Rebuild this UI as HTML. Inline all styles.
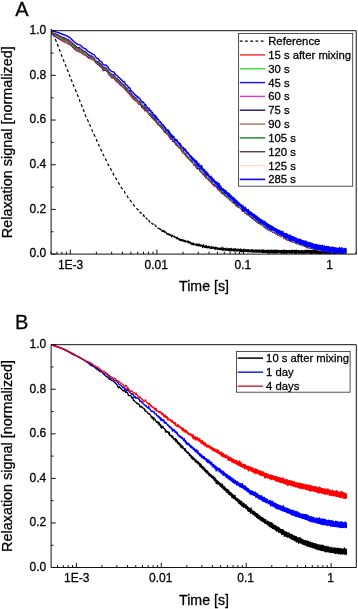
<!DOCTYPE html>
<html><head><meta charset="utf-8"><title>Relaxation signal</title>
<style>
html,body{margin:0;padding:0;background:#fff;}
body{width:358px;height:609px;overflow:hidden;}
svg{display:block;font-family:"Liberation Sans", sans-serif;fill:#000;will-change:transform;}
text{stroke:#000;stroke-width:0.28px;stroke-linejoin:round;}
</style></head>
<body>
<svg width="358" height="609" viewBox="0 0 358 609">
<rect width="358" height="609" fill="#fff"/>
<text x="15.3" y="16" font-size="20">A</text>
<text x="14.9" y="329.3" font-size="20">B</text>
<!-- panel A -->
<path d="M51.1,254.10 h4.6 M51.1,231.76 h2.4 M51.1,209.42 h4.6 M51.1,187.08 h2.4 M51.1,164.74 h4.6 M51.1,142.40 h2.4 M51.1,120.06 h4.6 M51.1,97.72 h2.4 M51.1,75.38 h4.6 M51.1,53.04 h2.4 M51.1,30.70 h4.6 M51.10,254.1 v-2.4 M56.90,254.1 v-2.4 M61.92,254.1 v-2.4 M66.35,254.1 v-2.4 M70.31,254.1 v-4.6 M96.38,254.1 v-2.4 M111.63,254.1 v-2.4 M122.45,254.1 v-2.4 M130.85,254.1 v-2.4 M137.71,254.1 v-2.4 M143.50,254.1 v-2.4 M148.53,254.1 v-2.4 M152.96,254.1 v-2.4 M156.92,254.1 v-4.6 M182.99,254.1 v-2.4 M198.24,254.1 v-2.4 M209.06,254.1 v-2.4 M217.45,254.1 v-2.4 M224.31,254.1 v-2.4 M230.11,254.1 v-2.4 M235.13,254.1 v-2.4 M239.56,254.1 v-2.4 M243.52,254.1 v-4.6 M269.59,254.1 v-2.4 M284.85,254.1 v-2.4 M295.67,254.1 v-2.4 M304.06,254.1 v-2.4 M310.92,254.1 v-2.4 M316.71,254.1 v-2.4 M321.74,254.1 v-2.4 M326.17,254.1 v-2.4 M330.13,254.1 v-4.6 M356.20,254.1 v-2.4" fill="none" stroke="#111" stroke-width="1"/>
<g>
<path d="M51.1,29.1 56.9,42.9 61.9,56.3 66.4,67.3 70.3,77.3 73.9,86.4 77.2,94.1 80.2,102.0 83.0,108.6 85.6,115.9 88.0,120.8 90.3,126.0 92.4,130.9 94.5,135.4 96.4,139.6 98.2,143.7 100.0,147.7 101.6,151.0 103.2,154.6 104.8,157.4 106.3,160.4 107.7,163.6 109.0,166.0 110.4,168.2 111.6,170.7 112.9,173.1 114.1,175.6 115.2,177.1 116.3,179.0 117.4,181.2 118.5,182.5 119.5,184.4 120.5,186.3 121.5,187.8 122.5,189.1 123.4,190.7 124.3,191.2 125.2,193.5 126.0,194.2 126.9,195.3 127.7,197.0 128.5,198.2 129.3,199.0 130.1,199.8 130.8,201.2 131.6,202.1 132.3,203.5 133.0,204.2 133.7,204.9 134.4,206.1 135.1,206.5 135.8,207.0 136.4,208.3 137.1,209.1 137.7,209.5 138.3,210.0 138.9,211.0 139.5,210.8 140.1,212.5 140.7,213.1 141.3,212.9 141.9,214.1 142.4,214.3 143.0,215.5 143.5,215.0 144.0,215.9 144.6,217.0 145.1,217.7 145.6,216.9 146.1,218.0 146.6,218.8 147.1,218.9 147.6,220.2 148.1,219.5 148.5,220.5 149.0,220.4 149.5,221.8 149.9,221.6 150.4,221.8 150.8,221.6 151.2,223.4 151.7,223.3 152.1,223.7 152.5,224.2 153.0,224.2 153.4,224.1 153.8,224.4 154.2,224.7 154.6,225.9 155.0,225.0 155.4,225.6 155.8,226.0 156.2,226.5 156.5,227.0 156.9,226.4 157.3,226.5 157.7,227.5 158.0,228.3 158.4,228.3 158.8,228.3 159.1,228.3 159.5,228.8 159.8,228.8" fill="none" stroke="#000" stroke-width="1.25" stroke-dasharray="2.9 2.5"/>
<path d="M159.8,228.8 160.2,229.5 160.5,229.0 160.8,229.7 161.2,229.8 161.5,230.3 161.8,230.3 162.2,231.6 162.5,231.3 162.8,231.5 163.1,230.1 163.5,231.1 163.8,231.1 164.1,231.8 164.4,230.7 164.7,232.5 165.0,232.6 165.3,231.7 165.6,232.0 165.9,232.3 166.2,232.8 166.5,233.3 166.8,234.1 167.1,233.2 167.4,233.8 167.6,233.7 167.9,234.6 168.2,234.3 168.5,234.7 168.8,233.6 169.0,234.2 169.4,234.1 169.4,235.3 169.8,235.1 170.1,234.7 170.4,234.8 170.6,235.4 170.9,234.9 171.2,234.9 171.5,236.9 171.5,235.8 171.9,235.6 172.2,235.6 172.4,235.4 172.7,235.4 173.0,236.5 173.0,236.8 173.4,236.5 173.6,236.8 173.9,236.8 174.2,236.9 174.2,236.1 174.6,236.8 174.8,237.2 175.2,236.8 175.2,237.1 175.5,237.0 175.8,237.4 176.0,238.1 176.3,237.7 176.3,237.5 176.7,238.4 177.0,238.4 177.0,239.0 177.3,237.1 177.5,238.8 177.9,238.5 177.9,238.1 178.2,239.0 178.4,239.2 178.7,238.9 178.7,239.3 179.0,239.8 179.3,239.0 179.3,238.8 179.6,239.6 180.0,238.9 180.0,240.5 180.3,240.0 180.6,240.7 180.6,239.5 180.9,239.4 181.2,239.8 181.2,240.2 181.5,239.5 181.7,240.1 181.7,240.0 182.0,241.0 182.3,239.8 182.3,240.8 182.6,239.9 182.9,240.1 182.9,239.8 183.3,239.9 183.3,240.7 183.5,241.2 183.8,241.1 183.8,240.8 184.2,241.1 184.2,241.7 184.5,241.1 184.7,240.9 184.7,240.2 185.1,240.3 185.1,241.6 185.4,241.6 185.6,242.0 185.6,241.3 186.0,241.1 186.0,241.4 186.2,241.8 186.5,241.6 186.5,241.3 186.8,241.7 186.8,241.8 187.2,241.8 187.2,241.5 187.5,240.9 187.5,241.9 187.8,242.0 188.0,242.8 188.0,241.5 188.3,241.2 188.3,242.9 188.7,242.4 188.7,242.3 189.0,241.9 189.0,242.8 189.3,242.3 189.3,241.6 189.6,242.5 189.6,242.6 189.8,242.8 190.1,243.2 190.1,242.1 190.4,242.3 190.4,243.3 190.7,243.0 190.7,242.6 191.0,242.8 191.0,244.1 191.3,243.3 191.3,242.7 191.6,242.8 191.6,243.3 191.9,244.6 191.9,243.3 192.2,243.5 192.2,243.7 192.5,244.8 192.5,243.5 192.8,243.3 192.8,244.0 193.1,244.1 193.1,243.1 193.5,243.8 193.5,244.8 193.8,243.9 193.8,243.4 194.1,243.5 194.1,244.3 194.3,244.6 194.3,244.5 194.6,244.5 194.6,244.8 194.9,244.7 194.9,244.2 195.2,244.2 195.2,244.7 195.6,245.1 195.6,244.5 195.8,244.2 195.8,244.8 196.1,245.5 196.1,244.4 196.4,244.5 196.4,245.3 196.8,244.9 196.8,243.6 197.0,244.3 197.0,245.4 197.4,245.6 197.4,244.5 197.7,244.1 197.7,245.0 197.9,246.0 197.9,244.6 198.2,244.5 198.2,246.0 198.6,245.6 198.6,245.1 198.9,243.9 198.9,245.3 199.2,244.6 199.2,244.5 199.5,244.4 199.5,245.5 199.8,245.9 199.8,245.0 200.1,245.2 200.1,246.3 200.4,245.5 200.4,244.9 200.7,244.9 200.7,246.1 201.0,246.0 201.0,245.8 201.3,245.5 201.3,245.9 201.5,245.6 201.5,245.1 201.8,245.0 201.8,245.6 202.2,246.3 202.2,245.4 202.4,246.5 202.4,247.6 202.7,246.5 202.7,245.7 203.1,245.7 203.1,246.7 203.4,246.6 203.4,244.5 203.7,245.9 203.7,247.0 203.9,247.1 203.9,245.6 204.3,246.4 204.3,247.1 204.6,246.9 204.6,246.3 204.9,246.0 204.9,246.8 205.1,247.8 205.1,246.3 205.4,246.0 205.4,247.0 205.7,247.3 205.7,246.7 206.0,245.3 206.0,246.6 206.3,247.6 206.3,246.2 206.6,246.1 206.6,247.1 206.9,247.2 206.9,246.2 207.2,246.6 207.2,247.3 207.5,247.9 207.5,246.9 207.8,246.7 207.8,247.5 208.1,247.7 208.1,246.9 208.4,246.1 208.4,247.8 208.8,247.6 208.8,247.3 209.1,247.0 209.1,247.5 209.3,248.0 209.3,246.7 209.6,246.6 209.6,247.2 209.9,248.2 209.9,247.0 210.3,247.9 210.3,248.2 210.5,248.1 210.5,247.8 210.9,247.1 210.9,248.6 211.2,248.1 211.2,246.4 211.4,247.4 211.4,248.0 211.7,248.2 211.7,247.3 212.0,247.8 212.0,248.4 212.3,248.3 212.3,247.0 212.6,247.2 212.6,247.8 212.9,248.3 212.9,247.2 213.2,246.9 213.2,248.2 213.5,248.3 213.5,247.2 213.9,247.7 213.9,248.2 214.2,248.6 214.2,247.6 214.4,247.7 214.4,248.8 214.8,248.6 214.8,247.9 215.0,247.8 215.0,248.6 215.3,249.6 215.3,248.1 215.6,247.0 215.6,248.3 216.0,248.7 216.0,247.4 216.3,247.6 216.3,248.8 216.6,248.9 216.6,247.6 216.9,247.7 216.9,248.3 217.2,248.9 217.2,248.3 217.4,248.8 217.4,249.4 217.7,249.2 217.7,247.8 218.0,248.5 218.0,249.4 218.4,249.5 218.4,248.4 218.7,248.3 218.7,248.7 219.0,249.7 219.0,248.4 219.3,248.0 219.3,249.0 219.5,249.0 219.5,248.2 219.9,248.8 219.9,249.5 220.2,248.9 220.2,248.2 220.5,248.1 220.5,249.7 220.7,249.3 220.7,248.7 221.0,248.0 221.0,249.7 221.3,249.4 221.3,248.4 221.6,248.0 221.6,249.6 221.9,249.6 221.9,248.4 222.2,247.1 222.2,249.9 222.5,249.6 222.5,248.7 222.8,248.5 222.8,249.5 223.2,250.5 223.2,248.7 223.5,247.9 223.5,249.3 223.7,249.8 223.7,248.7 224.1,248.5 224.1,249.7 224.4,249.6 224.4,248.6 224.7,248.8 224.7,249.9 224.9,249.9 224.9,248.8 225.2,248.5 225.2,249.7 225.5,250.2 225.5,248.3 225.8,248.8 225.8,250.6 226.1,249.8 226.1,248.0 226.4,248.9 226.4,249.8 226.7,250.2 226.7,249.1 227.0,249.0 227.0,250.3 227.3,250.0 227.3,248.8 227.7,248.7 227.7,249.7 228.0,250.4 228.0,249.1 228.2,248.7 228.2,250.2 228.5,250.4 228.5,248.4 228.9,249.1 228.9,250.0 229.2,251.0 229.2,249.4 229.5,248.8 229.5,250.6 229.8,250.1 229.8,248.9 230.1,249.0 230.1,250.6 230.3,250.1 230.3,248.5 230.6,248.7 230.6,250.5 230.9,250.0 230.9,248.8 231.2,248.2 231.2,250.9 231.6,250.5 231.6,249.1 231.9,249.0 231.9,250.3 232.1,250.3 232.1,249.5 232.4,249.6 232.4,250.3 232.7,250.7 232.7,249.3 233.0,249.0 233.0,249.8 233.3,250.8 233.3,249.5 233.7,248.9 233.7,250.8 234.0,251.1 234.0,249.3 234.3,249.0 234.3,250.1 234.5,250.7 234.5,249.1 234.8,249.2 234.8,250.6 235.2,250.1 235.2,248.4 235.5,249.1 235.5,250.7 235.8,250.9 235.8,249.7 236.1,249.5 236.1,250.6 236.4,251.1 236.4,249.5 236.7,249.3 236.7,251.3 236.9,251.0 236.9,249.2 237.2,249.1 237.2,250.1 237.5,251.0 237.5,249.8 237.9,249.4 237.9,250.6 238.2,251.0 238.2,249.8 238.5,249.0 238.5,250.9 238.8,250.7 238.8,249.5 239.1,249.9 239.1,251.0 239.4,251.1 239.4,249.3 239.6,250.2 239.6,251.2 239.9,251.2 239.9,249.5 240.2,249.7 240.2,251.2 240.6,251.5 240.6,250.0 240.9,248.7 240.9,251.4 241.2,250.7 241.2,250.0 241.5,249.5 241.5,251.9 241.8,250.9 241.8,249.9 242.0,249.8 242.0,251.3 242.4,251.5 242.4,250.1 242.6,250.0 242.6,251.2 242.9,251.6 242.9,250.0 243.2,249.7 243.2,251.1 243.5,252.3 243.5,249.4 243.8,249.0 243.8,251.2 244.1,251.3 244.1,250.0 244.5,249.9 244.5,251.2 244.8,250.9 244.8,249.4 245.1,250.1 245.1,251.4 245.3,250.9 245.3,249.7 245.6,249.7 245.6,251.4 245.9,251.4 245.9,250.1 246.2,249.8 246.2,251.5 246.6,251.3 246.6,249.5 246.9,250.4 246.9,251.4 247.1,251.3 247.1,250.3 247.4,249.6 247.4,251.4 247.8,251.8 247.8,250.1 248.1,250.1 248.1,251.4 248.4,251.0 248.4,249.9 248.6,249.6 248.6,251.6 248.9,251.8 248.9,250.0 249.3,250.1 249.3,251.6 249.6,251.9 249.6,250.3 249.8,250.1 249.8,251.4 250.1,251.3 250.1,250.2 250.4,250.0 250.4,251.8 250.7,251.8 250.7,250.6 251.0,250.0 251.0,251.6 251.4,251.5 251.4,250.0 251.7,249.7 251.7,251.5 252.0,252.2 252.0,250.1 252.3,249.9 252.3,251.8 252.6,251.7 252.6,249.9 252.9,250.4 252.9,251.7 253.1,252.0 253.1,250.0 253.4,250.1 253.4,252.1 253.8,251.7 253.8,250.4 254.1,250.6 254.1,251.8 254.3,252.4 254.3,250.4 254.6,250.6 254.6,251.4 255.0,251.6 255.0,250.3 255.3,249.9 255.3,251.6 255.6,251.5 255.6,250.5 255.9,250.4 255.9,251.8 256.2,252.4 256.2,249.7 256.4,250.2 256.4,251.4 256.8,252.0 256.8,250.7 257.1,250.6 257.1,251.6 257.4,252.0 257.4,250.1 257.7,250.3 257.7,251.9 258.0,251.8 258.0,250.5 258.3,250.1 258.3,252.1 258.6,252.0 258.6,250.6 258.9,250.7 258.9,252.2 259.2,252.0 259.2,249.7 259.5,250.8 259.5,252.1 259.8,252.1 259.8,250.4 260.0,250.4 260.0,252.3 260.3,252.1 260.3,250.5 260.6,250.7 260.6,252.1 260.9,252.0 260.9,250.4 261.2,250.2 261.2,252.0 261.6,252.2 261.6,249.9 261.9,250.4 261.9,252.5 262.2,252.6 262.2,250.7 262.5,250.3 262.5,252.1 262.7,252.4 262.7,250.0 263.0,250.0 263.0,252.6 263.3,252.6 263.3,249.8 263.6,250.6 263.6,252.2 264.0,252.2 264.0,250.0 264.3,250.7 264.3,252.0 264.6,252.6 264.6,250.5 264.9,250.6 264.9,252.0 265.2,252.4 265.2,250.9 265.5,250.5 265.5,252.3 265.7,252.6 265.7,250.4 266.0,250.3 266.0,252.5 266.4,252.0 266.4,250.3 266.7,250.6 266.7,252.5 266.9,252.3 266.9,250.4 267.2,250.3 267.2,252.4 267.5,252.9 267.5,250.3 267.8,251.0 267.8,252.1 268.1,252.5 268.1,250.5 268.4,250.2 268.4,251.9 268.7,252.3 268.7,250.5 269.1,250.0 269.1,253.4 269.3,252.2 269.3,250.7 269.6,250.7 269.6,252.5 270.0,252.5 270.0,250.3 270.3,251.1 270.3,252.2 270.6,252.7 270.6,251.4 270.9,250.8 270.9,252.6 271.2,252.2 271.2,250.1 271.4,250.2 271.4,252.3 271.8,252.2 271.8,250.3 272.1,251.0 272.1,253.1 272.3,252.7 272.3,250.2 272.6,251.2 272.6,252.7 272.9,252.3 272.9,250.9 273.2,250.6 273.2,252.2 273.5,252.6 273.5,250.1 273.8,250.6 273.8,253.3 274.1,252.4 274.1,251.0 274.4,250.3 274.4,252.3 274.7,252.7 274.7,250.5 275.0,250.2 275.0,252.9 275.4,252.3 275.4,250.8 275.7,250.3 275.7,253.0 275.9,252.8 275.9,250.8 276.2,250.4 276.2,252.9 276.5,252.3 276.5,250.8 276.8,250.1 276.8,252.9 277.2,253.1 277.2,250.5 277.4,250.5 277.4,252.7 277.8,252.2 277.8,250.7 278.1,250.8 278.1,252.8 278.4,252.2 278.4,250.1 278.7,250.9 278.7,252.6 279.0,252.7 279.0,250.5 279.3,250.5 279.3,252.7 279.5,252.5 279.5,250.5 279.9,250.6 279.9,252.5 280.2,252.9 280.2,250.6 280.4,251.0 280.4,252.8 280.7,252.7 280.7,250.6 281.0,250.6 281.0,252.5 281.3,252.7 281.3,250.4 281.6,250.6 281.6,253.4 281.9,252.8 281.9,250.5 282.3,250.7 282.3,252.9 282.6,252.9 282.6,250.5 282.8,250.8 282.8,252.3 283.2,253.2 283.2,250.1 283.5,250.6 283.5,252.9 283.8,252.8 283.8,250.7 284.0,250.8 284.0,252.5 284.3,253.0 284.3,250.2 284.7,250.4 284.7,252.9 285.0,253.0 285.0,250.1 285.3,250.3 285.3,252.8 285.5,252.7 285.5,250.7 285.8,250.7 285.8,253.0 286.2,253.4 286.2,250.8 286.5,250.4 286.5,252.9 286.8,252.5 286.8,250.8 287.0,250.8 287.0,252.8 287.3,253.1 287.3,250.8 287.7,250.5 287.7,252.7 288.0,252.7 288.0,250.6 288.3,250.9 288.3,252.8 288.5,252.7 288.5,250.7 288.8,250.9 288.8,252.7 289.2,252.9 289.2,250.8 289.5,250.5 289.5,253.1 289.8,253.0 289.8,250.2 290.1,251.1 290.1,252.6 290.4,253.0 290.4,250.5 290.6,251.0 290.6,252.7 290.9,252.7 290.9,250.9 291.3,250.2 291.3,252.9 291.6,253.3 291.6,250.7 291.8,251.0 291.8,252.8 292.1,252.7 292.1,250.8 292.4,250.3 292.4,253.3 292.7,252.8 292.7,251.0 293.1,250.8 293.1,252.6 293.4,252.5 293.4,250.3 293.7,250.9 293.7,252.5 293.9,252.8 293.9,251.2 294.2,250.2 294.2,253.2 294.5,253.0 294.5,250.9 294.8,250.6 294.8,253.2 295.1,253.1 295.1,250.5 295.5,251.2 295.5,253.2 295.8,252.7 295.8,250.6 296.1,250.2 296.1,253.1 296.4,252.8 296.4,250.0 296.6,250.6 296.6,253.3 297.0,253.0 297.0,250.9 297.2,250.9 297.2,253.0 297.5,252.9 297.5,250.8 297.9,250.7 297.9,252.9 298.2,252.8 298.2,250.6 298.5,250.8 298.5,252.6 298.8,252.8 298.8,250.4 299.1,250.6 299.1,253.0 299.4,253.4 299.4,250.5 299.6,251.0 299.6,253.1 299.9,253.0 299.9,250.8 300.2,251.1 300.2,252.9 300.5,252.8 300.5,250.9 300.8,250.6 300.8,253.2 301.2,253.4 301.2,251.1 301.4,250.9 301.4,253.2 301.8,253.2 301.8,250.4 302.0,250.3 302.0,253.1 302.4,253.0 302.4,250.8 302.7,250.8 302.7,253.0 303.0,253.2 303.0,250.8 303.3,251.1 303.3,253.1 303.6,252.9 303.6,250.7 303.9,250.9 303.9,253.3 304.2,252.9 304.2,250.9 304.5,251.0 304.5,252.8 304.8,252.9 304.8,250.3 305.1,250.7 305.1,253.0 305.4,253.4 305.4,250.7 305.6,250.4 305.6,252.7 305.9,252.8 305.9,250.5 306.2,250.3 306.2,253.0 306.6,252.8 306.6,250.3 306.8,250.7 306.8,252.7 307.2,253.0 307.2,250.3 307.5,250.9 307.5,252.8 307.7,253.0 307.7,250.6 308.1,250.1 308.1,253.2 308.4,253.1 308.4,250.7 308.6,250.7 308.6,253.0 309.0,253.0 309.0,250.5 309.2,250.3 309.2,253.3 309.5,253.1 309.5,250.3 309.9,250.9 309.9,253.0 310.1,253.2 310.1,250.6 310.4,250.5 310.4,253.0 310.7,253.4 310.7,250.6 311.1,250.6 311.1,253.1 311.3,252.8 311.3,250.5 311.6,250.9 311.6,253.4 311.9,253.4 311.9,251.0 312.2,250.5 312.2,252.9 312.6,253.1 312.6,251.0 312.8,250.8 312.8,253.3 313.1,252.9 313.1,250.8 313.4,250.8 313.4,253.2 313.7,253.0 313.7,250.6 314.1,250.3 314.1,253.0 314.3,253.1 314.3,250.8 314.6,250.5 314.6,252.9 314.9,253.1 314.9,250.8 315.2,250.5 315.2,252.8 315.5,253.2 315.5,250.6 315.8,251.1 315.8,253.4 316.2,253.4 316.2,250.4 316.4,250.9 316.4,252.8 316.7,252.8 316.7,250.2 317.1,250.7 317.1,253.1 317.4,252.7 317.4,250.7 317.7,250.9 317.7,253.0 318.0,253.4 318.0,250.6 318.2,250.8 318.2,253.4 318.5,253.2 318.5,250.2 318.8,250.9 318.8,253.0 319.2,253.4 319.2,250.3 319.5,250.8 319.5,253.4 319.7,253.1 319.7,250.9 320.0,250.7 320.0,253.1 320.3,253.4 320.3,250.5 320.7,250.9 320.7,252.9 320.9,253.2 320.9,250.6 321.2,250.3 321.2,252.7 321.6,252.9 321.6,250.9 321.9,250.8 321.9,253.4 322.1,252.9 322.1,250.1 322.4,250.7 322.4,253.3 322.7,253.3 322.7,251.0 323.1,250.7 323.1,253.0 323.4,253.0 323.4,250.7 323.7,250.5 323.7,253.2 323.9,253.3 323.9,250.4 324.3,250.4 324.3,253.4 324.6,253.4 324.6,250.6 324.9,250.9 324.9,253.4 325.2,253.0 325.2,250.7 325.5,250.6 325.5,252.9 325.8,253.3 325.8,250.3 326.1,250.6 326.1,253.1 326.4,253.3 326.4,250.5 326.7,250.8 326.7,253.2 326.9,253.1 326.9,250.5 327.3,250.6 327.3,253.2 327.6,252.9 327.6,250.2 327.8,250.6 327.8,253.3 328.2,253.4 328.2,250.9 328.5,250.7 328.5,253.3 328.8,253.0 328.8,250.6 329.0,250.6 329.0,253.4 329.4,253.4 329.4,250.9 329.7,250.8 329.7,252.9 330.0,253.4 330.0,249.9 330.3,250.6 330.3,253.1 330.5,253.3 330.5,250.8 330.8,250.5 330.8,252.9 331.2,253.3 331.2,250.0 331.5,250.3 331.5,253.4 331.8,253.3 331.8,250.6 332.1,250.6 332.1,252.9 332.4,253.0 332.4,251.0 332.6,250.9 332.6,253.0 332.9,253.4 332.9,250.8 333.2,250.7 333.2,253.4 333.5,253.3 333.5,250.4 333.8,250.6 333.8,253.4 334.1,253.4 334.1,251.0 334.5,250.8 334.5,253.4 334.8,253.4 334.8,250.5 335.1,250.8 335.1,253.4 335.3,253.4 335.3,250.8 335.6,250.4 335.6,253.0 336.0,253.4 336.0,250.8 336.3,250.6 336.3,253.3 336.5,253.3 336.5,250.9 336.9,250.6 336.9,253.3 337.2,253.0 337.2,250.2 337.5,250.9 337.5,252.9 337.7,253.3 337.7,250.7 338.0,250.7 338.0,253.4 338.4,253.0 338.4,250.6 338.6,250.8 338.6,253.1 338.9,253.0 338.9,250.6 339.3,250.4 339.3,253.3 339.6,253.3 339.6,250.5 339.8,250.5 339.8,253.1 340.2,253.3 340.2,250.6 340.5,250.6 340.5,253.4 340.7,253.4 340.7,250.9 341.0,250.7 341.0,253.3 341.3,253.4 341.3,250.7 341.7,250.6 341.7,253.3 342.0,253.4 342.0,250.8 342.3,250.9 342.3,253.3 342.6,253.3 342.6,250.7 342.9,250.6 342.9,253.2 343.2,252.9 343.2,250.8 343.5,250.0 343.5,253.4 343.7,253.0 343.7,250.7 344.0,250.7 344.0,253.3 344.4,253.4 344.4,250.4 344.7,250.3 344.7,253.4 344.9,253.2 344.9,250.4 345.3,250.0 345.3,253.2 345.6,253.4 345.6,250.7 345.8,250.5 345.8,253.2" fill="none" stroke="#000" stroke-width="1.1" stroke-linejoin="round"/>
<path d="M51.1,34.2 56.9,37.8 61.9,41.0 66.4,43.3 70.3,45.0 73.9,49.0 77.2,51.5 80.2,52.2 83.0,54.7 85.6,55.4 88.0,58.1 90.3,58.8 92.4,59.7 94.5,61.5 96.4,63.9 98.2,64.8 100.0,66.9 101.6,67.7 103.2,71.0 104.8,70.4 106.3,71.1 107.7,72.7 109.0,75.5 110.4,76.1 111.6,78.2 112.9,78.0 114.1,78.8 115.2,80.5 116.3,82.1 117.4,82.1 118.5,83.7 119.5,84.0 120.5,85.7 121.5,86.4 122.5,87.1 123.4,88.3 124.3,87.9 125.2,89.7 126.0,91.1 126.9,91.8 127.7,92.6 128.5,93.8 129.3,93.6 130.1,95.9 130.8,96.1 131.6,96.9 132.3,98.6 133.0,99.0 133.7,100.0 134.4,99.9 135.1,101.2 135.8,101.0 136.4,101.3 137.1,102.0 137.7,103.5 138.3,103.4 138.9,105.0 139.5,104.3 140.1,104.6 140.7,105.7 141.3,105.9 141.9,107.9 142.4,108.0 143.0,108.9 143.5,108.1 144.0,110.1 144.6,109.4 145.1,111.4 145.6,110.8 146.1,111.2 146.6,111.6 147.1,112.6 147.6,112.5 148.1,113.1 148.5,114.4 149.0,113.9 149.5,115.8 149.9,115.3 150.4,116.4 150.8,115.7 151.2,116.8 151.7,117.1 152.1,118.5 152.5,118.2 153.0,119.1 153.4,119.7 153.8,120.2 154.2,120.4 154.6,121.1 155.0,120.3 155.4,121.4 155.8,122.5 156.2,121.5 156.5,122.6 156.9,122.8 157.3,124.1 157.7,124.2 158.0,125.4 158.4,124.7 158.8,125.2 159.1,125.9 159.5,126.4 159.8,126.6 160.2,126.5 160.5,127.6 160.8,127.3 161.2,127.9 161.5,128.5 161.8,128.2 162.2,128.6 162.5,129.5 162.8,129.5 163.1,129.2 163.5,130.0 163.8,130.4 164.1,131.3 164.4,132.7 164.7,131.2 165.0,133.0 165.3,132.5 165.6,133.4 165.9,133.2 166.2,132.7 166.5,133.4 166.8,133.4 167.1,133.2 167.4,134.3 167.6,134.9 167.9,135.0 168.2,135.6 168.5,134.9 168.8,136.9 169.0,135.7 169.4,136.2 169.4,137.2 169.8,136.8 170.1,139.2 170.4,138.4 170.6,139.4 170.9,138.2 171.2,137.9 171.5,139.9 171.5,138.8 171.9,139.3 172.2,139.7 172.4,141.0 172.7,141.2 173.0,140.5 173.0,141.6 173.4,141.4 173.6,141.0 173.9,141.2 174.2,143.0 174.2,142.2 174.6,142.2 174.8,141.4 175.2,142.2 175.2,143.7 175.5,144.3 175.8,144.3 176.0,143.6 176.3,145.8 176.3,144.8 176.7,143.1 177.0,144.8 177.0,146.2 177.3,144.5 177.5,146.3 177.9,147.0 177.9,146.5 178.2,146.9 178.4,146.8 178.7,146.6 178.7,147.3 179.0,147.9 179.3,148.0 179.3,147.0 179.6,148.4 180.0,147.6 180.0,148.9 180.3,149.3 180.6,149.3 180.6,149.2 180.9,149.6 181.2,149.6 181.2,150.3 181.5,151.5 181.7,151.6 181.7,151.4 182.0,151.6 182.3,150.7 182.3,152.2 182.6,153.7 182.9,152.3 182.9,150.5 183.3,151.6 183.3,152.5 183.5,153.1 183.8,153.0 183.8,151.3 184.2,153.7 184.2,153.8 184.5,151.8 184.7,154.8 184.7,154.2 185.1,153.8 185.1,154.7 185.4,154.3 185.6,155.3 185.6,154.8 186.0,154.7 186.0,154.9 186.2,156.2 186.5,156.1 186.5,155.7 186.8,155.7 186.8,156.0 187.2,158.3 187.2,157.1 187.5,157.2 187.5,158.3 187.8,157.0 188.0,157.4 188.0,156.5 188.3,157.5 188.3,157.9 188.7,158.6 188.7,158.2 189.0,158.4 189.0,158.7 189.3,159.4 189.3,159.0 189.6,159.2 189.6,160.1 189.8,160.0 190.1,159.8 190.1,159.2 190.4,159.5 190.4,159.6 190.7,160.5 190.7,160.5 191.0,160.0 191.0,160.2 191.3,162.0 191.3,160.9 191.6,161.7 191.6,161.8 191.9,162.4 191.9,161.2 192.2,162.4 192.2,163.1 192.5,162.7 192.5,161.9 192.8,162.8 192.8,162.9 193.1,162.8 193.1,162.3 193.5,163.5 193.5,163.8 193.8,165.7 193.8,163.0 194.1,164.1 194.1,164.6 194.3,165.9 194.3,164.1 194.6,164.0 194.6,164.3 194.9,166.1 194.9,164.4 195.2,165.1 195.2,166.2 195.6,166.0 195.6,165.4 195.8,165.6 195.8,166.9 196.1,167.1 196.1,165.8 196.4,166.5 196.4,168.3 196.8,167.4 196.8,165.5 197.0,166.9 197.0,169.1 197.4,167.5 197.4,166.7 197.7,167.5 197.7,168.1 197.9,168.4 197.9,168.0 198.2,167.9 198.2,170.0 198.6,168.1 198.6,167.9 198.9,168.6 198.9,168.8 199.2,170.1 199.2,169.5 199.5,169.3 199.5,170.2 199.8,171.6 199.8,170.5 200.1,169.9 200.1,170.4 200.4,171.5 200.4,170.8 200.7,170.4 200.7,171.5 201.0,172.0 201.0,171.4 201.3,171.9 201.3,173.0 201.5,172.2 201.5,170.6 201.8,171.1 201.8,172.9 202.2,173.3 202.2,171.6 202.4,173.1 202.4,173.4 202.7,173.7 202.7,172.6 203.1,174.5 203.1,175.3 203.4,174.6 203.4,174.3 203.7,173.0 203.7,174.0 203.9,175.4 203.9,174.1 204.3,174.5 204.3,175.1 204.6,175.7 204.6,174.0 204.9,175.5 204.9,176.5 205.1,177.2 205.1,175.4 205.4,175.5 205.4,177.0 205.7,176.7 205.7,175.0 206.0,176.5 206.0,177.8 206.3,178.1 206.3,176.2 206.6,176.2 206.6,176.6 206.9,178.9 206.9,177.5 207.2,177.8 207.2,178.4 207.5,178.9 207.5,176.2 207.8,178.3 207.8,178.8 208.1,179.9 208.1,177.4 208.4,177.3 208.4,179.4 208.8,180.6 208.8,177.8 209.1,178.8 209.1,181.0 209.3,180.9 209.3,179.6 209.6,180.5 209.6,181.1 209.9,182.1 209.9,178.7 210.3,180.4 210.3,181.8 210.5,182.6 210.5,181.2 210.9,180.0 210.9,181.8 211.2,182.5 211.2,181.7 211.4,181.3 211.4,182.2 211.7,183.8 211.7,181.3 212.0,181.8 212.0,182.1 212.3,183.5 212.3,181.8 212.6,182.6 212.6,183.8 212.9,185.1 212.9,181.9 213.2,182.8 213.2,183.3 213.5,185.6 213.5,182.9 213.9,184.3 213.9,185.1 214.2,186.7 214.2,184.5 214.4,183.7 214.4,185.9 214.8,185.2 214.8,184.1 215.0,184.3 215.0,186.2 215.3,186.0 215.3,183.9 215.6,185.7 215.6,186.6 216.0,186.8 216.0,185.2 216.3,184.7 216.3,187.4 216.6,187.6 216.6,185.8 216.9,186.7 216.9,187.2 217.2,188.1 217.2,187.3 217.4,186.6 217.4,188.3 217.7,188.6 217.7,187.0 218.0,187.5 218.0,189.4 218.4,190.3 218.4,188.1 218.7,187.5 218.7,189.3 219.0,190.6 219.0,188.3 219.3,189.3 219.3,191.1 219.5,190.9 219.5,188.8 219.9,189.6 219.9,190.6 220.2,192.1 220.2,189.3 220.5,189.6 220.5,191.4 220.7,192.0 220.7,189.0 221.0,190.0 221.0,191.3 221.3,193.8 221.3,191.0 221.6,190.9 221.6,192.6 221.9,193.2 221.9,190.8 222.2,191.4 222.2,193.2 222.5,193.3 222.5,191.7 222.8,191.1 222.8,193.7 223.2,194.0 223.2,191.7 223.5,192.2 223.5,194.0 223.7,194.2 223.7,192.5 224.1,193.5 224.1,195.0 224.4,195.9 224.4,192.5 224.7,193.0 224.7,196.1 224.9,195.1 224.9,194.0 225.2,194.0 225.2,195.7 225.5,195.9 225.5,194.2 225.8,193.8 225.8,196.2 226.1,196.4 226.1,194.8 226.4,193.7 226.4,196.5 226.7,197.9 226.7,195.5 227.0,195.8 227.0,196.7 227.3,197.4 227.3,195.0 227.7,195.7 227.7,197.3 228.0,198.0 228.0,195.9 228.2,196.4 228.2,198.5 228.5,198.7 228.5,197.0 228.9,197.2 228.9,198.2 229.2,199.6 229.2,197.1 229.5,198.3 229.5,200.2 229.8,199.8 229.8,197.7 230.1,198.0 230.1,199.2 230.3,200.4 230.3,197.4 230.6,199.1 230.6,201.2 230.9,200.0 230.9,198.3 231.2,199.4 231.2,200.6 231.6,201.6 231.6,197.9 231.9,198.8 231.9,201.7 232.1,201.7 232.1,199.7 232.4,199.5 232.4,201.2 232.7,201.9 232.7,199.9 233.0,200.7 233.0,202.6 233.3,203.7 233.3,201.7 233.7,200.8 233.7,202.9 234.0,203.5 234.0,201.5 234.3,201.6 234.3,203.8 234.5,203.9 234.5,201.3 234.8,202.4 234.8,203.9 235.2,204.4 235.2,201.6 235.5,202.7 235.5,205.0 235.8,205.5 235.8,202.9 236.1,203.3 236.1,205.2 236.4,206.9 236.4,203.6 236.7,203.5 236.7,205.1 236.9,205.4 236.9,204.3 237.2,204.6 237.2,206.7 237.5,206.4 237.5,204.5 237.9,204.6 237.9,207.4 238.2,207.2 238.2,204.2 238.5,205.0 238.5,207.5 238.8,207.0 238.8,204.5 239.1,206.1 239.1,207.7 239.4,206.9 239.4,204.9 239.6,205.8 239.6,207.9 239.9,208.1 239.9,206.3 240.2,206.2 240.2,208.6 240.6,209.1 240.6,207.3 240.9,206.7 240.9,209.0 241.2,209.4 241.2,207.3 241.5,207.5 241.5,211.0 241.8,210.0 241.8,207.8 242.0,208.6 242.0,210.4 242.4,210.5 242.4,208.6 242.6,208.9 242.6,210.8 242.9,212.0 242.9,209.5 243.2,209.5 243.2,211.7 243.5,211.7 243.5,209.0 243.8,210.0 243.8,211.7 244.1,211.9 244.1,208.8 244.5,209.8 244.5,212.2 244.8,212.4 244.8,210.0 245.1,210.5 245.1,212.4 245.3,212.3 245.3,210.6 245.6,210.9 245.6,213.6 245.9,213.5 245.9,210.9 246.2,210.9 246.2,213.7 246.6,213.4 246.6,212.4 246.9,212.8 246.9,215.2 247.1,213.8 247.1,212.2 247.4,212.4 247.4,213.6 247.8,215.0 247.8,213.0 248.1,212.2 248.1,214.8 248.4,215.5 248.4,212.9 248.6,213.8 248.6,214.9 248.9,215.5 248.9,212.9 249.3,213.8 249.3,216.0 249.6,216.7 249.6,213.9 249.8,213.9 249.8,216.2 250.1,216.9 250.1,214.1 250.4,213.4 250.4,216.4 250.7,217.4 250.7,214.5 251.0,214.3 251.0,217.1 251.4,217.7 251.4,215.4 251.7,215.2 251.7,218.1 252.0,217.9 252.0,216.6 252.3,216.6 252.3,217.9 252.6,218.6 252.6,216.3 252.9,216.6 252.9,218.7 253.1,218.5 253.1,216.5 253.4,217.1 253.4,218.7 253.8,219.8 253.8,217.6 254.1,217.4 254.1,219.3 254.3,219.8 254.3,218.2 254.6,217.9 254.6,220.8 255.0,220.1 255.0,218.3 255.3,218.8 255.3,221.0 255.6,220.8 255.6,218.3 255.9,217.9 255.9,220.8 256.2,221.2 256.2,218.6 256.4,219.0 256.4,222.1 256.8,222.5 256.8,218.5 257.1,219.5 257.1,222.0 257.4,222.8 257.4,219.9 257.7,219.6 257.7,222.8 258.0,222.4 258.0,219.5 258.3,220.3 258.3,223.0 258.6,222.9 258.6,220.4 258.9,220.4 258.9,223.0 259.2,223.0 259.2,221.4 259.5,221.3 259.5,224.3 259.8,223.5 259.8,221.1 260.0,221.1 260.0,223.8 260.3,224.1 260.3,221.8 260.6,221.7 260.6,224.4 260.9,224.5 260.9,222.0 261.2,222.6 261.2,225.2 261.6,225.1 261.6,222.7 261.9,222.4 261.9,224.6 262.2,225.3 262.2,222.0 262.5,222.1 262.5,225.5 262.7,225.6 262.7,222.9 263.0,223.1 263.0,225.9 263.3,225.6 263.3,223.6 263.6,223.2 263.6,226.3 264.0,226.7 264.0,224.0 264.3,224.4 264.3,227.2 264.6,226.6 264.6,224.4 264.9,224.8 264.9,227.2 265.2,227.6 265.2,224.4 265.5,225.4 265.5,228.7 265.7,228.0 265.7,226.1 266.0,226.0 266.0,228.5 266.4,228.5 266.4,225.4 266.7,225.8 266.7,227.9 266.9,228.3 266.9,225.7 267.2,225.2 267.2,228.4 267.5,228.7 267.5,226.4 267.8,226.6 267.8,228.6 268.1,229.1 268.1,227.7 268.4,227.0 268.4,230.4 268.7,229.7 268.7,226.9 269.1,226.6 269.1,230.5 269.3,230.7 269.3,227.4 269.6,227.3 269.6,230.2 270.0,230.3 270.0,228.0 270.3,227.4 270.3,230.7 270.6,230.7 270.6,227.6 270.9,228.7 270.9,231.7 271.2,231.2 271.2,228.7 271.4,228.6 271.4,231.2 271.8,231.2 271.8,229.1 272.1,229.0 272.1,231.4 272.3,231.8 272.3,228.6 272.6,229.5 272.6,231.9 272.9,233.0 272.9,229.9 273.2,229.3 273.2,232.4 273.5,232.5 273.5,229.8 273.8,229.5 273.8,232.6 274.1,232.3 274.1,229.8 274.4,230.1 274.4,232.9 274.7,233.0 274.7,230.3 275.0,230.2 275.0,233.8 275.4,233.9 275.4,230.4 275.7,230.7 275.7,233.4 275.9,233.8 275.9,231.3 276.2,231.0 276.2,233.5 276.5,233.9 276.5,231.9 276.8,231.5 276.8,234.0 277.2,234.5 277.2,232.0 277.4,231.1 277.4,235.7 277.8,235.0 277.8,232.6 278.1,231.8 278.1,234.6 278.4,235.5 278.4,232.2 278.7,232.5 278.7,235.4 279.0,235.0 279.0,232.1 279.3,233.0 279.3,235.6 279.5,236.2 279.5,232.4 279.9,233.0 279.9,236.1 280.2,235.9 280.2,232.5 280.4,233.5 280.4,236.3 280.7,236.5 280.7,233.3 281.0,233.8 281.0,236.5 281.3,236.9 281.3,233.1 281.6,234.0 281.6,236.3 281.9,237.4 281.9,233.9 282.3,234.4 282.3,237.5 282.6,237.0 282.6,234.1 282.8,234.5 282.8,237.2 283.2,237.1 283.2,235.1 283.5,234.8 283.5,239.1 283.8,237.7 283.8,235.3 284.0,234.3 284.0,237.5 284.3,237.6 284.3,234.9 284.7,234.9 284.7,238.6 285.0,238.3 285.0,235.2 285.3,235.5 285.3,238.8 285.5,238.4 285.5,236.0 285.8,235.9 285.8,239.0 286.2,238.8 286.2,235.8 286.5,235.7 286.5,239.1 286.8,239.5 286.8,236.3 287.0,235.8 287.0,240.6 287.3,239.5 287.3,236.8 287.7,236.7 287.7,239.1 288.0,240.5 288.0,237.3 288.3,236.5 288.3,240.7 288.5,239.4 288.5,237.0 288.8,237.0 288.8,240.4 289.2,240.6 289.2,237.1 289.5,237.2 289.5,241.2 289.8,240.4 289.8,236.9 290.1,237.3 290.1,241.4 290.4,241.1 290.4,237.2 290.6,238.4 290.6,240.9 290.9,242.2 290.9,237.8 291.3,238.2 291.3,241.8 291.6,241.7 291.6,237.8 291.8,238.2 291.8,242.3 292.1,241.7 292.1,239.2 292.4,238.5 292.4,241.3 292.7,241.8 292.7,239.2 293.1,238.8 293.1,242.3 293.4,242.8 293.4,239.1 293.7,239.1 293.7,242.0 293.9,242.2 293.9,238.7 294.2,239.3 294.2,242.4 294.5,243.0 294.5,239.5 294.8,239.9 294.8,242.4 295.1,242.7 295.1,239.3 295.5,240.1 295.5,243.1 295.8,243.6 295.8,240.3 296.1,239.7 296.1,243.1 296.4,244.0 296.4,240.5 296.6,240.7 296.6,244.2 297.0,243.5 297.0,240.5 297.2,240.3 297.2,243.1 297.5,243.9 297.5,240.3 297.9,241.2 297.9,244.4 298.2,243.7 298.2,240.5 298.5,241.5 298.5,244.2 298.8,243.9 298.8,240.6 299.1,241.1 299.1,243.8 299.4,244.2 299.4,241.4 299.6,241.2 299.6,245.1 299.9,244.6 299.9,240.2 300.2,241.9 300.2,244.9 300.5,244.8 300.5,241.4 300.8,241.4 300.8,246.0 301.2,245.7 301.2,240.8 301.4,242.0 301.4,244.9 301.8,244.9 301.8,241.9 302.0,242.2 302.0,245.4 302.4,245.4 302.4,241.5 302.7,241.5 302.7,245.8 303.0,245.4 303.0,242.5 303.3,242.5 303.3,245.7 303.6,245.7 303.6,241.9 303.9,242.7 303.9,245.9 304.2,246.4 304.2,242.4 304.5,243.0 304.5,246.4 304.8,246.8 304.8,242.3 305.1,242.7 305.1,245.9 305.4,246.2 305.4,242.9 305.6,243.2 305.6,247.4 305.9,247.0 305.9,243.6 306.2,243.4 306.2,246.5 306.6,246.3 306.6,242.8 306.8,243.7 306.8,247.2 307.2,248.4 307.2,243.4 307.5,243.8 307.5,247.2 307.7,246.2 307.7,243.8 308.1,244.0 308.1,247.3 308.4,247.3 308.4,243.5 308.6,244.2 308.6,247.4 309.0,247.5 309.0,243.9 309.2,244.0 309.2,247.5 309.5,247.7 309.5,244.1 309.9,243.9 309.9,247.9 310.1,248.0 310.1,244.7 310.4,244.1 310.4,248.3 310.7,247.9 310.7,244.6 311.1,243.7 311.1,248.8 311.3,248.3 311.3,244.6 311.6,245.2 311.6,247.9 311.9,248.0 311.9,244.8 312.2,244.6 312.2,249.6 312.6,248.2 312.6,244.9 312.8,244.6 312.8,248.8 313.1,249.4 313.1,244.6 313.4,245.5 313.4,248.1 313.7,248.8 313.7,245.3 314.1,245.8 314.1,248.7 314.3,249.7 314.3,245.3 314.6,244.6 314.6,248.5 314.9,249.1 314.9,245.9 315.2,245.5 315.2,248.8 315.5,249.0 315.5,245.0 315.8,245.2 315.8,248.9 316.2,249.1 316.2,244.8 316.4,245.5 316.4,249.8 316.7,249.3 316.7,246.1 317.1,245.8 317.1,249.0 317.4,249.7 317.4,246.0 317.7,245.6 317.7,249.7 318.0,249.7 318.0,246.3 318.2,245.8 318.2,249.5 318.5,249.1 318.5,246.0 318.8,246.3 318.8,250.4 319.2,250.1 319.2,246.5 319.5,245.2 319.5,249.3 319.7,249.9 319.7,246.1 320.0,246.2 320.0,250.2 320.3,250.0 320.3,245.8 320.7,246.2 320.7,250.2 320.9,250.0 320.9,246.5 321.2,247.0 321.2,250.2 321.6,249.7 321.6,246.9 321.9,246.3 321.9,250.6 322.1,250.3 322.1,245.6 322.4,246.6 322.4,250.2 322.7,250.6 322.7,246.4 323.1,246.6 323.1,251.4 323.4,250.6 323.4,247.2 323.7,246.4 323.7,250.6 323.9,250.9 323.9,246.7 324.3,247.2 324.3,250.2 324.6,251.7 324.6,247.0 324.9,247.3 324.9,251.2 325.2,250.9 325.2,246.9 325.5,246.2 325.5,250.8 325.8,251.2 325.8,247.0 326.1,247.0 326.1,250.9 326.4,250.9 326.4,247.0 326.7,247.3 326.7,251.1 326.9,251.0 326.9,247.4 327.3,247.6 327.3,250.8 327.6,251.2 327.6,247.4 327.8,247.9 327.8,251.3 328.2,251.2 328.2,248.1 328.5,248.1 328.5,251.9 328.8,251.1 328.8,247.4 329.0,247.9 329.0,251.9 329.4,251.6 329.4,248.1 329.7,247.8 329.7,252.2 330.0,251.5 330.0,248.0 330.3,248.1 330.3,252.2 330.5,252.1 330.5,248.0 330.8,248.3 330.8,251.8 331.2,252.0 331.2,247.6 331.5,247.3 331.5,251.7 331.8,251.9 331.8,248.4 332.1,248.0 332.1,251.8 332.4,252.1 332.4,248.6 332.6,248.2 332.6,251.6 332.9,252.4 332.9,248.7 333.2,248.1 333.2,252.0 333.5,251.9 333.5,248.4 333.8,248.3 333.8,251.8 334.1,252.4 334.1,247.9 334.5,248.4 334.5,252.3 334.8,252.6 334.8,248.1 335.1,248.5 335.1,252.7 335.3,252.0 335.3,248.6 335.6,248.8 335.6,253.1 336.0,252.1 336.0,248.6 336.3,248.9 336.3,253.2 336.5,252.8 336.5,248.9 336.9,248.6 336.9,253.5 337.2,252.7 337.2,249.0 337.5,248.9 337.5,252.5 337.7,252.5 337.7,249.2 338.0,248.9 338.0,252.6 338.4,252.6 338.4,248.6 338.6,248.4 338.6,253.3 338.9,252.3 338.9,249.1 339.3,249.5 339.3,253.2 339.6,253.2 339.6,249.4 339.8,248.7 339.8,253.1 340.2,253.4 340.2,248.8 340.5,249.2 340.5,252.7 340.7,253.2 340.7,249.0 341.0,248.9 341.0,253.1 341.3,252.4 341.3,249.3 341.7,249.2 341.7,252.8 342.0,253.2 342.0,249.2 342.3,249.2 342.3,253.0 342.6,253.2 342.6,247.9 342.9,249.5 342.9,253.3 343.2,252.8 343.2,248.9 343.5,249.1 343.5,253.6 343.7,253.1 343.7,248.8 344.0,249.4 344.0,252.7 344.4,253.2 344.4,248.9 344.7,249.1 344.7,253.1 344.9,253.5 344.9,249.6 345.3,249.1 345.3,253.4 345.6,253.0 345.6,249.2 345.8,249.2 345.8,253.3" fill="none" stroke="#ff0000" stroke-width="1.0" stroke-linejoin="round"/>
<path d="M51.1,33.2 56.9,35.7 61.9,39.2 66.4,41.4 70.3,43.2 73.9,46.9 77.2,49.9 80.2,50.5 83.0,52.9 85.6,53.6 88.0,55.8 90.3,57.6 92.4,57.8 94.5,59.5 96.4,62.5 98.2,62.8 100.0,65.4 101.6,66.5 103.2,69.2 104.8,69.0 106.3,69.7 107.7,71.6 109.0,73.9 110.4,74.6 111.6,75.9 112.9,76.6 114.1,76.8 115.2,79.2 116.3,80.7 117.4,80.6 118.5,81.6 119.5,82.3 120.5,83.6 121.5,84.7 122.5,85.2 123.4,86.8 124.3,86.5 125.2,88.2 126.0,89.9 126.9,90.8 127.7,90.4 128.5,93.1 129.3,92.5 130.1,94.0 130.8,94.1 131.6,94.6 132.3,96.0 133.0,96.5 133.7,98.0 134.4,98.8 135.1,99.5 135.8,100.2 136.4,100.4 137.1,101.0 137.7,101.4 138.3,101.4 138.9,102.4 139.5,103.4 140.1,103.3 140.7,104.5 141.3,104.9 141.9,106.6 142.4,106.4 143.0,107.0 143.5,107.0 144.0,107.9 144.6,108.1 145.1,109.6 145.6,108.9 146.1,109.7 146.6,110.7 147.1,111.5 147.6,110.8 148.1,112.6 148.5,112.6 149.0,112.5 149.5,113.2 149.9,113.2 150.4,115.0 150.8,114.3 151.2,116.0 151.7,116.6 152.1,116.7 152.5,117.4 153.0,117.6 153.4,117.6 153.8,118.0 154.2,119.8 154.6,120.2 155.0,119.8 155.4,119.6 155.8,120.1 156.2,121.1 156.5,120.4 156.9,121.5 157.3,122.9 157.7,122.8 158.0,123.3 158.4,123.9 158.8,123.7 159.1,123.8 159.5,125.0 159.8,124.9 160.2,125.5 160.5,126.8 160.8,125.7 161.2,126.9 161.5,126.5 161.8,127.6 162.2,127.5 162.5,127.9 162.8,129.3 163.1,127.9 163.5,130.0 163.8,129.1 164.1,129.5 164.4,131.1 164.7,129.5 165.0,130.1 165.3,131.0 165.6,131.9 165.9,132.3 166.2,131.9 166.5,131.7 166.8,133.3 167.1,133.4 167.4,132.6 167.6,133.7 167.9,135.1 168.2,134.5 168.5,134.1 168.8,135.0 169.0,134.5 169.4,135.3 169.4,136.3 169.8,135.5 170.1,136.3 170.4,137.2 170.6,138.1 170.9,137.9 171.2,136.4 171.5,138.8 171.5,137.9 171.9,137.5 172.2,138.8 172.4,139.2 172.7,139.5 173.0,139.8 173.0,140.3 173.4,140.1 173.6,140.2 173.9,140.6 174.2,140.7 174.2,140.1 174.6,140.8 174.8,140.3 175.2,142.4 175.2,143.4 175.5,143.7 175.8,141.1 176.0,143.3 176.3,143.9 176.3,143.7 176.7,144.1 177.0,143.1 177.0,143.8 177.3,143.7 177.5,144.2 177.9,145.8 177.9,144.6 178.2,144.8 178.4,145.3 178.7,146.0 178.7,147.5 179.0,145.9 179.3,148.3 179.3,147.5 179.6,146.1 180.0,146.8 180.0,147.1 180.3,146.7 180.6,149.0 180.6,147.9 180.9,148.9 181.2,148.8 181.2,149.1 181.5,149.7 181.7,150.4 181.7,149.3 182.0,148.8 182.3,149.8 182.3,151.4 182.6,149.5 182.9,150.8 182.9,150.7 183.3,150.5 183.3,150.9 183.5,152.6 183.8,152.7 183.8,150.8 184.2,152.2 184.2,152.5 184.5,152.1 184.7,153.2 184.7,152.8 185.1,152.2 185.1,153.5 185.4,153.0 185.6,154.0 185.6,153.7 186.0,154.8 186.0,155.9 186.2,154.9 186.5,155.7 186.5,155.0 186.8,154.1 186.8,155.5 187.2,155.3 187.2,154.9 187.5,156.5 187.5,157.0 187.8,156.6 188.0,157.2 188.0,155.5 188.3,156.0 188.3,156.8 188.7,156.5 188.7,156.5 189.0,157.0 189.0,158.1 189.3,158.4 189.3,157.3 189.6,157.5 189.6,159.1 189.8,158.2 190.1,160.0 190.1,159.9 190.4,159.3 190.4,159.5 190.7,160.2 190.7,159.4 191.0,159.5 191.0,161.0 191.3,159.7 191.3,158.8 191.6,160.7 191.6,160.8 191.9,161.5 191.9,161.5 192.2,161.3 192.2,161.4 192.5,161.3 192.5,161.3 192.8,161.0 192.8,161.4 193.1,162.2 193.1,160.5 193.5,161.9 193.5,162.5 193.8,163.3 193.8,162.3 194.1,162.9 194.1,164.4 194.3,164.1 194.3,163.1 194.6,162.7 194.6,163.8 194.9,165.0 194.9,163.5 195.2,164.2 195.2,165.4 195.6,165.1 195.6,164.8 195.8,164.0 195.8,165.1 196.1,166.2 196.1,165.4 196.4,165.3 196.4,165.8 196.8,166.4 196.8,164.1 197.0,167.2 197.0,167.6 197.4,166.6 197.4,165.9 197.7,167.1 197.7,167.5 197.9,167.8 197.9,166.7 198.2,167.5 198.2,168.3 198.6,168.4 198.6,167.5 198.9,168.6 198.9,169.0 199.2,170.1 199.2,167.3 199.5,167.2 199.5,169.1 199.8,169.6 199.8,168.0 200.1,169.5 200.1,170.7 200.4,169.7 200.4,169.2 200.7,169.7 200.7,172.1 201.0,171.5 201.0,169.6 201.3,170.3 201.3,171.8 201.5,170.6 201.5,169.9 201.8,170.9 201.8,172.3 202.2,172.4 202.2,170.7 202.4,171.9 202.4,173.2 202.7,173.0 202.7,171.9 203.1,172.3 203.1,174.4 203.4,173.7 203.4,173.0 203.7,172.4 203.7,173.4 203.9,175.1 203.9,172.4 204.3,173.0 204.3,174.0 204.6,175.3 204.6,172.9 204.9,174.1 204.9,175.7 205.1,175.3 205.1,174.3 205.4,174.4 205.4,175.2 205.7,176.8 205.7,174.2 206.0,175.7 206.0,176.8 206.3,176.6 206.3,175.7 206.6,175.8 206.6,177.1 206.9,177.7 206.9,176.8 207.2,174.7 207.2,177.6 207.5,177.3 207.5,176.6 207.8,177.0 207.8,178.1 208.1,178.5 208.1,176.5 208.4,178.4 208.4,179.2 208.8,180.0 208.8,178.3 209.1,178.4 209.1,179.3 209.3,179.7 209.3,178.7 209.6,178.1 209.6,180.1 209.9,180.2 209.9,178.7 210.3,178.5 210.3,180.7 210.5,180.0 210.5,179.4 210.9,180.3 210.9,181.9 211.2,181.5 211.2,179.5 211.4,180.5 211.4,181.7 211.7,181.9 211.7,180.2 212.0,180.2 212.0,182.3 212.3,182.6 212.3,180.2 212.6,181.4 212.6,181.7 212.9,183.2 212.9,182.8 213.2,181.6 213.2,183.5 213.5,184.7 213.5,182.3 213.9,182.8 213.9,184.5 214.2,184.8 214.2,183.4 214.4,183.0 214.4,184.3 214.8,185.0 214.8,182.4 215.0,185.0 215.0,185.6 215.3,185.7 215.3,184.0 215.6,183.9 215.6,185.3 216.0,186.9 216.0,183.8 216.3,185.3 216.3,187.6 216.6,187.0 216.6,185.1 216.9,184.9 216.9,187.6 217.2,186.9 217.2,186.6 217.4,186.0 217.4,187.4 217.7,187.8 217.7,186.3 218.0,186.3 218.0,188.4 218.4,188.2 218.4,186.8 218.7,187.5 218.7,188.2 219.0,189.1 219.0,187.4 219.3,187.2 219.3,188.8 219.5,189.4 219.5,187.1 219.9,187.5 219.9,190.2 220.2,190.1 220.2,188.3 220.5,189.9 220.5,190.5 220.7,190.4 220.7,189.1 221.0,189.3 221.0,191.0 221.3,191.8 221.3,189.4 221.6,189.4 221.6,190.9 221.9,191.8 221.9,189.7 222.2,189.6 222.2,192.1 222.5,191.8 222.5,190.6 222.8,192.0 222.8,192.6 223.2,193.2 223.2,191.5 223.5,191.1 223.5,193.1 223.7,193.1 223.7,191.6 224.1,191.3 224.1,193.3 224.4,194.7 224.4,193.7 224.7,192.9 224.7,193.9 224.9,195.7 224.9,193.4 225.2,193.1 225.2,194.4 225.5,194.9 225.5,193.9 225.8,193.3 225.8,195.1 226.1,195.2 226.1,193.6 226.4,193.9 226.4,195.0 226.7,196.5 226.7,193.8 227.0,195.7 227.0,197.2 227.3,196.7 227.3,193.7 227.7,195.5 227.7,197.3 228.0,198.4 228.0,195.4 228.2,194.5 228.2,197.2 228.5,198.2 228.5,196.0 228.9,196.4 228.9,198.9 229.2,198.7 229.2,196.0 229.5,197.2 229.5,199.6 229.8,199.2 229.8,196.6 230.1,197.6 230.1,199.3 230.3,199.5 230.3,198.0 230.6,197.3 230.6,199.7 230.9,200.1 230.9,198.0 231.2,198.6 231.2,200.1 231.6,200.3 231.6,198.3 231.9,198.2 231.9,201.4 232.1,200.1 232.1,198.9 232.4,199.2 232.4,201.2 232.7,201.7 232.7,199.2 233.0,200.0 233.0,201.3 233.3,203.1 233.3,198.8 233.7,199.8 233.7,201.9 234.0,202.8 234.0,200.5 234.3,201.2 234.3,202.8 234.5,203.4 234.5,200.9 234.8,200.5 234.8,203.7 235.2,203.7 235.2,201.9 235.5,202.0 235.5,203.2 235.8,204.2 235.8,202.2 236.1,201.2 236.1,204.4 236.4,206.1 236.4,202.8 236.7,202.9 236.7,204.4 236.9,206.6 236.9,203.7 237.2,203.3 237.2,205.4 237.5,205.5 237.5,203.4 237.9,203.2 237.9,205.5 238.2,206.3 238.2,203.4 238.5,204.0 238.5,206.9 238.8,206.5 238.8,205.2 239.1,205.6 239.1,207.6 239.4,207.4 239.4,205.2 239.6,205.6 239.6,207.2 239.9,207.6 239.9,206.2 240.2,205.6 240.2,208.6 240.6,208.0 240.6,206.7 240.9,205.8 240.9,208.1 241.2,208.9 241.2,207.3 241.5,206.8 241.5,209.1 241.8,209.1 241.8,206.9 242.0,207.2 242.0,209.0 242.4,209.9 242.4,207.2 242.6,208.1 242.6,210.6 242.9,211.6 242.9,208.2 243.2,207.5 243.2,210.6 243.5,209.9 243.5,208.4 243.8,209.5 243.8,210.7 244.1,211.3 244.1,209.1 244.5,209.0 244.5,211.6 244.8,211.1 244.8,209.8 245.1,209.7 245.1,211.2 245.3,211.8 245.3,210.0 245.6,210.1 245.6,212.8 245.9,213.1 245.9,210.3 246.2,210.4 246.2,212.9 246.6,213.1 246.6,210.7 246.9,211.0 246.9,213.6 247.1,213.0 247.1,211.1 247.4,211.9 247.4,213.7 247.8,214.1 247.8,212.1 248.1,212.2 248.1,214.5 248.4,214.7 248.4,212.4 248.6,212.3 248.6,214.7 248.9,215.2 248.9,212.1 249.3,212.7 249.3,215.2 249.6,215.8 249.6,212.7 249.8,213.1 249.8,216.1 250.1,216.6 250.1,213.9 250.4,213.6 250.4,216.5 250.7,216.4 250.7,213.3 251.0,214.6 251.0,215.9 251.4,217.0 251.4,213.4 251.7,215.8 251.7,217.2 252.0,217.5 252.0,214.3 252.3,215.1 252.3,217.7 252.6,218.3 252.6,215.3 252.9,215.6 252.9,218.0 253.1,217.8 253.1,215.8 253.4,215.1 253.4,218.3 253.8,218.6 253.8,216.4 254.1,217.2 254.1,218.9 254.3,219.1 254.3,217.1 254.6,216.6 254.6,219.3 255.0,219.9 255.0,217.5 255.3,217.3 255.3,220.0 255.6,220.8 255.6,217.3 255.9,217.8 255.9,220.1 256.2,220.5 256.2,218.1 256.4,217.4 256.4,221.6 256.8,221.0 256.8,218.0 257.1,218.1 257.1,221.5 257.4,221.7 257.4,219.9 257.7,219.6 257.7,222.1 258.0,221.9 258.0,219.2 258.3,219.5 258.3,222.3 258.6,223.0 258.6,218.9 258.9,219.8 258.9,223.2 259.2,223.2 259.2,219.6 259.5,220.3 259.5,223.0 259.8,223.5 259.8,221.2 260.0,220.9 260.0,222.5 260.3,223.2 260.3,221.3 260.6,220.7 260.6,224.3 260.9,224.5 260.9,221.0 261.2,221.8 261.2,223.9 261.6,224.4 261.6,222.2 261.9,222.0 261.9,224.1 262.2,224.8 262.2,222.4 262.5,221.9 262.5,224.5 262.7,225.3 262.7,223.0 263.0,222.4 263.0,225.1 263.3,225.9 263.3,222.2 263.6,223.3 263.6,225.2 264.0,225.8 264.0,223.0 264.3,223.7 264.3,225.9 264.6,225.9 264.6,222.6 264.9,223.5 264.9,226.3 265.2,227.2 265.2,223.6 265.5,223.8 265.5,227.0 265.7,227.1 265.7,224.8 266.0,224.9 266.0,227.8 266.4,227.7 266.4,224.5 266.7,225.0 266.7,228.0 266.9,228.4 266.9,225.0 267.2,225.6 267.2,228.2 267.5,228.1 267.5,225.5 267.8,226.3 267.8,228.1 268.1,228.6 268.1,226.2 268.4,226.1 268.4,229.2 268.7,228.8 268.7,226.8 269.1,227.2 269.1,229.5 269.3,229.2 269.3,226.9 269.6,226.7 269.6,229.8 270.0,230.2 270.0,226.4 270.3,227.4 270.3,229.9 270.6,229.8 270.6,227.8 270.9,227.1 270.9,230.3 271.2,230.7 271.2,226.9 271.4,227.7 271.4,230.4 271.8,231.0 271.8,228.5 272.1,228.1 272.1,231.3 272.3,231.2 272.3,228.6 272.6,229.1 272.6,231.8 272.9,231.5 272.9,229.0 273.2,229.5 273.2,231.4 273.5,231.9 273.5,229.5 273.8,229.0 273.8,231.7 274.1,231.7 274.1,229.6 274.4,229.6 274.4,232.5 274.7,232.6 274.7,229.8 275.0,229.8 275.0,233.1 275.4,234.0 275.4,230.7 275.7,229.9 275.7,233.1 275.9,233.3 275.9,230.9 276.2,230.9 276.2,233.6 276.5,234.0 276.5,230.5 276.8,231.2 276.8,233.9 277.2,234.4 277.2,230.3 277.4,231.4 277.4,234.2 277.8,234.3 277.8,232.1 278.1,231.3 278.1,234.0 278.4,235.2 278.4,232.6 278.7,231.9 278.7,234.7 279.0,234.8 279.0,231.6 279.3,231.7 279.3,234.5 279.5,235.2 279.5,233.0 279.9,233.2 279.9,235.7 280.2,235.6 280.2,232.4 280.4,232.2 280.4,235.7 280.7,235.9 280.7,232.5 281.0,232.6 281.0,236.2 281.3,235.7 281.3,233.1 281.6,232.8 281.6,236.6 281.9,236.8 281.9,234.3 282.3,233.7 282.3,236.3 282.6,237.3 282.6,233.5 282.8,233.7 282.8,236.6 283.2,236.9 283.2,233.8 283.5,235.0 283.5,237.6 283.8,237.6 283.8,234.4 284.0,235.0 284.0,237.7 284.3,237.7 284.3,234.8 284.7,235.3 284.7,237.4 285.0,238.1 285.0,235.4 285.3,235.3 285.3,238.2 285.5,238.2 285.5,235.2 285.8,236.2 285.8,238.2 286.2,239.3 286.2,234.7 286.5,235.8 286.5,239.1 286.8,239.2 286.8,235.7 287.0,235.7 287.0,239.4 287.3,239.3 287.3,236.2 287.7,236.0 287.7,239.4 288.0,239.6 288.0,236.9 288.3,236.3 288.3,239.6 288.5,239.5 288.5,236.6 288.8,237.2 288.8,240.2 289.2,240.7 289.2,235.8 289.5,236.8 289.5,240.8 289.8,240.2 289.8,236.8 290.1,236.7 290.1,240.9 290.4,241.0 290.4,236.5 290.6,237.6 290.6,239.9 290.9,240.8 290.9,237.4 291.3,237.7 291.3,240.5 291.6,240.8 291.6,237.4 291.8,238.3 291.8,241.8 292.1,240.9 292.1,238.2 292.4,238.2 292.4,241.1 292.7,241.4 292.7,238.3 293.1,238.9 293.1,241.7 293.4,241.8 293.4,238.7 293.7,238.6 293.7,241.3 293.9,241.7 293.9,239.4 294.2,239.2 294.2,242.4 294.5,242.3 294.5,238.3 294.8,239.1 294.8,242.4 295.1,243.2 295.1,239.9 295.5,239.3 295.5,242.2 295.8,242.6 295.8,239.8 296.1,239.9 296.1,243.1 296.4,243.5 296.4,239.9 296.6,240.2 296.6,243.4 297.0,243.0 297.0,239.8 297.2,240.2 297.2,243.4 297.5,243.3 297.5,240.2 297.9,240.3 297.9,244.2 298.2,243.3 298.2,240.1 298.5,240.5 298.5,243.5 298.8,243.8 298.8,240.6 299.1,240.5 299.1,243.9 299.4,244.1 299.4,240.9 299.6,241.3 299.6,244.3 299.9,244.2 299.9,240.6 300.2,241.2 300.2,244.3 300.5,244.2 300.5,240.8 300.8,240.8 300.8,244.7 301.2,245.2 301.2,241.7 301.4,241.8 301.4,244.5 301.8,244.7 301.8,241.0 302.0,241.4 302.0,245.9 302.4,244.8 302.4,241.9 302.7,242.2 302.7,245.1 303.0,245.1 303.0,241.6 303.3,241.9 303.3,245.6 303.6,245.5 303.6,240.8 303.9,242.3 303.9,245.6 304.2,245.6 304.2,241.7 304.5,242.0 304.5,246.1 304.8,246.2 304.8,242.7 305.1,241.8 305.1,245.6 305.4,247.0 305.4,241.3 305.6,242.9 305.6,245.8 305.9,247.3 305.9,243.4 306.2,242.2 306.2,246.4 306.6,246.5 306.6,242.8 306.8,242.4 306.8,246.0 307.2,246.3 307.2,243.4 307.5,243.4 307.5,247.2 307.7,247.1 307.7,243.9 308.1,243.6 308.1,246.8 308.4,247.1 308.4,243.8 308.6,243.6 308.6,246.9 309.0,247.2 309.0,243.8 309.2,243.9 309.2,247.2 309.5,247.1 309.5,243.7 309.9,243.9 309.9,248.0 310.1,247.5 310.1,244.4 310.4,244.0 310.4,247.7 310.7,248.3 310.7,243.9 311.1,244.6 311.1,248.5 311.3,247.5 311.3,244.4 311.6,244.8 311.6,248.2 311.9,247.9 311.9,244.4 312.2,245.0 312.2,248.7 312.6,248.3 312.6,244.1 312.8,244.6 312.8,248.2 313.1,247.8 313.1,244.1 313.4,245.2 313.4,248.4 313.7,248.4 313.7,244.7 314.1,244.8 314.1,249.1 314.3,248.5 314.3,244.4 314.6,244.6 314.6,248.2 314.9,248.9 314.9,245.5 315.2,245.6 315.2,249.1 315.5,248.7 315.5,244.0 315.8,245.3 315.8,248.5 316.2,249.6 316.2,245.0 316.4,245.5 316.4,248.8 316.7,249.0 316.7,245.8 317.1,245.8 317.1,249.1 317.4,249.6 317.4,245.8 317.7,245.1 317.7,249.3 318.0,249.6 318.0,246.3 318.2,246.5 318.2,249.9 318.5,249.5 318.5,246.1 318.8,245.9 318.8,249.6 319.2,249.7 319.2,245.5 319.5,245.1 319.5,249.6 319.7,249.6 319.7,246.4 320.0,246.2 320.0,249.6 320.3,250.3 320.3,246.3 320.7,246.3 320.7,250.4 320.9,250.4 320.9,247.0 321.2,246.3 321.2,250.4 321.6,250.0 321.6,246.9 321.9,246.5 321.9,250.8 322.1,250.1 322.1,246.5 322.4,246.3 322.4,250.3 322.7,250.3 322.7,247.0 323.1,246.7 323.1,250.4 323.4,250.7 323.4,247.0 323.7,247.1 323.7,250.3 323.9,250.1 323.9,246.7 324.3,247.0 324.3,250.4 324.6,250.4 324.6,247.5 324.9,247.0 324.9,250.4 325.2,250.7 325.2,246.2 325.5,247.2 325.5,250.6 325.8,250.7 325.8,247.6 326.1,246.6 326.1,250.6 326.4,250.8 326.4,247.2 326.7,247.4 326.7,250.8 326.9,250.7 326.9,247.0 327.3,246.7 327.3,251.1 327.6,250.9 327.6,247.7 327.8,247.0 327.8,251.5 328.2,251.5 328.2,247.4 328.5,246.9 328.5,251.1 328.8,251.5 328.8,247.9 329.0,247.7 329.0,251.4 329.4,251.6 329.4,247.8 329.7,247.3 329.7,251.2 330.0,252.3 330.0,247.6 330.3,247.7 330.3,251.7 330.5,251.6 330.5,247.4 330.8,248.5 330.8,251.7 331.2,251.5 331.2,248.1 331.5,248.4 331.5,251.0 331.8,251.9 331.8,247.9 332.1,248.4 332.1,251.8 332.4,251.7 332.4,247.5 332.6,247.7 332.6,251.6 332.9,251.6 332.9,248.5 333.2,248.5 333.2,252.1 333.5,252.5 333.5,248.6 333.8,248.4 333.8,252.2 334.1,251.9 334.1,248.6 334.5,248.7 334.5,251.8 334.8,252.5 334.8,248.2 335.1,248.2 335.1,252.0 335.3,252.2 335.3,248.5 335.6,247.8 335.6,252.6 336.0,252.9 336.0,248.5 336.3,248.0 336.3,252.6 336.5,252.2 336.5,248.6 336.9,248.7 336.9,252.8 337.2,252.1 337.2,248.8 337.5,249.1 337.5,252.3 337.7,252.9 337.7,248.4 338.0,248.5 338.0,252.5 338.4,252.4 338.4,248.9 338.6,249.0 338.6,253.1 338.9,252.8 338.9,249.2 339.3,248.6 339.3,252.6 339.6,252.6 339.6,248.8 339.8,248.7 339.8,252.9 340.2,252.5 340.2,248.7 340.5,249.2 340.5,252.6 340.7,253.2 340.7,248.4 341.0,248.9 341.0,252.9 341.3,252.5 341.3,248.9 341.7,249.1 341.7,252.5 342.0,253.2 342.0,248.6 342.3,249.2 342.3,252.7 342.6,253.0 342.6,249.1 342.9,249.1 342.9,252.6 343.2,253.0 343.2,249.4 343.5,249.1 343.5,253.3 343.7,253.0 343.7,249.2 344.0,249.2 344.0,253.0 344.4,253.8 344.4,248.4 344.7,249.2 344.7,253.2 344.9,253.3 344.9,249.3 345.3,249.5 345.3,253.4 345.6,253.1 345.6,248.9 345.8,249.2 345.8,253.1" fill="none" stroke="#00ee00" stroke-width="1.0" stroke-linejoin="round"/>
<path d="M51.1,33.7 56.9,37.5 61.9,40.2 66.4,42.0 70.3,44.2 73.9,48.1 77.2,50.5 80.2,51.5 83.0,53.3 85.6,54.8 88.0,57.3 90.3,57.9 92.4,58.9 94.5,60.3 96.4,63.4 98.2,64.2 100.0,66.2 101.6,66.8 103.2,70.3 104.8,70.4 106.3,70.5 107.7,72.3 109.0,74.4 110.4,75.8 111.6,77.6 112.9,77.6 114.1,77.6 115.2,79.3 116.3,81.2 117.4,80.7 118.5,83.2 119.5,84.1 120.5,85.3 121.5,85.6 122.5,86.5 123.4,87.1 124.3,87.4 125.2,89.1 126.0,90.6 126.9,90.7 127.7,91.8 128.5,93.4 129.3,92.6 130.1,94.5 130.8,95.6 131.6,95.3 132.3,97.8 133.0,97.6 133.7,98.1 134.4,99.4 135.1,99.5 135.8,100.1 136.4,100.6 137.1,101.4 137.7,101.8 138.3,102.1 138.9,103.3 139.5,103.4 140.1,104.4 140.7,105.4 141.3,106.2 141.9,107.9 142.4,106.9 143.0,107.7 143.5,107.2 144.0,109.3 144.6,109.2 145.1,111.0 145.6,109.7 146.1,110.5 146.6,110.3 147.1,111.9 147.6,111.2 148.1,112.5 148.5,113.7 149.0,113.4 149.5,114.9 149.9,115.3 150.4,114.5 150.8,115.6 151.2,116.9 151.7,117.9 152.1,116.6 152.5,117.9 153.0,118.5 153.4,119.4 153.8,118.8 154.2,119.9 154.6,120.6 155.0,120.7 155.4,120.2 155.8,121.5 156.2,122.0 156.5,121.9 156.9,122.5 157.3,123.7 157.7,122.3 158.0,124.3 158.4,123.2 158.8,124.9 159.1,125.2 159.5,125.8 159.8,125.1 160.2,126.1 160.5,126.8 160.8,125.9 161.2,126.7 161.5,127.6 161.8,128.4 162.2,128.3 162.5,128.3 162.8,129.4 163.1,128.4 163.5,130.8 163.8,130.8 164.1,131.4 164.4,130.6 164.7,131.2 165.0,131.5 165.3,130.9 165.6,131.9 165.9,133.1 166.2,132.0 166.5,132.9 166.8,134.3 167.1,133.8 167.4,134.1 167.6,134.2 167.9,134.3 168.2,134.8 168.5,135.5 168.8,135.5 169.0,135.3 169.4,135.4 169.4,136.3 169.8,137.6 170.1,137.6 170.4,136.3 170.6,138.0 170.9,138.7 171.2,139.0 171.5,139.0 171.5,138.3 171.9,138.6 172.2,137.5 172.4,140.0 172.7,141.7 173.0,139.5 173.0,140.1 173.4,141.6 173.6,140.5 173.9,140.7 174.2,141.8 174.2,140.8 174.6,142.4 174.8,141.3 175.2,142.4 175.2,143.6 175.5,144.5 175.8,142.3 176.0,143.7 176.3,144.2 176.3,143.4 176.7,144.0 177.0,144.5 177.0,145.4 177.3,146.0 177.5,145.3 177.9,145.7 177.9,145.7 178.2,146.0 178.4,146.5 178.7,145.9 178.7,148.0 179.0,147.0 179.3,146.5 179.3,146.1 179.6,147.5 180.0,146.5 180.0,148.1 180.3,149.0 180.6,148.3 180.6,148.1 180.9,148.8 181.2,149.0 181.2,149.3 181.5,149.1 181.7,150.6 181.7,150.4 182.0,150.1 182.3,149.3 182.3,150.6 182.6,151.5 182.9,151.4 182.9,151.1 183.3,152.1 183.3,152.2 183.5,151.8 183.8,152.8 183.8,152.6 184.2,152.0 184.2,153.0 184.5,153.6 184.7,153.8 184.7,153.5 185.1,154.4 185.1,154.4 185.4,154.2 185.6,153.2 185.6,152.8 186.0,153.7 186.0,156.3 186.2,155.6 186.5,156.2 186.5,154.4 186.8,154.8 186.8,155.9 187.2,156.9 187.2,156.2 187.5,157.0 187.5,157.3 187.8,155.7 188.0,157.5 188.0,156.6 188.3,156.1 188.3,156.8 188.7,158.9 188.7,158.1 189.0,157.9 189.0,158.0 189.3,159.4 189.3,158.2 189.6,158.5 189.6,159.5 189.8,159.3 190.1,159.7 190.1,159.3 190.4,159.2 190.4,160.0 190.7,160.8 190.7,158.7 191.0,161.1 191.0,161.2 191.3,160.7 191.3,160.0 191.6,160.2 191.6,160.7 191.9,161.1 191.9,160.7 192.2,160.8 192.2,162.1 192.5,162.5 192.5,162.3 192.8,163.2 192.8,163.3 193.1,163.2 193.1,162.4 193.5,163.3 193.5,163.6 193.8,164.8 193.8,164.3 194.1,164.7 194.1,164.8 194.3,165.1 194.3,163.7 194.6,164.8 194.6,165.2 194.9,165.3 194.9,164.5 195.2,164.5 195.2,165.6 195.6,165.6 195.6,165.1 195.8,164.8 195.8,165.4 196.1,167.7 196.1,165.5 196.4,165.4 196.4,167.9 196.8,166.4 196.8,165.0 197.0,166.9 197.0,167.0 197.4,168.9 197.4,166.9 197.7,167.9 197.7,168.0 197.9,167.5 197.9,167.4 198.2,167.7 198.2,168.5 198.6,168.4 198.6,168.3 198.9,167.6 198.9,168.8 199.2,168.7 199.2,168.3 199.5,168.5 199.5,170.4 199.8,169.5 199.8,169.4 200.1,168.9 200.1,170.8 200.4,171.4 200.4,170.7 200.7,169.9 200.7,171.9 201.0,172.4 201.0,169.7 201.3,170.3 201.3,171.1 201.5,172.2 201.5,171.3 201.8,171.9 201.8,172.3 202.2,173.3 202.2,170.8 202.4,171.4 202.4,173.6 202.7,173.2 202.7,172.0 203.1,172.6 203.1,173.9 203.4,173.1 203.4,172.1 203.7,172.6 203.7,174.7 203.9,175.1 203.9,173.6 204.3,173.8 204.3,174.4 204.6,175.1 204.6,173.9 204.9,175.4 204.9,176.3 205.1,175.6 205.1,173.9 205.4,175.0 205.4,175.7 205.7,178.3 205.7,175.8 206.0,175.9 206.0,177.3 206.3,177.2 206.3,176.7 206.6,177.1 206.6,178.1 206.9,177.2 206.9,176.8 207.2,177.3 207.2,178.4 207.5,178.8 207.5,177.1 207.8,177.7 207.8,178.5 208.1,178.5 208.1,177.5 208.4,177.5 208.4,180.7 208.8,179.3 208.8,178.4 209.1,178.9 209.1,179.7 209.3,180.0 209.3,179.6 209.6,179.9 209.6,180.5 209.9,181.3 209.9,179.2 210.3,179.6 210.3,180.5 210.5,181.5 210.5,179.1 210.9,180.1 210.9,181.8 211.2,181.9 211.2,180.8 211.4,181.3 211.4,182.5 211.7,183.6 211.7,181.1 212.0,182.4 212.0,183.0 212.3,182.6 212.3,181.9 212.6,182.1 212.6,182.8 212.9,184.9 212.9,182.6 213.2,182.4 213.2,184.0 213.5,184.1 213.5,181.4 213.9,184.1 213.9,184.6 214.2,184.4 214.2,183.3 214.4,183.7 214.4,184.6 214.8,185.5 214.8,184.4 215.0,184.8 215.0,185.3 215.3,186.7 215.3,184.3 215.6,185.7 215.6,186.5 216.0,187.0 216.0,184.9 216.3,185.3 216.3,187.2 216.6,186.4 216.6,184.8 216.9,185.4 216.9,188.2 217.2,187.1 217.2,185.9 217.4,187.3 217.4,188.8 217.7,188.4 217.7,187.4 218.0,186.3 218.0,189.8 218.4,187.9 218.4,187.0 218.7,186.9 218.7,188.8 219.0,189.5 219.0,187.2 219.3,187.7 219.3,190.0 219.5,190.2 219.5,188.1 219.9,188.9 219.9,190.1 220.2,190.5 220.2,189.7 220.5,188.3 220.5,189.6 220.7,190.9 220.7,189.5 221.0,189.5 221.0,191.4 221.3,191.6 221.3,189.6 221.6,190.6 221.6,192.2 221.9,192.0 221.9,190.8 222.2,190.5 222.2,191.7 222.5,192.1 222.5,190.7 222.8,192.2 222.8,194.2 223.2,192.7 223.2,190.9 223.5,192.0 223.5,193.2 223.7,194.1 223.7,192.0 224.1,192.5 224.1,193.9 224.4,193.9 224.4,193.1 224.7,193.2 224.7,194.3 224.9,194.4 224.9,192.9 225.2,193.0 225.2,195.0 225.5,196.3 225.5,193.1 225.8,193.8 225.8,196.2 226.1,195.6 226.1,193.9 226.4,194.3 226.4,196.6 226.7,195.8 226.7,193.8 227.0,194.8 227.0,196.2 227.3,197.4 227.3,195.1 227.7,195.3 227.7,197.8 228.0,197.6 228.0,195.5 228.2,196.0 228.2,197.6 228.5,198.0 228.5,196.5 228.9,195.6 228.9,197.8 229.2,199.1 229.2,196.9 229.5,197.4 229.5,198.9 229.8,199.6 229.8,197.5 230.1,197.3 230.1,200.1 230.3,200.4 230.3,198.4 230.6,197.9 230.6,199.7 230.9,200.1 230.9,198.7 231.2,199.4 231.2,199.9 231.6,201.1 231.6,198.1 231.9,198.6 231.9,200.7 232.1,201.9 232.1,199.1 232.4,199.4 232.4,201.1 232.7,202.4 232.7,200.0 233.0,201.0 233.0,202.0 233.3,201.5 233.3,200.0 233.7,200.2 233.7,202.4 234.0,203.2 234.0,201.2 234.3,201.6 234.3,203.4 234.5,203.7 234.5,202.1 234.8,202.2 234.8,203.9 235.2,203.7 235.2,200.7 235.5,202.7 235.5,204.3 235.8,203.7 235.8,201.9 236.1,202.9 236.1,205.9 236.4,205.0 236.4,203.2 236.7,203.3 236.7,204.8 236.9,205.5 236.9,203.3 237.2,204.1 237.2,205.8 237.5,206.9 237.5,204.5 237.9,204.7 237.9,206.5 238.2,206.5 238.2,204.5 238.5,204.3 238.5,207.3 238.8,206.5 238.8,205.4 239.1,204.6 239.1,206.9 239.4,207.7 239.4,205.2 239.6,204.5 239.6,206.7 239.9,207.8 239.9,206.2 240.2,205.5 240.2,207.7 240.6,208.8 240.6,207.5 240.9,207.0 240.9,208.4 241.2,209.1 241.2,207.7 241.5,206.8 241.5,209.9 241.8,209.0 241.8,208.0 242.0,207.9 242.0,209.4 242.4,210.5 242.4,208.0 242.6,207.9 242.6,211.0 242.9,210.6 242.9,208.0 243.2,208.5 243.2,211.3 243.5,210.8 243.5,209.6 243.8,209.4 243.8,211.7 244.1,211.0 244.1,207.9 244.5,208.2 244.5,211.4 244.8,211.9 244.8,209.8 245.1,210.3 245.1,211.9 245.3,212.7 245.3,210.8 245.6,211.0 245.6,212.8 245.9,213.2 245.9,210.6 246.2,210.6 246.2,212.9 246.6,213.3 246.6,210.9 246.9,211.7 246.9,213.7 247.1,213.4 247.1,211.9 247.4,212.1 247.4,214.5 247.8,214.6 247.8,212.7 248.1,212.7 248.1,214.8 248.4,214.8 248.4,212.2 248.6,213.2 248.6,215.6 248.9,215.9 248.9,213.1 249.3,213.5 249.3,215.9 249.6,216.5 249.6,212.9 249.8,214.5 249.8,216.4 250.1,216.9 250.1,214.7 250.4,214.2 250.4,216.4 250.7,216.8 250.7,213.9 251.0,213.8 251.0,216.8 251.4,217.0 251.4,214.3 251.7,215.3 251.7,218.5 252.0,217.3 252.0,215.0 252.3,215.7 252.3,218.4 252.6,218.1 252.6,216.1 252.9,216.6 252.9,218.4 253.1,218.6 253.1,216.7 253.4,216.4 253.4,219.2 253.8,219.1 253.8,216.7 254.1,216.6 254.1,219.9 254.3,220.6 254.3,217.8 254.6,216.8 254.6,220.5 255.0,219.7 255.0,216.2 255.3,217.9 255.3,220.2 255.6,220.5 255.6,217.8 255.9,217.9 255.9,221.0 256.2,221.9 256.2,218.0 256.4,218.5 256.4,221.7 256.8,221.0 256.8,218.9 257.1,219.4 257.1,221.0 257.4,221.6 257.4,218.8 257.7,218.1 257.7,221.6 258.0,221.9 258.0,219.7 258.3,219.8 258.3,223.8 258.6,222.2 258.6,219.9 258.9,219.7 258.9,223.5 259.2,223.1 259.2,220.5 259.5,221.1 259.5,223.9 259.8,223.0 259.8,221.8 260.0,220.3 260.0,223.8 260.3,223.7 260.3,221.2 260.6,221.6 260.6,224.4 260.9,223.5 260.9,222.1 261.2,222.2 261.2,224.0 261.6,224.5 261.6,222.0 261.9,222.8 261.9,225.3 262.2,224.7 262.2,222.5 262.5,222.3 262.5,225.1 262.7,225.9 262.7,222.5 263.0,223.5 263.0,225.4 263.3,226.1 263.3,223.1 263.6,223.5 263.6,225.9 264.0,226.9 264.0,223.9 264.3,224.0 264.3,226.8 264.6,226.5 264.6,224.9 264.9,224.3 264.9,227.6 265.2,226.3 265.2,223.7 265.5,224.4 265.5,226.7 265.7,227.9 265.7,224.7 266.0,224.9 266.0,227.9 266.4,229.2 266.4,224.8 266.7,225.9 266.7,228.3 266.9,227.9 266.9,225.2 267.2,225.7 267.2,228.1 267.5,229.8 267.5,225.9 267.8,225.6 267.8,229.1 268.1,229.1 268.1,226.0 268.4,226.9 268.4,229.3 268.7,228.9 268.7,227.3 269.1,226.5 269.1,229.5 269.3,229.4 269.3,227.1 269.6,226.8 269.6,230.5 270.0,230.0 270.0,227.5 270.3,227.2 270.3,230.1 270.6,231.3 270.6,228.4 270.9,227.8 270.9,230.5 271.2,230.5 271.2,228.2 271.4,228.3 271.4,231.1 271.8,231.3 271.8,228.5 272.1,228.3 272.1,230.8 272.3,232.4 272.3,228.9 272.6,229.4 272.6,231.7 272.9,231.8 272.9,229.2 273.2,229.1 273.2,232.7 273.5,232.3 273.5,229.8 273.8,229.6 273.8,232.8 274.1,232.8 274.1,229.9 274.4,229.5 274.4,232.6 274.7,232.8 274.7,230.3 275.0,230.5 275.0,233.1 275.4,233.9 275.4,230.3 275.7,231.0 275.7,233.3 275.9,233.7 275.9,230.8 276.2,230.7 276.2,234.4 276.5,233.6 276.5,231.1 276.8,231.8 276.8,233.7 277.2,234.4 277.2,231.7 277.4,231.0 277.4,234.8 277.8,234.5 277.8,231.1 278.1,232.3 278.1,235.5 278.4,234.7 278.4,232.4 278.7,231.5 278.7,235.1 279.0,235.0 279.0,232.1 279.3,232.1 279.3,235.6 279.5,235.6 279.5,232.2 279.9,233.1 279.9,235.2 280.2,236.2 280.2,233.3 280.4,233.0 280.4,235.3 280.7,236.2 280.7,233.9 281.0,233.4 281.0,235.9 281.3,235.7 281.3,233.3 281.6,233.1 281.6,236.6 281.9,236.1 281.9,234.0 282.3,234.0 282.3,236.8 282.6,236.9 282.6,234.6 282.8,234.6 282.8,236.9 283.2,237.6 283.2,233.6 283.5,234.6 283.5,237.5 283.8,237.6 283.8,234.4 284.0,234.7 284.0,237.7 284.3,238.9 284.3,235.4 284.7,234.8 284.7,238.3 285.0,238.7 285.0,234.9 285.3,235.5 285.3,238.4 285.5,238.7 285.5,235.0 285.8,235.6 285.8,239.0 286.2,238.7 286.2,236.4 286.5,235.7 286.5,239.3 286.8,239.3 286.8,235.0 287.0,236.5 287.0,238.8 287.3,239.6 287.3,236.3 287.7,235.9 287.7,239.2 288.0,240.2 288.0,236.9 288.3,236.9 288.3,239.9 288.5,240.0 288.5,237.3 288.8,236.6 288.8,240.2 289.2,239.7 289.2,236.8 289.5,236.6 289.5,240.2 289.8,240.7 289.8,237.4 290.1,237.4 290.1,241.3 290.4,241.3 290.4,238.0 290.6,238.1 290.6,240.6 290.9,242.0 290.9,237.2 291.3,238.4 291.3,241.0 291.6,241.0 291.6,237.6 291.8,238.4 291.8,241.9 292.1,241.6 292.1,238.2 292.4,237.4 292.4,241.5 292.7,241.5 292.7,238.6 293.1,238.8 293.1,242.3 293.4,242.2 293.4,238.8 293.7,239.3 293.7,241.4 293.9,242.5 293.9,238.8 294.2,239.2 294.2,242.3 294.5,242.3 294.5,239.6 294.8,239.5 294.8,242.5 295.1,242.9 295.1,239.4 295.5,240.0 295.5,242.0 295.8,242.5 295.8,240.0 296.1,240.4 296.1,242.8 296.4,243.7 296.4,240.3 296.6,240.1 296.6,243.2 297.0,243.9 297.0,239.9 297.2,240.3 297.2,243.8 297.5,244.0 297.5,240.6 297.9,240.4 297.9,243.6 298.2,243.5 298.2,240.7 298.5,240.4 298.5,243.9 298.8,243.5 298.8,240.9 299.1,240.7 299.1,244.1 299.4,244.3 299.4,240.7 299.6,241.2 299.6,244.7 299.9,243.9 299.9,241.0 300.2,240.8 300.2,244.8 300.5,244.6 300.5,241.2 300.8,240.6 300.8,244.4 301.2,244.6 301.2,240.7 301.4,242.4 301.4,245.2 301.8,245.1 301.8,241.9 302.0,241.8 302.0,245.3 302.4,244.9 302.4,241.9 302.7,242.2 302.7,246.2 303.0,245.8 303.0,242.5 303.3,241.9 303.3,245.6 303.6,245.3 303.6,242.7 303.9,242.1 303.9,245.8 304.2,245.6 304.2,242.5 304.5,242.2 304.5,245.9 304.8,246.3 304.8,243.3 305.1,243.2 305.1,245.8 305.4,246.4 305.4,243.1 305.6,243.6 305.6,246.3 305.9,245.8 305.9,243.1 306.2,242.8 306.2,246.5 306.6,247.0 306.6,242.7 306.8,243.9 306.8,246.3 307.2,246.8 307.2,243.2 307.5,242.9 307.5,246.9 307.7,246.7 307.7,243.5 308.1,244.0 308.1,247.6 308.4,246.9 308.4,244.0 308.6,243.8 308.6,246.8 309.0,247.2 309.0,244.4 309.2,243.4 309.2,247.0 309.5,248.2 309.5,243.9 309.9,244.2 309.9,247.5 310.1,248.0 310.1,244.0 310.4,244.7 310.4,248.2 310.7,247.8 310.7,244.6 311.1,244.5 311.1,248.4 311.3,247.8 311.3,244.9 311.6,244.2 311.6,248.4 311.9,248.8 311.9,244.7 312.2,244.5 312.2,248.0 312.6,248.8 312.6,244.6 312.8,244.7 312.8,248.0 313.1,248.2 313.1,244.9 313.4,244.5 313.4,248.4 313.7,248.2 313.7,245.2 314.1,245.0 314.1,248.7 314.3,248.7 314.3,245.4 314.6,245.1 314.6,249.0 314.9,248.4 314.9,245.8 315.2,245.0 315.2,249.6 315.5,249.4 315.5,245.5 315.8,245.5 315.8,248.3 316.2,249.9 316.2,245.7 316.4,245.3 316.4,249.0 316.7,249.1 316.7,245.1 317.1,245.8 317.1,249.6 317.4,249.6 317.4,245.9 317.7,245.8 317.7,249.0 318.0,249.9 318.0,245.8 318.2,246.2 318.2,249.3 318.5,249.6 318.5,245.9 318.8,245.8 318.8,249.5 319.2,249.6 319.2,246.5 319.5,245.7 319.5,249.6 319.7,249.6 319.7,245.9 320.0,246.5 320.0,249.4 320.3,250.0 320.3,245.6 320.7,246.7 320.7,249.8 320.9,250.0 320.9,246.4 321.2,246.3 321.2,250.4 321.6,250.2 321.6,246.8 321.9,246.8 321.9,250.2 322.1,250.3 322.1,246.9 322.4,246.6 322.4,249.9 322.7,250.4 322.7,245.9 323.1,246.6 323.1,250.3 323.4,250.1 323.4,246.4 323.7,246.8 323.7,250.6 323.9,250.4 323.9,246.6 324.3,246.9 324.3,250.0 324.6,251.1 324.6,247.3 324.9,247.2 324.9,251.2 325.2,251.6 325.2,247.2 325.5,247.1 325.5,250.8 325.8,251.2 325.8,247.7 326.1,246.6 326.1,251.3 326.4,250.8 326.4,246.9 326.7,247.4 326.7,251.1 326.9,251.8 326.9,247.9 327.3,247.4 327.3,251.3 327.6,252.1 327.6,247.7 327.8,247.1 327.8,251.5 328.2,251.6 328.2,247.2 328.5,247.7 328.5,251.1 328.8,251.4 328.8,247.0 329.0,246.3 329.0,250.9 329.4,251.4 329.4,247.9 329.7,247.6 329.7,251.4 330.0,251.6 330.0,248.1 330.3,248.2 330.3,252.2 330.5,252.3 330.5,248.0 330.8,248.1 330.8,252.0 331.2,251.8 331.2,248.2 331.5,248.5 331.5,251.9 331.8,252.5 331.8,248.5 332.1,248.0 332.1,251.9 332.4,252.2 332.4,248.1 332.6,248.1 332.6,251.9 332.9,252.0 332.9,248.2 333.2,248.5 333.2,252.0 333.5,251.5 333.5,248.4 333.8,248.3 333.8,252.2 334.1,251.9 334.1,247.9 334.5,248.4 334.5,252.1 334.8,253.0 334.8,247.8 335.1,248.8 335.1,252.9 335.3,252.6 335.3,249.2 335.6,248.5 335.6,252.5 336.0,252.7 336.0,247.8 336.3,248.1 336.3,252.3 336.5,252.4 336.5,248.3 336.9,248.4 336.9,252.2 337.2,252.6 337.2,248.9 337.5,248.5 337.5,252.9 337.7,252.5 337.7,249.1 338.0,248.9 338.0,252.7 338.4,252.3 338.4,248.4 338.6,248.9 338.6,252.8 338.9,253.2 338.9,249.1 339.3,248.8 339.3,253.3 339.6,252.6 339.6,248.2 339.8,249.3 339.8,252.5 340.2,253.2 340.2,249.1 340.5,249.0 340.5,253.4 340.7,252.6 340.7,248.8 341.0,249.5 341.0,252.6 341.3,252.7 341.3,249.0 341.7,248.8 341.7,253.2 342.0,253.4 342.0,249.2 342.3,249.2 342.3,252.7 342.6,252.7 342.6,248.4 342.9,249.3 342.9,253.0 343.2,252.8 343.2,248.5 343.5,248.8 343.5,253.2 343.7,253.2 343.7,249.5 344.0,249.7 344.0,253.0 344.4,253.2 344.4,249.3 344.7,249.2 344.7,253.5 344.9,254.0 344.9,249.2 345.3,249.0 345.3,253.2 345.6,252.8 345.6,249.1 345.8,249.3 345.8,253.2" fill="none" stroke="#0000ff" stroke-width="1.0" stroke-linejoin="round"/>
<path d="M51.1,32.5 56.9,34.9 61.9,38.0 66.4,39.7 70.3,42.1 73.9,45.2 77.2,48.1 80.2,48.9 83.0,51.1 85.6,52.5 88.0,54.5 90.3,56.0 92.4,57.0 94.5,58.7 96.4,61.4 98.2,62.5 100.0,64.4 101.6,65.0 103.2,68.3 104.8,68.1 106.3,68.3 107.7,70.1 109.0,72.8 110.4,73.8 111.6,75.1 112.9,75.5 114.1,75.0 115.2,77.7 116.3,79.2 117.4,79.7 118.5,81.3 119.5,81.5 120.5,82.9 121.5,83.4 122.5,84.0 123.4,85.3 124.3,85.2 125.2,87.0 126.0,88.7 126.9,89.5 127.7,90.1 128.5,90.8 129.3,90.8 130.1,92.4 130.8,92.6 131.6,94.3 132.3,95.7 133.0,96.4 133.7,96.6 134.4,97.6 135.1,98.1 135.8,97.7 136.4,99.2 137.1,99.2 137.7,100.5 138.3,100.7 138.9,101.9 139.5,101.3 140.1,102.7 140.7,103.7 141.3,104.6 141.9,105.1 142.4,104.7 143.0,106.8 143.5,105.8 144.0,107.0 144.6,107.0 145.1,109.2 145.6,107.4 146.1,108.8 146.6,109.2 147.1,111.0 147.6,110.7 148.1,111.0 148.5,111.9 149.0,111.6 149.5,113.1 149.9,113.4 150.4,114.6 150.8,113.8 151.2,114.6 151.7,115.8 152.1,116.4 152.5,116.1 153.0,116.2 153.4,118.3 153.8,117.9 154.2,117.7 154.6,118.0 155.0,119.1 155.4,118.9 155.8,120.7 156.2,120.2 156.5,120.2 156.9,121.2 157.3,121.5 157.7,121.6 158.0,123.0 158.4,122.5 158.8,122.5 159.1,122.9 159.5,124.7 159.8,123.5 160.2,124.7 160.5,125.5 160.8,125.1 161.2,125.7 161.5,125.9 161.8,127.2 162.2,126.6 162.5,126.6 162.8,127.7 163.1,128.2 163.5,128.5 163.8,129.6 164.1,129.7 164.4,129.2 164.7,130.2 165.0,130.3 165.3,130.3 165.6,131.6 165.9,132.0 166.2,131.7 166.5,132.4 166.8,131.8 167.1,132.9 167.4,131.9 167.6,132.7 167.9,132.7 168.2,134.5 168.5,133.8 168.8,135.0 169.0,133.3 169.4,134.6 169.4,135.6 169.8,135.5 170.1,136.1 170.4,136.0 170.6,136.9 170.9,136.2 171.2,136.2 171.5,138.5 171.5,137.5 171.9,137.5 172.2,138.1 172.4,137.9 172.7,138.5 173.0,137.9 173.0,140.2 173.4,139.7 173.6,140.1 173.9,138.7 174.2,140.6 174.2,140.3 174.6,140.6 174.8,141.7 175.2,141.0 175.2,141.8 175.5,143.0 175.8,142.6 176.0,142.6 176.3,143.2 176.3,142.6 176.7,143.7 177.0,142.5 177.0,143.2 177.3,142.9 177.5,144.7 177.9,144.9 177.9,144.0 178.2,144.3 178.4,145.0 178.7,144.7 178.7,145.4 179.0,145.3 179.3,146.4 179.3,146.0 179.6,146.1 180.0,146.2 180.0,146.4 180.3,147.2 180.6,147.8 180.6,146.2 180.9,147.7 181.2,147.4 181.2,147.8 181.5,148.9 181.7,149.3 181.7,149.0 182.0,148.6 182.3,150.2 182.3,150.7 182.6,149.8 182.9,151.0 182.9,149.8 183.3,150.1 183.3,151.6 183.5,150.6 183.8,150.8 183.8,150.6 184.2,150.8 184.2,152.0 184.5,151.4 184.7,152.6 184.7,150.9 185.1,151.5 185.1,153.0 185.4,152.5 185.6,154.1 185.6,153.1 186.0,152.1 186.0,155.5 186.2,156.0 186.5,155.0 186.5,154.8 186.8,154.1 186.8,155.3 187.2,154.9 187.2,154.8 187.5,154.7 187.5,156.4 187.8,156.3 188.0,155.8 188.0,154.5 188.3,155.1 188.3,156.5 188.7,156.7 188.7,156.0 189.0,157.2 189.0,157.6 189.3,157.1 189.3,156.2 189.6,156.7 189.6,159.0 189.8,158.6 190.1,157.7 190.1,157.0 190.4,159.2 190.4,160.4 190.7,159.8 190.7,158.3 191.0,159.2 191.0,160.0 191.3,160.7 191.3,159.1 191.6,159.2 191.6,160.1 191.9,160.2 191.9,160.1 192.2,160.7 192.2,160.8 192.5,160.6 192.5,160.5 192.8,160.9 192.8,161.4 193.1,162.3 193.1,160.6 193.5,161.1 193.5,161.5 193.8,162.8 193.8,162.5 194.1,162.5 194.1,163.9 194.3,163.9 194.3,162.3 194.6,163.1 194.6,163.6 194.9,162.6 194.9,162.3 195.2,162.5 195.2,164.7 195.6,165.3 195.6,164.1 195.8,164.7 195.8,164.8 196.1,166.5 196.1,165.9 196.4,165.7 196.4,166.0 196.8,165.6 196.8,164.3 197.0,165.4 197.0,166.0 197.4,166.7 197.4,165.3 197.7,166.6 197.7,167.0 197.9,166.4 197.9,165.8 198.2,167.1 198.2,167.6 198.6,166.6 198.6,166.4 198.9,165.1 198.9,167.4 199.2,167.5 199.2,166.3 199.5,167.9 199.5,169.1 199.8,169.2 199.8,168.4 200.1,168.0 200.1,169.3 200.4,170.5 200.4,167.7 200.7,169.2 200.7,169.6 201.0,169.6 201.0,169.5 201.3,169.6 201.3,170.2 201.5,170.6 201.5,169.5 201.8,169.7 201.8,171.2 202.2,172.2 202.2,170.5 202.4,171.1 202.4,172.2 202.7,172.8 202.7,170.2 203.1,171.8 203.1,173.6 203.4,175.1 203.4,172.7 203.7,172.0 203.7,173.6 203.9,173.3 203.9,172.2 204.3,173.3 204.3,174.2 204.6,174.0 204.6,171.8 204.9,172.8 204.9,174.6 205.1,174.5 205.1,173.2 205.4,174.0 205.4,175.6 205.7,174.8 205.7,173.7 206.0,172.9 206.0,175.8 206.3,177.4 206.3,174.4 206.6,175.5 206.6,175.7 206.9,176.4 206.9,175.9 207.2,175.5 207.2,177.2 207.5,177.4 207.5,175.4 207.8,176.7 207.8,177.3 208.1,178.2 208.1,176.3 208.4,176.8 208.4,178.3 208.8,178.8 208.8,177.4 209.1,176.7 209.1,178.0 209.3,178.9 209.3,178.0 209.6,177.6 209.6,180.4 209.9,180.1 209.9,178.6 210.3,178.4 210.3,180.7 210.5,180.5 210.5,179.1 210.9,178.7 210.9,180.4 211.2,180.0 211.2,178.7 211.4,178.9 211.4,180.0 211.7,181.5 211.7,180.8 212.0,179.8 212.0,182.3 212.3,181.0 212.3,180.5 212.6,181.2 212.6,181.9 212.9,182.5 212.9,180.2 213.2,181.2 213.2,183.3 213.5,184.1 213.5,181.9 213.9,182.2 213.9,183.5 214.2,183.6 214.2,181.2 214.4,182.5 214.4,184.7 214.8,184.2 214.8,182.0 215.0,184.0 215.0,184.7 215.3,185.0 215.3,183.6 215.6,183.9 215.6,184.7 216.0,185.7 216.0,184.4 216.3,184.3 216.3,185.7 216.6,186.2 216.6,183.8 216.9,185.8 216.9,186.3 217.2,185.8 217.2,185.4 217.4,186.0 217.4,187.5 217.7,186.8 217.7,186.1 218.0,185.6 218.0,187.7 218.4,187.9 218.4,186.5 218.7,186.4 218.7,188.2 219.0,188.3 219.0,186.3 219.3,186.9 219.3,188.7 219.5,189.5 219.5,187.9 219.9,188.0 219.9,188.8 220.2,189.5 220.2,189.0 220.5,188.2 220.5,190.7 220.7,190.6 220.7,189.1 221.0,188.2 221.0,190.1 221.3,190.9 221.3,189.4 221.6,189.6 221.6,190.9 221.9,191.6 221.9,189.4 222.2,190.1 222.2,192.1 222.5,192.3 222.5,190.0 222.8,190.4 222.8,192.8 223.2,192.3 223.2,190.6 223.5,191.4 223.5,194.1 223.7,193.4 223.7,190.6 224.1,191.1 224.1,193.0 224.4,193.6 224.4,190.3 224.7,192.8 224.7,194.4 224.9,193.2 224.9,191.6 225.2,192.2 225.2,194.1 225.5,194.9 225.5,193.3 225.8,192.8 225.8,195.2 226.1,195.3 226.1,192.2 226.4,194.6 226.4,195.3 226.7,196.2 226.7,194.5 227.0,194.4 227.0,196.0 227.3,196.0 227.3,194.2 227.7,195.1 227.7,197.8 228.0,196.9 228.0,195.1 228.2,195.4 228.2,196.8 228.5,197.2 228.5,195.6 228.9,195.6 228.9,197.8 229.2,198.0 229.2,196.4 229.5,196.1 229.5,198.5 229.8,198.8 229.8,195.5 230.1,196.7 230.1,197.9 230.3,199.4 230.3,197.4 230.6,198.4 230.6,199.1 230.9,200.0 230.9,197.2 231.2,197.2 231.2,200.3 231.6,200.1 231.6,198.3 231.9,199.3 231.9,200.5 232.1,201.7 232.1,198.4 232.4,198.9 232.4,201.2 232.7,200.5 232.7,199.0 233.0,199.3 233.0,201.5 233.3,201.2 233.3,199.7 233.7,200.1 233.7,201.1 234.0,201.3 234.0,199.7 234.3,200.5 234.3,202.9 234.5,202.6 234.5,200.0 234.8,201.0 234.8,203.0 235.2,203.4 235.2,201.3 235.5,201.9 235.5,203.4 235.8,203.9 235.8,201.9 236.1,201.8 236.1,203.8 236.4,203.6 236.4,202.6 236.7,202.6 236.7,205.1 236.9,204.8 236.9,202.7 237.2,203.2 237.2,205.3 237.5,205.4 237.5,202.0 237.9,204.2 237.9,205.9 238.2,205.5 238.2,203.2 238.5,204.1 238.5,206.4 238.8,205.6 238.8,204.2 239.1,204.5 239.1,206.5 239.4,207.1 239.4,204.4 239.6,206.0 239.6,207.1 239.9,207.6 239.9,205.6 240.2,205.3 240.2,207.6 240.6,207.6 240.6,206.2 240.9,206.5 240.9,207.8 241.2,207.9 241.2,206.8 241.5,206.5 241.5,208.3 241.8,209.7 241.8,206.6 242.0,207.9 242.0,209.6 242.4,209.1 242.4,207.6 242.6,207.5 242.6,209.7 242.9,209.7 242.9,207.4 243.2,206.8 243.2,209.8 243.5,209.9 243.5,208.4 243.8,208.3 243.8,211.8 244.1,211.0 244.1,208.0 244.5,208.8 244.5,211.4 244.8,211.7 244.8,209.1 245.1,209.0 245.1,212.1 245.3,211.8 245.3,208.9 245.6,210.2 245.6,211.8 245.9,212.9 245.9,209.3 246.2,210.1 246.2,212.9 246.6,213.3 246.6,210.8 246.9,211.5 246.9,213.7 247.1,212.8 247.1,211.2 247.4,211.2 247.4,213.1 247.8,213.9 247.8,211.9 248.1,212.2 248.1,214.2 248.4,213.5 248.4,211.9 248.6,212.9 248.6,214.2 248.9,214.0 248.9,212.4 249.3,213.1 249.3,215.4 249.6,215.3 249.6,213.0 249.8,213.5 249.8,215.7 250.1,215.5 250.1,213.5 250.4,213.4 250.4,215.5 250.7,216.4 250.7,214.1 251.0,214.1 251.0,216.2 251.4,216.7 251.4,212.9 251.7,214.7 251.7,216.0 252.0,217.0 252.0,214.3 252.3,214.7 252.3,217.1 252.6,218.2 252.6,215.1 252.9,215.7 252.9,217.4 253.1,218.1 253.1,215.6 253.4,215.9 253.4,219.5 253.8,218.1 253.8,215.6 254.1,215.5 254.1,218.3 254.3,218.7 254.3,216.5 254.6,217.5 254.6,218.6 255.0,220.2 255.0,217.0 255.3,217.0 255.3,219.7 255.6,219.7 255.6,217.5 255.9,217.2 255.9,220.1 256.2,219.7 256.2,217.6 256.4,218.1 256.4,220.7 256.8,220.1 256.8,218.8 257.1,218.7 257.1,221.1 257.4,220.6 257.4,218.3 257.7,219.3 257.7,220.8 258.0,221.6 258.0,218.8 258.3,219.2 258.3,221.6 258.6,222.2 258.6,218.7 258.9,219.6 258.9,222.7 259.2,222.2 259.2,220.0 259.5,219.9 259.5,222.4 259.8,222.7 259.8,220.1 260.0,220.8 260.0,223.1 260.3,223.2 260.3,220.7 260.6,220.6 260.6,222.7 260.9,223.6 260.9,221.4 261.2,221.4 261.2,224.0 261.6,224.0 261.6,221.9 261.9,221.8 261.9,224.6 262.2,224.0 262.2,222.7 262.5,222.2 262.5,224.9 262.7,224.4 262.7,222.5 263.0,222.4 263.0,224.5 263.3,224.1 263.3,222.9 263.6,221.8 263.6,225.1 264.0,225.3 264.0,223.3 264.3,223.2 264.3,225.6 264.6,225.4 264.6,223.0 264.9,224.2 264.9,226.1 265.2,226.7 265.2,223.8 265.5,224.4 265.5,226.0 265.7,226.8 265.7,223.5 266.0,224.1 266.0,227.3 266.4,227.0 266.4,225.0 266.7,224.8 266.7,226.8 266.9,228.1 266.9,224.6 267.2,224.6 267.2,228.0 267.5,227.3 267.5,225.4 267.8,225.6 267.8,228.9 268.1,228.2 268.1,225.7 268.4,226.1 268.4,228.0 268.7,229.2 268.7,226.4 269.1,226.5 269.1,229.6 269.3,228.9 269.3,226.2 269.6,225.8 269.6,229.0 270.0,229.1 270.0,226.8 270.3,227.0 270.3,228.9 270.6,229.6 270.6,227.5 270.9,227.1 270.9,230.9 271.2,230.1 271.2,226.8 271.4,227.2 271.4,230.5 271.8,230.6 271.8,228.4 272.1,226.9 272.1,230.7 272.3,231.0 272.3,228.3 272.6,227.9 272.6,231.2 272.9,230.8 272.9,229.2 273.2,228.1 273.2,231.1 273.5,231.6 273.5,228.6 273.8,228.5 273.8,231.3 274.1,231.6 274.1,229.4 274.4,229.3 274.4,232.2 274.7,232.9 274.7,229.9 275.0,229.0 275.0,232.0 275.4,232.2 275.4,229.9 275.7,230.1 275.7,232.8 275.9,233.0 275.9,229.7 276.2,230.4 276.2,233.2 276.5,233.4 276.5,230.8 276.8,230.8 276.8,233.6 277.2,233.7 277.2,231.3 277.4,231.4 277.4,233.9 277.8,233.9 277.8,231.6 278.1,231.1 278.1,234.3 278.4,234.1 278.4,230.9 278.7,231.5 278.7,234.4 279.0,234.7 279.0,232.3 279.3,232.6 279.3,235.0 279.5,234.7 279.5,232.6 279.9,232.0 279.9,236.0 280.2,235.0 280.2,232.7 280.4,232.4 280.4,235.1 280.7,235.7 280.7,233.1 281.0,232.9 281.0,235.4 281.3,235.1 281.3,232.9 281.6,233.2 281.6,235.6 281.9,236.0 281.9,233.4 282.3,233.5 282.3,236.2 282.6,236.7 282.6,233.4 282.8,233.4 282.8,237.0 283.2,236.1 283.2,234.1 283.5,234.0 283.5,237.1 283.8,237.0 283.8,234.2 284.0,233.9 284.0,236.9 284.3,237.2 284.3,233.7 284.7,234.2 284.7,237.3 285.0,237.4 285.0,233.6 285.3,235.0 285.3,237.5 285.5,239.0 285.5,233.9 285.8,234.8 285.8,238.0 286.2,237.7 286.2,235.1 286.5,234.3 286.5,238.4 286.8,238.5 286.8,235.3 287.0,235.3 287.0,238.3 287.3,238.8 287.3,235.7 287.7,236.4 287.7,239.2 288.0,239.5 288.0,235.8 288.3,236.2 288.3,239.7 288.5,239.6 288.5,236.8 288.8,237.1 288.8,239.7 289.2,239.9 289.2,236.8 289.5,237.5 289.5,240.2 289.8,240.2 289.8,237.5 290.1,236.1 290.1,239.7 290.4,240.6 290.4,237.0 290.6,236.7 290.6,240.1 290.9,240.4 290.9,236.7 291.3,238.0 291.3,240.4 291.6,240.4 291.6,237.8 291.8,237.6 291.8,241.4 292.1,241.2 292.1,238.6 292.4,238.5 292.4,240.9 292.7,240.9 292.7,237.6 293.1,237.8 293.1,240.9 293.4,242.2 293.4,238.4 293.7,238.0 293.7,241.4 293.9,241.8 293.9,237.8 294.2,239.3 294.2,241.9 294.5,241.4 294.5,238.8 294.8,239.4 294.8,242.4 295.1,242.2 295.1,239.1 295.5,239.0 295.5,242.8 295.8,242.8 295.8,238.7 296.1,238.9 296.1,243.5 296.4,242.2 296.4,239.0 296.6,239.4 296.6,242.7 297.0,242.8 297.0,239.9 297.2,239.9 297.2,243.0 297.5,243.1 297.5,240.2 297.9,239.2 297.9,243.2 298.2,243.3 298.2,240.1 298.5,239.4 298.5,243.2 298.8,243.3 298.8,240.0 299.1,240.8 299.1,244.0 299.4,243.5 299.4,240.3 299.6,240.6 299.6,243.8 299.9,244.3 299.9,240.9 300.2,240.8 300.2,243.8 300.5,244.2 300.5,241.5 300.8,241.7 300.8,244.3 301.2,244.6 301.2,242.1 301.4,241.6 301.4,244.7 301.8,244.3 301.8,241.5 302.0,240.9 302.0,244.4 302.4,244.6 302.4,241.7 302.7,241.1 302.7,244.9 303.0,244.7 303.0,241.5 303.3,240.8 303.3,245.2 303.6,244.9 303.6,241.5 303.9,242.7 303.9,245.9 304.2,245.2 304.2,242.4 304.5,242.4 304.5,245.1 304.8,245.5 304.8,242.7 305.1,242.0 305.1,246.3 305.4,246.0 305.4,242.1 305.6,242.3 305.6,245.9 305.9,245.7 305.9,242.6 306.2,242.5 306.2,246.4 306.6,246.3 306.6,242.7 306.8,242.5 306.8,246.7 307.2,246.2 307.2,242.6 307.5,243.8 307.5,246.0 307.7,246.2 307.7,243.6 308.1,243.1 308.1,246.5 308.4,246.5 308.4,243.2 308.6,243.6 308.6,247.0 309.0,246.6 309.0,243.2 309.2,243.7 309.2,247.6 309.5,246.8 309.5,243.4 309.9,243.4 309.9,247.3 310.1,247.8 310.1,244.2 310.4,244.1 310.4,247.2 310.7,247.5 310.7,242.9 311.1,243.9 311.1,247.7 311.3,247.3 311.3,244.2 311.6,244.5 311.6,248.1 311.9,247.5 311.9,244.0 312.2,244.1 312.2,247.9 312.6,247.8 312.6,244.7 312.8,244.8 312.8,247.5 313.1,248.2 313.1,244.1 313.4,244.5 313.4,247.8 313.7,247.8 313.7,244.8 314.1,245.0 314.1,248.2 314.3,248.6 314.3,244.4 314.6,244.4 314.6,248.2 314.9,248.7 314.9,244.6 315.2,244.1 315.2,249.3 315.5,248.7 315.5,244.9 315.8,245.1 315.8,248.6 316.2,249.6 316.2,245.8 316.4,245.7 316.4,249.4 316.7,250.2 316.7,245.6 317.1,245.3 317.1,249.0 317.4,249.5 317.4,245.8 317.7,244.9 317.7,249.0 318.0,249.0 318.0,245.6 318.2,245.7 318.2,249.6 318.5,248.8 318.5,245.8 318.8,246.0 318.8,249.3 319.2,249.7 319.2,246.2 319.5,246.0 319.5,249.4 319.7,249.7 319.7,245.9 320.0,246.6 320.0,251.1 320.3,249.7 320.3,246.4 320.7,246.3 320.7,250.0 320.9,249.7 320.9,246.0 321.2,246.4 321.2,249.7 321.6,249.6 321.6,246.4 321.9,246.1 321.9,250.0 322.1,250.6 322.1,246.9 322.4,246.7 322.4,250.1 322.7,250.3 322.7,246.6 323.1,246.9 323.1,250.2 323.4,250.5 323.4,246.5 323.7,246.8 323.7,250.4 323.9,250.8 323.9,246.1 324.3,246.8 324.3,250.4 324.6,250.3 324.6,246.7 324.9,247.1 324.9,250.2 325.2,250.6 325.2,247.3 325.5,246.8 325.5,250.9 325.8,250.7 325.8,246.9 326.1,247.1 326.1,250.9 326.4,251.0 326.4,246.6 326.7,246.9 326.7,251.5 326.9,251.4 326.9,246.9 327.3,246.8 327.3,251.2 327.6,251.6 327.6,246.2 327.8,248.2 327.8,251.0 328.2,251.0 328.2,247.6 328.5,248.1 328.5,251.7 328.8,251.0 328.8,247.7 329.0,248.0 329.0,251.2 329.4,251.3 329.4,247.4 329.7,247.4 329.7,252.1 330.0,252.4 330.0,247.6 330.3,247.7 330.3,251.5 330.5,251.7 330.5,247.8 330.8,248.0 330.8,252.1 331.2,251.7 331.2,248.2 331.5,248.1 331.5,251.6 331.8,251.4 331.8,248.1 332.1,247.5 332.1,251.4 332.4,251.5 332.4,248.0 332.6,248.3 332.6,251.7 332.9,252.1 332.9,248.0 333.2,248.2 333.2,252.4 333.5,251.7 333.5,248.1 333.8,248.0 333.8,252.3 334.1,252.0 334.1,247.0 334.5,248.3 334.5,252.5 334.8,252.7 334.8,248.0 335.1,248.0 335.1,252.1 335.3,252.8 335.3,248.7 335.6,248.2 335.6,252.3 336.0,252.4 336.0,248.4 336.3,248.8 336.3,252.2 336.5,252.6 336.5,248.8 336.9,248.6 336.9,252.6 337.2,251.9 337.2,248.7 337.5,248.3 337.5,252.2 337.7,252.5 337.7,248.4 338.0,249.0 338.0,252.7 338.4,252.3 338.4,248.0 338.6,249.3 338.6,252.6 338.9,252.6 338.9,249.0 339.3,249.1 339.3,252.5 339.6,252.7 339.6,248.1 339.8,249.1 339.8,253.0 340.2,252.2 340.2,248.6 340.5,249.2 340.5,252.6 340.7,252.8 340.7,248.8 341.0,248.5 341.0,253.0 341.3,252.8 341.3,249.1 341.7,248.4 341.7,252.7 342.0,252.8 342.0,248.8 342.3,249.2 342.3,253.3 342.6,253.0 342.6,248.8 342.9,248.9 342.9,253.2 343.2,252.9 343.2,249.2 343.5,248.6 343.5,253.0 343.7,252.9 343.7,249.2 344.0,249.1 344.0,253.3 344.4,253.0 344.4,249.3 344.7,249.1 344.7,253.3 344.9,253.7 344.9,247.9 345.3,248.9 345.3,252.7 345.6,253.1 345.6,249.4 345.8,249.9 345.8,253.4" fill="none" stroke="#ff00ff" stroke-width="1.0" stroke-linejoin="round"/>
<path d="M51.1,31.8 56.9,34.2 61.9,36.5 66.4,38.6 70.3,40.6 73.9,44.2 77.2,47.4 80.2,47.7 83.0,50.3 85.6,51.0 88.0,54.0 90.3,55.1 92.4,56.0 94.5,57.6 96.4,60.7 98.2,60.8 100.0,63.7 101.6,64.0 103.2,67.3 104.8,67.1 106.3,67.8 107.7,69.0 109.0,71.4 110.4,72.4 111.6,74.2 112.9,74.2 114.1,74.6 115.2,77.0 116.3,77.6 117.4,78.4 118.5,80.0 119.5,80.2 120.5,81.6 121.5,82.1 122.5,83.3 123.4,83.9 124.3,84.3 125.2,86.2 126.0,86.8 126.9,88.5 127.7,88.5 128.5,89.9 129.3,89.9 130.1,91.1 130.8,91.6 131.6,92.7 132.3,94.3 133.0,94.4 133.7,95.0 134.4,97.2 135.1,97.3 135.8,97.7 136.4,98.0 137.1,97.8 137.7,99.2 138.3,99.5 138.9,100.6 139.5,100.8 140.1,101.2 140.7,103.4 141.3,103.3 141.9,104.4 142.4,103.5 143.0,105.6 143.5,105.1 144.0,106.2 144.6,106.1 145.1,107.6 145.6,107.2 146.1,109.0 146.6,108.7 147.1,109.2 147.6,109.0 148.1,110.3 148.5,110.3 149.0,111.5 149.5,112.2 149.9,112.8 150.4,113.0 150.8,113.8 151.2,114.1 151.7,115.2 152.1,114.1 152.5,114.5 153.0,115.3 153.4,117.0 153.8,116.6 154.2,118.0 154.6,117.5 155.0,118.1 155.4,117.8 155.8,118.6 156.2,118.5 156.5,120.1 156.9,120.5 157.3,121.5 157.7,121.2 158.0,121.3 158.4,121.7 158.8,121.6 159.1,123.1 159.5,123.6 159.8,123.3 160.2,124.1 160.5,124.4 160.8,124.3 161.2,125.0 161.5,124.9 161.8,125.7 162.2,126.3 162.5,127.0 162.8,126.6 163.1,125.8 163.5,126.5 163.8,127.8 164.1,127.8 164.4,129.3 164.7,130.2 165.0,129.1 165.3,130.2 165.6,130.8 165.9,129.9 166.2,130.3 166.5,131.4 166.8,130.9 167.1,131.1 167.4,132.2 167.6,131.8 167.9,132.3 168.2,133.4 168.5,133.4 168.8,134.0 169.0,134.2 169.4,133.4 169.4,134.5 169.8,135.2 170.1,135.3 170.4,135.4 170.6,136.8 170.9,136.8 171.2,136.4 171.5,137.1 171.5,137.1 171.9,135.8 172.2,137.5 172.4,138.1 172.7,137.9 173.0,137.2 173.0,137.6 173.4,138.6 173.6,139.3 173.9,139.0 174.2,139.7 174.2,139.4 174.6,141.0 174.8,140.1 175.2,140.0 175.2,142.5 175.5,141.1 175.8,141.2 176.0,142.2 176.3,142.5 176.3,142.2 176.7,143.0 177.0,142.5 177.0,143.5 177.3,142.8 177.5,144.4 177.9,143.3 177.9,143.1 178.2,143.5 178.4,144.2 178.7,144.8 178.7,144.9 179.0,144.7 179.3,146.1 179.3,144.8 179.6,144.7 180.0,145.5 180.0,145.8 180.3,145.7 180.6,146.4 180.6,146.3 180.9,147.0 181.2,147.8 181.2,148.2 181.5,147.8 181.7,147.6 181.7,147.5 182.0,147.5 182.3,147.8 182.3,149.5 182.6,150.6 182.9,149.8 182.9,148.9 183.3,148.4 183.3,149.5 183.5,149.8 183.8,150.4 183.8,150.2 184.2,150.3 184.2,150.5 184.5,150.3 184.7,152.6 184.7,152.2 185.1,150.9 185.1,151.7 185.4,151.9 185.6,153.9 185.6,151.3 186.0,153.2 186.0,153.8 186.2,154.6 186.5,154.7 186.5,153.6 186.8,152.8 186.8,153.2 187.2,154.2 187.2,153.8 187.5,153.8 187.5,154.1 187.8,155.4 188.0,154.9 188.0,154.9 188.3,154.7 188.3,154.9 188.7,157.8 188.7,155.2 189.0,156.2 189.0,156.3 189.3,157.4 189.3,156.4 189.6,156.6 189.6,157.2 189.8,157.0 190.1,158.2 190.1,156.3 190.4,158.2 190.4,159.5 190.7,159.3 190.7,158.1 191.0,158.1 191.0,159.1 191.3,158.6 191.3,158.2 191.6,158.5 191.6,160.1 191.9,159.5 191.9,159.1 192.2,159.9 192.2,159.9 192.5,161.3 192.5,159.5 192.8,160.0 192.8,162.1 193.1,161.3 193.1,160.2 193.5,160.2 193.5,161.4 193.8,162.5 193.8,160.4 194.1,161.2 194.1,161.7 194.3,163.4 194.3,160.5 194.6,162.4 194.6,163.2 194.9,163.5 194.9,163.3 195.2,160.3 195.2,163.6 195.6,164.6 195.6,162.1 195.8,163.8 195.8,164.1 196.1,164.0 196.1,162.9 196.4,164.3 196.4,164.6 196.8,165.8 196.8,164.5 197.0,165.1 197.0,166.4 197.4,164.6 197.4,164.1 197.7,164.5 197.7,164.9 197.9,167.1 197.9,166.2 198.2,166.0 198.2,166.5 198.6,166.5 198.6,166.2 198.9,166.4 198.9,167.8 199.2,167.3 199.2,167.3 199.5,166.5 199.5,168.4 199.8,169.4 199.8,167.4 200.1,167.7 200.1,170.0 200.4,168.9 200.4,168.0 200.7,168.7 200.7,169.4 201.0,169.6 201.0,168.6 201.3,169.8 201.3,171.4 201.5,169.4 201.5,168.6 201.8,168.5 201.8,170.0 202.2,170.6 202.2,170.2 202.4,170.2 202.4,171.9 202.7,171.8 202.7,169.3 203.1,171.5 203.1,172.0 203.4,172.7 203.4,170.9 203.7,171.9 203.7,172.7 203.9,173.1 203.9,172.1 204.3,171.3 204.3,173.9 204.6,173.3 204.6,171.7 204.9,172.6 204.9,173.9 205.1,173.4 205.1,172.8 205.4,173.4 205.4,174.4 205.7,174.6 205.7,173.1 206.0,174.0 206.0,174.9 206.3,176.1 206.3,175.1 206.6,174.0 206.6,174.6 206.9,175.4 206.9,174.0 207.2,174.4 207.2,176.7 207.5,175.3 207.5,174.5 207.8,175.7 207.8,176.8 208.1,177.0 208.1,176.0 208.4,175.9 208.4,178.2 208.8,177.4 208.8,177.0 209.1,176.8 209.1,179.3 209.3,177.8 209.3,177.1 209.6,177.1 209.6,178.5 209.9,179.8 209.9,177.4 210.3,177.9 210.3,179.5 210.5,179.9 210.5,179.0 210.9,178.5 210.9,179.8 211.2,180.8 211.2,179.5 211.4,179.1 211.4,179.7 211.7,181.8 211.7,179.7 212.0,180.5 212.0,180.7 212.3,181.1 212.3,179.7 212.6,179.9 212.6,180.8 212.9,182.2 212.9,180.2 213.2,180.1 213.2,181.9 213.5,182.5 213.5,181.7 213.9,180.5 213.9,182.6 214.2,182.9 214.2,181.8 214.4,182.5 214.4,183.1 214.8,184.6 214.8,182.2 215.0,183.2 215.0,184.7 215.3,184.0 215.3,183.1 215.6,183.9 215.6,185.8 216.0,185.1 216.0,184.1 216.3,183.8 216.3,185.2 216.6,185.6 216.6,183.5 216.9,184.7 216.9,185.6 217.2,184.6 217.2,184.1 217.4,185.4 217.4,186.6 217.7,186.9 217.7,184.2 218.0,184.9 218.0,186.4 218.4,187.9 218.4,184.7 218.7,186.3 218.7,187.2 219.0,187.0 219.0,185.2 219.3,186.5 219.3,187.8 219.5,188.7 219.5,187.3 219.9,187.7 219.9,189.4 220.2,188.6 220.2,186.6 220.5,188.3 220.5,189.2 220.7,189.6 220.7,188.6 221.0,187.4 221.0,190.0 221.3,189.8 221.3,188.3 221.6,189.0 221.6,191.6 221.9,190.3 221.9,189.2 222.2,189.2 222.2,190.6 222.5,191.6 222.5,189.2 222.8,188.1 222.8,191.4 223.2,191.2 223.2,190.7 223.5,190.6 223.5,192.6 223.7,192.2 223.7,189.5 224.1,191.0 224.1,193.0 224.4,192.7 224.4,191.5 224.7,190.7 224.7,191.7 224.9,193.4 224.9,191.1 225.2,191.9 225.2,193.3 225.5,194.6 225.5,192.3 225.8,191.1 225.8,194.9 226.1,194.3 226.1,192.3 226.4,192.5 226.4,194.3 226.7,195.6 226.7,194.6 227.0,193.5 227.0,195.6 227.3,196.0 227.3,194.7 227.7,193.9 227.7,195.6 228.0,196.6 228.0,194.7 228.2,194.8 228.2,195.6 228.5,196.5 228.5,195.2 228.9,195.4 228.9,196.3 229.2,197.4 229.2,195.5 229.5,195.8 229.5,196.8 229.8,198.7 229.8,196.7 230.1,196.6 230.1,197.9 230.3,199.2 230.3,195.9 230.6,195.6 230.6,198.7 230.9,199.0 230.9,196.5 231.2,197.9 231.2,199.7 231.6,199.7 231.6,197.1 231.9,197.0 231.9,199.4 232.1,199.5 232.1,198.2 232.4,198.2 232.4,200.9 232.7,200.3 232.7,198.2 233.0,199.7 233.0,200.8 233.3,201.7 233.3,199.1 233.7,198.8 233.7,201.8 234.0,201.1 234.0,199.5 234.3,199.9 234.3,202.2 234.5,202.6 234.5,200.6 234.8,199.1 234.8,202.9 235.2,203.9 235.2,201.1 235.5,201.5 235.5,202.9 235.8,203.2 235.8,200.6 236.1,201.8 236.1,204.3 236.4,203.5 236.4,201.4 236.7,202.2 236.7,205.4 236.9,204.0 236.9,202.8 237.2,202.9 237.2,205.0 237.5,205.8 237.5,202.6 237.9,202.8 237.9,204.4 238.2,205.7 238.2,203.0 238.5,203.0 238.5,206.1 238.8,205.3 238.8,202.6 239.1,204.3 239.1,206.5 239.4,206.4 239.4,203.8 239.6,204.8 239.6,206.4 239.9,207.0 239.9,204.3 240.2,204.8 240.2,206.8 240.6,207.3 240.6,205.4 240.9,205.8 240.9,208.2 241.2,207.2 241.2,204.8 241.5,205.2 241.5,208.5 241.8,208.2 241.8,206.7 242.0,206.7 242.0,208.0 242.4,209.0 242.4,207.4 242.6,207.1 242.6,208.8 242.9,209.7 242.9,205.9 243.2,207.2 243.2,209.5 243.5,209.5 243.5,208.0 243.8,208.0 243.8,209.8 244.1,211.2 244.1,208.3 244.5,208.7 244.5,210.5 244.8,210.6 244.8,208.6 245.1,209.0 245.1,211.3 245.3,210.6 245.3,209.0 245.6,210.0 245.6,212.9 245.9,211.9 245.9,209.3 246.2,210.5 246.2,212.5 246.6,212.4 246.6,209.5 246.9,211.7 246.9,212.9 247.1,212.2 247.1,210.3 247.4,210.0 247.4,213.5 247.8,213.6 247.8,210.9 248.1,211.0 248.1,212.9 248.4,213.6 248.4,210.4 248.6,212.6 248.6,214.4 248.9,213.6 248.9,212.6 249.3,212.6 249.3,214.9 249.6,214.9 249.6,212.6 249.8,213.3 249.8,214.4 250.1,215.0 250.1,213.0 250.4,213.1 250.4,216.3 250.7,215.7 250.7,213.6 251.0,214.1 251.0,215.9 251.4,216.3 251.4,213.2 251.7,213.9 251.7,216.8 252.0,216.6 252.0,213.8 252.3,214.8 252.3,216.6 252.6,217.3 252.6,215.1 252.9,214.4 252.9,217.7 253.1,217.6 253.1,214.2 253.4,215.1 253.4,218.8 253.8,218.1 253.8,215.7 254.1,215.2 254.1,218.3 254.3,218.0 254.3,216.8 254.6,215.7 254.6,218.3 255.0,219.3 255.0,216.3 255.3,216.7 255.3,218.9 255.6,219.6 255.6,216.9 255.9,217.5 255.9,219.1 256.2,219.2 256.2,218.0 256.4,217.7 256.4,220.4 256.8,219.7 256.8,218.2 257.1,217.8 257.1,220.4 257.4,220.0 257.4,217.8 257.7,218.5 257.7,220.3 258.0,221.0 258.0,218.4 258.3,218.3 258.3,221.0 258.6,221.8 258.6,218.7 258.9,219.3 258.9,223.3 259.2,222.3 259.2,220.1 259.5,219.1 259.5,221.5 259.8,222.7 259.8,220.1 260.0,220.1 260.0,222.6 260.3,223.6 260.3,220.2 260.6,220.5 260.6,222.4 260.9,222.6 260.9,220.8 261.2,220.8 261.2,222.9 261.6,223.5 261.6,220.5 261.9,221.7 261.9,224.0 262.2,224.1 262.2,221.3 262.5,222.1 262.5,224.9 262.7,224.4 262.7,221.1 263.0,222.1 263.0,224.9 263.3,224.8 263.3,222.3 263.6,222.1 263.6,225.3 264.0,225.3 264.0,222.6 264.3,222.5 264.3,225.4 264.6,226.4 264.6,222.3 264.9,223.3 264.9,226.5 265.2,225.8 265.2,223.5 265.5,224.3 265.5,226.1 265.7,226.5 265.7,223.4 266.0,223.5 266.0,227.1 266.4,226.9 266.4,224.1 266.7,223.6 266.7,227.6 266.9,227.9 266.9,224.9 267.2,223.8 267.2,227.0 267.5,229.0 267.5,224.7 267.8,225.1 267.8,227.7 268.1,227.5 268.1,225.1 268.4,225.5 268.4,227.7 268.7,228.4 268.7,224.8 269.1,225.0 269.1,228.8 269.3,229.2 269.3,225.9 269.6,226.3 269.6,228.8 270.0,228.8 270.0,226.6 270.3,226.1 270.3,229.4 270.6,229.0 270.6,226.4 270.9,227.0 270.9,230.5 271.2,229.7 271.2,226.7 271.4,226.8 271.4,230.1 271.8,230.1 271.8,227.4 272.1,226.9 272.1,230.3 272.3,230.3 272.3,227.2 272.6,227.6 272.6,231.7 272.9,231.1 272.9,228.2 273.2,228.2 273.2,231.0 273.5,231.1 273.5,228.0 273.8,228.2 273.8,231.4 274.1,231.0 274.1,229.7 274.4,228.5 274.4,231.8 274.7,231.9 274.7,229.6 275.0,229.2 275.0,231.6 275.4,231.5 275.4,229.9 275.7,229.0 275.7,232.3 275.9,231.9 275.9,229.6 276.2,229.7 276.2,232.2 276.5,232.6 276.5,229.2 276.8,229.7 276.8,233.3 277.2,232.9 277.2,230.6 277.4,230.8 277.4,233.3 277.8,233.9 277.8,231.3 278.1,231.1 278.1,233.5 278.4,234.0 278.4,230.2 278.7,231.7 278.7,234.2 279.0,234.9 279.0,230.5 279.3,231.2 279.3,234.6 279.5,234.8 279.5,231.1 279.9,232.1 279.9,234.2 280.2,235.4 280.2,232.0 280.4,232.1 280.4,235.2 280.7,235.1 280.7,231.5 281.0,232.8 281.0,234.6 281.3,235.4 281.3,232.4 281.6,232.8 281.6,235.1 281.9,236.1 281.9,232.8 282.3,233.4 282.3,235.7 282.6,236.3 282.6,233.5 282.8,233.0 282.8,236.2 283.2,236.8 283.2,234.2 283.5,233.4 283.5,236.8 283.8,237.0 283.8,234.0 284.0,234.0 284.0,237.7 284.3,237.4 284.3,234.0 284.7,234.6 284.7,236.3 285.0,236.8 285.0,234.6 285.3,234.6 285.3,238.0 285.5,237.7 285.5,234.6 285.8,235.2 285.8,237.9 286.2,238.1 286.2,235.2 286.5,234.3 286.5,237.6 286.8,238.1 286.8,234.6 287.0,234.4 287.0,238.5 287.3,238.9 287.3,235.3 287.7,235.6 287.7,239.7 288.0,239.0 288.0,235.5 288.3,236.2 288.3,239.1 288.5,238.6 288.5,235.0 288.8,236.3 288.8,239.6 289.2,238.8 289.2,236.7 289.5,236.6 289.5,239.5 289.8,239.5 289.8,236.0 290.1,237.0 290.1,239.4 290.4,240.2 290.4,236.3 290.6,237.0 290.6,240.9 290.9,239.4 290.9,236.7 291.3,236.8 291.3,240.0 291.6,241.3 291.6,237.5 291.8,237.4 291.8,240.7 292.1,240.7 292.1,238.1 292.4,236.4 292.4,240.2 292.7,241.0 292.7,237.6 293.1,237.9 293.1,241.2 293.4,241.5 293.4,238.2 293.7,238.2 293.7,241.4 293.9,241.5 293.9,238.3 294.2,238.3 294.2,241.4 294.5,241.2 294.5,238.7 294.8,238.3 294.8,242.0 295.1,241.6 295.1,239.1 295.5,238.6 295.5,242.2 295.8,241.9 295.8,238.9 296.1,238.9 296.1,242.3 296.4,242.6 296.4,239.6 296.6,239.8 296.6,242.2 297.0,242.2 297.0,239.1 297.2,239.4 297.2,242.7 297.5,243.1 297.5,239.6 297.9,239.6 297.9,242.8 298.2,243.5 298.2,239.2 298.5,240.0 298.5,243.4 298.8,243.4 298.8,240.2 299.1,240.0 299.1,243.4 299.4,243.3 299.4,240.7 299.6,240.0 299.6,243.1 299.9,243.6 299.9,240.3 300.2,240.9 300.2,244.1 300.5,244.1 300.5,240.2 300.8,239.8 300.8,243.9 301.2,243.5 301.2,241.1 301.4,240.6 301.4,243.4 301.8,244.6 301.8,241.1 302.0,241.6 302.0,244.6 302.4,244.1 302.4,241.4 302.7,241.8 302.7,244.9 303.0,245.3 303.0,241.7 303.3,241.5 303.3,244.5 303.6,245.3 303.6,241.3 303.9,241.5 303.9,244.9 304.2,244.9 304.2,242.5 304.5,242.2 304.5,246.0 304.8,246.1 304.8,242.6 305.1,241.0 305.1,246.1 305.4,245.6 305.4,242.1 305.6,242.6 305.6,246.1 305.9,245.9 305.9,241.8 306.2,242.7 306.2,246.3 306.6,245.9 306.6,243.2 306.8,242.7 306.8,246.8 307.2,246.7 307.2,243.3 307.5,243.1 307.5,246.0 307.7,247.2 307.7,242.8 308.1,242.8 308.1,246.3 308.4,247.1 308.4,243.4 308.6,242.9 308.6,246.9 309.0,246.9 309.0,243.4 309.2,243.7 309.2,246.9 309.5,246.8 309.5,243.7 309.9,243.7 309.9,246.8 310.1,247.1 310.1,243.6 310.4,243.7 310.4,247.2 310.7,247.2 310.7,243.9 311.1,243.4 311.1,246.9 311.3,247.0 311.3,244.3 311.6,243.8 311.6,247.9 311.9,247.4 311.9,244.5 312.2,244.2 312.2,247.4 312.6,247.9 312.6,243.8 312.8,244.7 312.8,248.7 313.1,247.9 313.1,244.4 313.4,244.5 313.4,248.2 313.7,247.7 313.7,244.3 314.1,244.7 314.1,247.9 314.3,248.0 314.3,245.0 314.6,245.1 314.6,247.6 314.9,248.4 314.9,245.2 315.2,244.5 315.2,248.2 315.5,248.3 315.5,244.8 315.8,244.6 315.8,249.2 316.2,248.5 316.2,245.4 316.4,245.6 316.4,249.5 316.7,249.2 316.7,245.2 317.1,245.6 317.1,248.8 317.4,248.8 317.4,245.1 317.7,245.6 317.7,248.9 318.0,249.5 318.0,245.1 318.2,245.7 318.2,250.4 318.5,249.5 318.5,245.8 318.8,245.8 318.8,248.8 319.2,249.6 319.2,246.0 319.5,246.4 319.5,249.3 319.7,250.1 319.7,245.6 320.0,246.2 320.0,249.2 320.3,249.2 320.3,246.4 320.7,245.9 320.7,249.7 320.9,249.3 320.9,245.2 321.2,246.5 321.2,249.9 321.6,249.5 321.6,246.4 321.9,246.6 321.9,250.1 322.1,250.4 322.1,246.3 322.4,246.0 322.4,249.5 322.7,250.6 322.7,247.0 323.1,245.9 323.1,250.5 323.4,250.5 323.4,246.7 323.7,246.6 323.7,250.5 323.9,250.4 323.9,246.8 324.3,246.8 324.3,250.3 324.6,250.5 324.6,247.1 324.9,246.7 324.9,250.6 325.2,250.7 325.2,247.3 325.5,247.1 325.5,250.8 325.8,250.5 325.8,246.9 326.1,247.0 326.1,251.1 326.4,250.6 326.4,246.9 326.7,246.8 326.7,250.4 326.9,250.9 326.9,247.4 327.3,247.2 327.3,251.0 327.6,251.0 327.6,247.2 327.8,247.5 327.8,252.1 328.2,250.8 328.2,247.9 328.5,247.7 328.5,252.3 328.8,251.4 328.8,247.4 329.0,247.2 329.0,251.3 329.4,251.2 329.4,247.4 329.7,247.7 329.7,251.5 330.0,252.3 330.0,248.0 330.3,248.1 330.3,251.7 330.5,251.6 330.5,248.1 330.8,248.2 330.8,251.5 331.2,251.6 331.2,248.2 331.5,247.9 331.5,251.6 331.8,251.7 331.8,248.1 332.1,248.3 332.1,251.7 332.4,251.6 332.4,247.7 332.6,248.4 332.6,252.3 332.9,251.8 332.9,248.5 333.2,247.8 333.2,252.2 333.5,252.7 333.5,248.3 333.8,248.2 333.8,251.8 334.1,251.8 334.1,248.3 334.5,248.2 334.5,252.0 334.8,251.9 334.8,248.1 335.1,248.4 335.1,252.6 335.3,252.4 335.3,248.8 335.6,247.4 335.6,252.0 336.0,253.0 336.0,247.5 336.3,248.9 336.3,252.1 336.5,252.3 336.5,247.8 336.9,249.0 336.9,252.2 337.2,252.5 337.2,248.6 337.5,248.0 337.5,252.9 337.7,253.0 337.7,248.4 338.0,249.0 338.0,252.4 338.4,252.4 338.4,248.7 338.6,248.5 338.6,252.8 338.9,252.5 338.9,249.0 339.3,248.9 339.3,252.5 339.6,252.8 339.6,247.7 339.8,248.6 339.8,252.5 340.2,252.7 340.2,248.7 340.5,248.1 340.5,253.2 340.7,253.1 340.7,248.7 341.0,249.2 341.0,253.2 341.3,252.1 341.3,248.9 341.7,248.6 341.7,253.0 342.0,253.1 342.0,248.9 342.3,249.1 342.3,252.7 342.6,253.4 342.6,248.5 342.9,248.4 342.9,252.5 343.2,253.6 343.2,249.3 343.5,249.2 343.5,252.9 343.7,253.0 343.7,248.3 344.0,249.4 344.0,253.6 344.4,252.9 344.4,249.6 344.7,249.1 344.7,254.0 344.9,253.0 344.9,249.4 345.3,248.8 345.3,252.9 345.6,253.1 345.6,248.1 345.8,249.6 345.8,252.6" fill="none" stroke="#000080" stroke-width="1.0" stroke-linejoin="round"/>
<path d="M51.1,33.4 56.9,36.8 61.9,39.9 66.4,41.7 70.3,43.6 73.9,47.5 77.2,50.0 80.2,50.9 83.0,53.5 85.6,54.0 88.0,56.6 90.3,57.2 92.4,58.8 94.5,59.9 96.4,62.8 98.2,63.5 100.0,65.6 101.6,66.2 103.2,69.2 104.8,69.5 106.3,69.8 107.7,71.6 109.0,74.4 110.4,75.0 111.6,76.3 112.9,77.0 114.1,77.4 115.2,79.3 116.3,80.7 117.4,80.7 118.5,82.1 119.5,83.4 120.5,84.4 121.5,84.9 122.5,85.8 123.4,86.8 124.3,87.3 125.2,88.4 126.0,89.5 126.9,91.1 127.7,91.5 128.5,92.9 129.3,92.2 130.1,93.3 130.8,95.5 131.6,95.2 132.3,97.0 133.0,97.2 133.7,97.8 134.4,98.7 135.1,98.9 135.8,99.4 136.4,100.3 137.1,101.1 137.7,102.8 138.3,101.4 138.9,103.7 139.5,103.5 140.1,103.3 140.7,104.3 141.3,105.5 141.9,106.3 142.4,106.3 143.0,107.4 143.5,106.7 144.0,109.0 144.6,108.4 145.1,110.1 145.6,109.5 146.1,110.1 146.6,111.3 147.1,111.9 147.6,111.6 148.1,112.7 148.5,114.0 149.0,113.3 149.5,114.4 149.9,115.3 150.4,115.1 150.8,115.1 151.2,115.3 151.7,117.0 152.1,116.5 152.5,117.2 153.0,116.9 153.4,118.9 153.8,119.8 154.2,120.5 154.6,119.7 155.0,120.2 155.4,119.1 155.8,121.3 156.2,120.8 156.5,120.4 156.9,121.8 157.3,122.5 157.7,123.4 158.0,123.8 158.4,124.8 158.8,125.4 159.1,124.7 159.5,125.8 159.8,124.5 160.2,126.4 160.5,125.8 160.8,126.4 161.2,127.0 161.5,127.1 161.8,127.4 162.2,128.4 162.5,128.8 162.8,127.3 163.1,128.0 163.5,129.2 163.8,129.4 164.1,130.1 164.4,131.3 164.7,131.2 165.0,131.2 165.3,131.9 165.6,132.1 165.9,132.4 166.2,133.5 166.5,133.4 166.8,132.6 167.1,134.2 167.4,133.1 167.6,134.1 167.9,133.3 168.2,135.3 168.5,134.0 168.8,135.8 169.0,136.2 169.4,135.7 169.4,136.0 169.8,135.7 170.1,136.7 170.4,137.4 170.6,136.4 170.9,136.6 171.2,138.3 171.5,139.0 171.5,138.4 171.9,138.7 172.2,138.2 172.4,139.4 172.7,141.0 173.0,139.3 173.0,139.9 173.4,141.0 173.6,140.1 173.9,140.5 174.2,141.6 174.2,141.2 174.6,141.7 174.8,142.2 175.2,142.7 175.2,143.2 175.5,142.8 175.8,144.3 176.0,143.9 176.3,144.0 176.3,142.5 176.7,142.7 177.0,144.0 177.0,144.5 177.3,144.1 177.5,146.0 177.9,145.5 177.9,145.1 178.2,145.9 178.4,146.5 178.7,147.3 178.7,147.4 179.0,146.3 179.3,147.7 179.3,146.2 179.6,147.1 180.0,147.5 180.0,148.8 180.3,148.1 180.6,148.2 180.6,148.2 180.9,147.8 181.2,148.5 181.2,148.7 181.5,149.3 181.7,149.9 181.7,149.3 182.0,150.6 182.3,149.7 182.3,150.3 182.6,150.2 182.9,152.4 182.9,152.0 183.3,151.3 183.3,151.8 183.5,151.3 183.8,152.7 183.8,152.5 184.2,152.7 184.2,152.8 184.5,150.4 184.7,153.1 184.7,151.8 185.1,152.9 185.1,153.9 185.4,153.9 185.6,153.9 185.6,153.4 186.0,154.1 186.0,154.9 186.2,153.9 186.5,156.4 186.5,156.4 186.8,155.7 186.8,156.4 187.2,155.8 187.2,155.5 187.5,156.5 187.5,156.7 187.8,157.1 188.0,157.6 188.0,155.6 188.3,156.2 188.3,156.9 188.7,159.5 188.7,158.5 189.0,157.9 189.0,158.6 189.3,157.9 189.3,157.6 189.6,158.1 189.6,158.8 189.8,159.0 190.1,161.1 190.1,159.8 190.4,160.0 190.4,160.1 190.7,161.1 190.7,158.7 191.0,160.1 191.0,161.6 191.3,161.8 191.3,160.5 191.6,160.5 191.6,160.8 191.9,161.2 191.9,161.1 192.2,161.6 192.2,161.8 192.5,161.2 192.5,160.0 192.8,161.6 192.8,162.7 193.1,163.2 193.1,161.8 193.5,161.3 193.5,163.0 193.8,164.6 193.8,163.9 194.1,163.0 194.1,164.0 194.3,164.7 194.3,163.4 194.6,163.5 194.6,166.0 194.9,164.7 194.9,164.4 195.2,164.5 195.2,166.1 195.6,165.5 195.6,165.1 195.8,165.6 195.8,165.9 196.1,166.6 196.1,166.2 196.4,166.0 196.4,166.6 196.8,167.7 196.8,166.2 197.0,166.4 197.0,167.4 197.4,166.8 197.4,166.1 197.7,167.0 197.7,167.4 197.9,167.0 197.9,165.8 198.2,166.6 198.2,167.9 198.6,168.9 198.6,168.5 198.9,167.8 198.9,168.5 199.2,169.2 199.2,168.1 199.5,168.5 199.5,170.2 199.8,169.4 199.8,169.3 200.1,169.8 200.1,171.0 200.4,170.7 200.4,170.0 200.7,169.8 200.7,171.6 201.0,170.7 201.0,170.0 201.3,170.8 201.3,171.8 201.5,171.3 201.5,171.1 201.8,171.4 201.8,171.9 202.2,172.4 202.2,171.0 202.4,170.7 202.4,173.0 202.7,174.5 202.7,172.2 203.1,172.7 203.1,173.3 203.4,174.0 203.4,173.0 203.7,173.3 203.7,173.7 203.9,174.1 203.9,173.3 204.3,173.8 204.3,174.3 204.6,175.6 204.6,173.9 204.9,174.5 204.9,175.1 205.1,175.8 205.1,174.5 205.4,174.7 205.4,175.0 205.7,175.4 205.7,175.3 206.0,174.2 206.0,176.6 206.3,178.1 206.3,175.6 206.6,175.6 206.6,178.4 206.9,178.2 206.9,177.9 207.2,176.4 207.2,177.9 207.5,177.6 207.5,176.1 207.8,177.2 207.8,179.0 208.1,178.0 208.1,177.4 208.4,177.4 208.4,179.0 208.8,179.6 208.8,177.6 209.1,178.6 209.1,180.3 209.3,180.6 209.3,179.3 209.6,178.9 209.6,180.3 209.9,181.5 209.9,178.8 210.3,179.8 210.3,181.0 210.5,182.3 210.5,179.5 210.9,180.8 210.9,181.9 211.2,181.5 211.2,180.4 211.4,180.6 211.4,182.1 211.7,182.8 211.7,181.3 212.0,181.9 212.0,182.6 212.3,183.4 212.3,181.6 212.6,181.7 212.6,183.5 212.9,183.0 212.9,181.4 213.2,182.3 213.2,183.9 213.5,183.9 213.5,181.7 213.9,181.4 213.9,184.4 214.2,183.6 214.2,182.7 214.4,182.5 214.4,184.8 214.8,184.6 214.8,183.5 215.0,183.7 215.0,186.0 215.3,186.6 215.3,184.2 215.6,184.2 215.6,185.9 216.0,186.2 216.0,183.8 216.3,185.6 216.3,187.1 216.6,187.2 216.6,185.8 216.9,184.2 216.9,187.3 217.2,187.5 217.2,184.0 217.4,186.4 217.4,187.3 217.7,188.3 217.7,186.1 218.0,187.2 218.0,188.4 218.4,188.6 218.4,186.8 218.7,188.0 218.7,189.4 219.0,189.3 219.0,187.5 219.3,188.6 219.3,190.0 219.5,191.2 219.5,188.2 219.9,188.7 219.9,190.1 220.2,190.7 220.2,189.0 220.5,189.0 220.5,190.8 220.7,192.2 220.7,189.8 221.0,189.5 221.0,190.7 221.3,192.5 221.3,190.5 221.6,189.5 221.6,191.1 221.9,191.8 221.9,190.3 222.2,190.4 222.2,191.5 222.5,191.8 222.5,189.5 222.8,190.8 222.8,191.6 223.2,192.9 223.2,191.4 223.5,191.8 223.5,194.1 223.7,194.2 223.7,191.6 224.1,192.8 224.1,194.1 224.4,193.7 224.4,191.4 224.7,192.3 224.7,193.9 224.9,195.1 224.9,193.1 225.2,193.6 225.2,194.7 225.5,195.1 225.5,193.9 225.8,193.4 225.8,195.3 226.1,196.4 226.1,194.0 226.4,194.7 226.4,195.7 226.7,196.2 226.7,194.8 227.0,195.3 227.0,196.4 227.3,197.6 227.3,195.2 227.7,195.4 227.7,197.5 228.0,197.8 228.0,195.8 228.2,196.1 228.2,198.0 228.5,197.9 228.5,195.7 228.9,195.5 228.9,198.0 229.2,198.9 229.2,196.8 229.5,197.2 229.5,198.8 229.8,199.1 229.8,197.7 230.1,197.4 230.1,199.1 230.3,199.6 230.3,197.5 230.6,198.1 230.6,199.4 230.9,200.3 230.9,198.0 231.2,198.3 231.2,200.8 231.6,200.5 231.6,199.2 231.9,198.6 231.9,202.4 232.1,200.7 232.1,199.8 232.4,198.8 232.4,200.8 232.7,201.7 232.7,199.7 233.0,200.5 233.0,201.7 233.3,203.2 233.3,201.0 233.7,200.7 233.7,202.5 234.0,202.9 234.0,200.4 234.3,200.5 234.3,202.5 234.5,202.2 234.5,201.6 234.8,201.1 234.8,204.1 235.2,203.4 235.2,202.1 235.5,202.2 235.5,204.5 235.8,203.6 235.8,202.5 236.1,203.1 236.1,204.9 236.4,203.8 236.4,203.0 236.7,203.6 236.7,205.4 236.9,205.9 236.9,203.6 237.2,202.4 237.2,205.0 237.5,206.4 237.5,202.7 237.9,203.6 237.9,207.7 238.2,206.6 238.2,204.8 238.5,204.6 238.5,206.5 238.8,206.5 238.8,205.0 239.1,204.9 239.1,207.1 239.4,207.4 239.4,204.1 239.6,205.4 239.6,207.2 239.9,207.8 239.9,206.5 240.2,205.7 240.2,208.0 240.6,208.2 240.6,206.8 240.9,206.1 240.9,208.6 241.2,209.1 241.2,206.6 241.5,207.1 241.5,208.6 241.8,210.1 241.8,208.1 242.0,206.6 242.0,211.4 242.4,210.0 242.4,208.6 242.6,207.5 242.6,209.9 242.9,211.5 242.9,208.4 243.2,209.0 243.2,210.8 243.5,210.9 243.5,208.4 243.8,208.8 243.8,210.4 244.1,211.0 244.1,209.1 244.5,209.3 244.5,210.7 244.8,212.2 244.8,210.6 245.1,209.5 245.1,211.9 245.3,212.4 245.3,210.6 245.6,210.1 245.6,212.1 245.9,213.0 245.9,211.3 246.2,210.2 246.2,212.5 246.6,212.8 246.6,211.7 246.9,211.3 246.9,213.1 247.1,214.2 247.1,211.1 247.4,211.9 247.4,213.3 247.8,213.9 247.8,211.9 248.1,212.6 248.1,214.7 248.4,214.7 248.4,212.6 248.6,213.5 248.6,215.3 248.9,215.4 248.9,213.4 249.3,213.4 249.3,215.1 249.6,215.7 249.6,214.3 249.8,214.1 249.8,215.3 250.1,216.3 250.1,214.2 250.4,213.7 250.4,217.0 250.7,217.3 250.7,213.8 251.0,215.8 251.0,216.8 251.4,216.8 251.4,215.0 251.7,214.9 251.7,216.9 252.0,217.4 252.0,215.6 252.3,214.8 252.3,217.9 252.6,217.7 252.6,215.7 252.9,215.5 252.9,217.6 253.1,218.3 253.1,216.5 253.4,216.6 253.4,218.9 253.8,219.2 253.8,216.2 254.1,216.4 254.1,219.7 254.3,219.0 254.3,217.1 254.6,216.9 254.6,220.2 255.0,220.3 255.0,217.9 255.3,218.4 255.3,219.9 255.6,220.3 255.6,217.8 255.9,218.0 255.9,220.8 256.2,220.4 256.2,218.6 256.4,218.5 256.4,221.8 256.8,221.1 256.8,218.3 257.1,219.1 257.1,221.5 257.4,221.5 257.4,218.9 257.7,218.8 257.7,222.0 258.0,222.0 258.0,219.7 258.3,219.6 258.3,222.4 258.6,222.5 258.6,220.5 258.9,220.5 258.9,222.8 259.2,223.3 259.2,220.8 259.5,220.0 259.5,223.1 259.8,223.8 259.8,220.7 260.0,220.8 260.0,224.0 260.3,224.1 260.3,221.5 260.6,220.3 260.6,223.5 260.9,223.7 260.9,221.9 261.2,221.5 261.2,223.9 261.6,224.0 261.6,222.0 261.9,222.7 261.9,226.1 262.2,225.3 262.2,222.4 262.5,223.1 262.5,224.7 262.7,225.3 262.7,222.6 263.0,222.6 263.0,225.0 263.3,225.3 263.3,222.9 263.6,223.8 263.6,227.3 264.0,226.2 264.0,222.7 264.3,224.2 264.3,225.9 264.6,226.0 264.6,223.9 264.9,224.8 264.9,226.7 265.2,227.1 265.2,224.6 265.5,224.3 265.5,227.1 265.7,227.8 265.7,224.0 266.0,225.0 266.0,228.2 266.4,227.6 266.4,224.7 266.7,225.2 266.7,227.2 266.9,228.4 266.9,225.0 267.2,225.2 267.2,227.9 267.5,228.7 267.5,225.6 267.8,226.0 267.8,228.9 268.1,228.8 268.1,226.4 268.4,226.7 268.4,230.2 268.7,228.7 268.7,226.7 269.1,226.6 269.1,229.4 269.3,229.1 269.3,227.4 269.6,226.4 269.6,229.2 270.0,230.1 270.0,228.1 270.3,227.0 270.3,230.6 270.6,231.2 270.6,228.0 270.9,227.3 270.9,230.3 271.2,230.5 271.2,227.8 271.4,228.8 271.4,231.9 271.8,230.2 271.8,228.3 272.1,228.5 272.1,230.8 272.3,231.3 272.3,228.4 272.6,229.1 272.6,232.0 272.9,231.6 272.9,228.3 273.2,229.0 273.2,231.9 273.5,232.7 273.5,228.6 273.8,229.4 273.8,232.0 274.1,232.2 274.1,229.2 274.4,230.3 274.4,232.7 274.7,232.5 274.7,230.0 275.0,230.4 275.0,233.1 275.4,232.9 275.4,230.1 275.7,229.6 275.7,232.7 275.9,233.1 275.9,230.8 276.2,230.5 276.2,233.9 276.5,234.2 276.5,231.1 276.8,230.5 276.8,233.6 277.2,233.8 277.2,231.5 277.4,230.2 277.4,234.6 277.8,234.4 277.8,231.8 278.1,231.9 278.1,234.3 278.4,234.5 278.4,232.0 278.7,232.0 278.7,235.7 279.0,234.6 279.0,232.4 279.3,231.4 279.3,235.6 279.5,235.4 279.5,233.1 279.9,232.0 279.9,234.5 280.2,235.4 280.2,233.1 280.4,232.0 280.4,236.0 280.7,236.0 280.7,232.9 281.0,233.2 281.0,235.9 281.3,236.2 281.3,233.6 281.6,233.6 281.6,236.9 281.9,237.4 281.9,233.8 282.3,232.9 282.3,236.7 282.6,236.3 282.6,233.3 282.8,234.7 282.8,236.6 283.2,236.6 283.2,234.1 283.5,234.5 283.5,238.0 283.8,238.5 283.8,234.2 284.0,234.7 284.0,238.6 284.3,238.2 284.3,235.6 284.7,234.8 284.7,238.7 285.0,238.5 285.0,235.3 285.3,234.9 285.3,237.7 285.5,238.2 285.5,235.4 285.8,235.4 285.8,238.8 286.2,239.8 286.2,234.5 286.5,235.7 286.5,238.7 286.8,239.5 286.8,236.1 287.0,236.0 287.0,240.4 287.3,239.3 287.3,236.7 287.7,236.3 287.7,239.1 288.0,239.4 288.0,236.2 288.3,236.7 288.3,240.4 288.5,240.0 288.5,236.1 288.8,237.1 288.8,239.7 289.2,240.7 289.2,237.6 289.5,237.4 289.5,240.2 289.8,240.5 289.8,237.2 290.1,236.9 290.1,240.8 290.4,241.4 290.4,237.2 290.6,237.4 290.6,240.7 290.9,240.4 290.9,237.8 291.3,237.7 291.3,241.5 291.6,241.1 291.6,238.5 291.8,237.8 291.8,241.1 292.1,241.7 292.1,238.3 292.4,238.8 292.4,241.5 292.7,241.7 292.7,238.7 293.1,238.3 293.1,241.9 293.4,242.3 293.4,238.6 293.7,239.5 293.7,241.5 293.9,242.6 293.9,237.5 294.2,237.6 294.2,242.3 294.5,243.0 294.5,240.0 294.8,239.3 294.8,243.1 295.1,243.1 295.1,239.5 295.5,239.1 295.5,242.4 295.8,243.3 295.8,239.7 296.1,239.5 296.1,243.5 296.4,243.9 296.4,240.0 296.6,240.2 296.6,243.0 297.0,243.1 297.0,239.9 297.2,240.0 297.2,243.5 297.5,243.7 297.5,239.9 297.9,240.7 297.9,243.7 298.2,243.8 298.2,240.6 298.5,240.5 298.5,243.6 298.8,244.0 298.8,241.1 299.1,240.6 299.1,244.2 299.4,244.8 299.4,240.9 299.6,241.1 299.6,244.2 299.9,244.4 299.9,241.4 300.2,241.0 300.2,244.8 300.5,244.5 300.5,241.6 300.8,240.6 300.8,245.1 301.2,244.6 301.2,241.4 301.4,241.7 301.4,244.8 301.8,245.2 301.8,242.2 302.0,241.4 302.0,245.0 302.4,244.9 302.4,242.3 302.7,241.2 302.7,245.8 303.0,245.5 303.0,242.3 303.3,241.9 303.3,244.8 303.6,245.5 303.6,242.2 303.9,242.4 303.9,245.3 304.2,245.2 304.2,242.5 304.5,242.7 304.5,245.8 304.8,246.6 304.8,242.2 305.1,242.5 305.1,245.6 305.4,245.5 305.4,242.6 305.6,242.6 305.6,246.2 305.9,246.4 305.9,242.7 306.2,243.1 306.2,246.4 306.6,246.8 306.6,242.9 306.8,243.2 306.8,246.5 307.2,246.7 307.2,243.4 307.5,243.4 307.5,247.1 307.7,246.6 307.7,243.3 308.1,243.5 308.1,247.1 308.4,247.0 308.4,243.9 308.6,243.6 308.6,246.9 309.0,247.1 309.0,243.6 309.2,242.8 309.2,248.3 309.5,247.4 309.5,243.7 309.9,244.2 309.9,247.2 310.1,247.4 310.1,244.0 310.4,244.9 310.4,247.9 310.7,247.3 310.7,244.0 311.1,244.3 311.1,248.5 311.3,248.0 311.3,244.1 311.6,244.1 311.6,248.6 311.9,248.3 311.9,244.7 312.2,244.6 312.2,248.1 312.6,248.5 312.6,244.3 312.8,245.2 312.8,248.7 313.1,249.0 313.1,244.9 313.4,244.5 313.4,248.1 313.7,248.5 313.7,245.3 314.1,244.9 314.1,248.4 314.3,248.8 314.3,245.4 314.6,245.0 314.6,248.7 314.9,249.0 314.9,245.1 315.2,245.0 315.2,248.5 315.5,248.9 315.5,244.3 315.8,245.9 315.8,249.2 316.2,248.6 316.2,245.4 316.4,245.5 316.4,249.7 316.7,249.0 316.7,245.8 317.1,246.1 317.1,249.3 317.4,248.8 317.4,245.5 317.7,246.0 317.7,249.1 318.0,249.6 318.0,245.8 318.2,246.3 318.2,249.3 318.5,250.7 318.5,245.6 318.8,246.1 318.8,249.8 319.2,249.5 319.2,245.9 319.5,245.9 319.5,250.1 319.7,250.2 319.7,245.9 320.0,246.0 320.0,249.3 320.3,249.9 320.3,246.7 320.7,246.6 320.7,249.8 320.9,250.2 320.9,246.7 321.2,246.3 321.2,250.2 321.6,250.1 321.6,246.4 321.9,246.4 321.9,249.5 322.1,250.1 322.1,246.7 322.4,246.6 322.4,249.9 322.7,250.1 322.7,247.0 323.1,246.5 323.1,250.4 323.4,250.7 323.4,246.8 323.7,247.2 323.7,250.8 323.9,250.8 323.9,246.8 324.3,247.3 324.3,250.5 324.6,250.7 324.6,246.9 324.9,247.4 324.9,250.7 325.2,251.4 325.2,247.2 325.5,247.5 325.5,251.2 325.8,251.2 325.8,247.4 326.1,247.3 326.1,250.7 326.4,251.0 326.4,247.2 326.7,246.8 326.7,251.5 326.9,252.0 326.9,247.5 327.3,247.2 327.3,251.3 327.6,251.5 327.6,247.5 327.8,247.8 327.8,251.0 328.2,251.3 328.2,248.0 328.5,247.7 328.5,251.8 328.8,252.2 328.8,247.3 329.0,248.0 329.0,252.0 329.4,251.5 329.4,247.4 329.7,247.6 329.7,251.3 330.0,251.6 330.0,247.6 330.3,248.0 330.3,251.5 330.5,252.1 330.5,247.6 330.8,247.9 330.8,251.5 331.2,252.1 331.2,247.3 331.5,248.1 331.5,252.2 331.8,251.7 331.8,247.8 332.1,248.2 332.1,251.9 332.4,252.3 332.4,248.1 332.6,248.1 332.6,253.4 332.9,252.2 332.9,248.3 333.2,248.0 333.2,252.3 333.5,252.0 333.5,248.6 333.8,247.9 333.8,251.8 334.1,252.0 334.1,248.3 334.5,248.7 334.5,252.3 334.8,252.3 334.8,248.3 335.1,248.5 335.1,252.1 335.3,252.4 335.3,248.9 335.6,248.4 335.6,252.0 336.0,252.2 336.0,248.6 336.3,248.2 336.3,252.1 336.5,252.2 336.5,248.3 336.9,248.3 336.9,252.6 337.2,251.8 337.2,248.6 337.5,248.6 337.5,252.3 337.7,252.4 337.7,249.1 338.0,248.9 338.0,252.4 338.4,252.4 338.4,248.8 338.6,248.8 338.6,252.9 338.9,253.1 338.9,248.6 339.3,248.7 339.3,252.7 339.6,252.8 339.6,249.1 339.8,249.0 339.8,252.7 340.2,253.5 340.2,248.9 340.5,249.2 340.5,252.6 340.7,253.1 340.7,248.7 341.0,249.0 341.0,252.5 341.3,253.0 341.3,249.0 341.7,249.2 341.7,252.8 342.0,253.2 342.0,248.5 342.3,248.6 342.3,253.2 342.6,253.2 342.6,249.3 342.9,248.1 342.9,252.6 343.2,253.0 343.2,249.2 343.5,248.9 343.5,253.4 343.7,253.5 343.7,248.8 344.0,249.4 344.0,253.4 344.4,253.2 344.4,249.4 344.7,249.7 344.7,252.9 344.9,253.0 344.9,248.8 345.3,249.5 345.3,253.5 345.6,253.2 345.6,249.3 345.8,249.6 345.8,253.5" fill="none" stroke="#a0665a" stroke-width="1.0" stroke-linejoin="round"/>
<path d="M51.1,32.9 56.9,35.8 61.9,38.6 66.4,40.6 70.3,42.9 73.9,45.9 77.2,49.2 80.2,49.7 83.0,52.2 85.6,52.7 88.0,55.1 90.3,56.8 92.4,57.9 94.5,59.1 96.4,62.3 98.2,62.6 100.0,65.0 101.6,65.6 103.2,68.6 104.8,68.7 106.3,69.1 107.7,71.0 109.0,73.3 110.4,74.1 111.6,75.8 112.9,76.2 114.1,76.2 115.2,78.3 116.3,79.9 117.4,80.1 118.5,81.2 119.5,81.8 120.5,84.2 121.5,84.0 122.5,84.9 123.4,85.3 124.3,85.8 125.2,87.5 126.0,89.0 126.9,90.0 127.7,90.3 128.5,91.9 129.3,91.8 130.1,92.5 130.8,93.4 131.6,94.9 132.3,96.1 133.0,96.1 133.7,96.7 134.4,97.7 135.1,98.4 135.8,99.1 136.4,100.1 137.1,100.6 137.7,100.6 138.3,101.7 138.9,102.7 139.5,102.6 140.1,102.6 140.7,104.5 141.3,104.6 141.9,105.8 142.4,105.4 143.0,107.1 143.5,105.9 144.0,108.1 144.6,106.8 145.1,108.9 145.6,108.7 146.1,109.9 146.6,109.5 147.1,110.8 147.6,111.3 148.1,111.3 148.5,112.2 149.0,112.1 149.5,112.9 149.9,115.1 150.4,114.5 150.8,113.8 151.2,115.5 151.7,116.4 152.1,116.1 152.5,116.4 153.0,117.6 153.4,118.6 153.8,117.9 154.2,119.7 154.6,119.1 155.0,119.2 155.4,120.4 155.8,119.3 156.2,119.9 156.5,121.2 156.9,121.8 157.3,122.6 157.7,122.1 158.0,122.8 158.4,122.7 158.8,123.8 159.1,124.4 159.5,125.4 159.8,124.8 160.2,126.0 160.5,124.5 160.8,125.6 161.2,125.7 161.5,127.4 161.8,126.9 162.2,127.7 162.5,127.8 162.8,127.6 163.1,127.2 163.5,129.0 163.8,129.5 164.1,129.1 164.4,131.2 164.7,130.6 165.0,131.2 165.3,130.9 165.6,131.8 165.9,130.8 166.2,132.5 166.5,132.6 166.8,133.0 167.1,133.5 167.4,133.3 167.6,132.5 167.9,133.4 168.2,133.5 168.5,134.1 168.8,135.3 169.0,135.3 169.4,133.9 169.4,134.7 169.8,135.7 170.1,136.6 170.4,136.4 170.6,136.9 170.9,136.9 171.2,137.1 171.5,138.5 171.5,137.7 171.9,136.8 172.2,138.2 172.4,138.9 172.7,139.8 173.0,139.1 173.0,139.6 173.4,140.0 173.6,140.3 173.9,141.1 174.2,141.3 174.2,140.4 174.6,141.4 174.8,140.8 175.2,141.6 175.2,141.8 175.5,142.6 175.8,142.0 176.0,144.1 176.3,144.1 176.3,142.6 176.7,143.4 177.0,143.4 177.0,144.0 177.3,144.8 177.5,144.0 177.9,145.4 177.9,144.8 178.2,145.6 178.4,145.8 178.7,145.1 178.7,145.2 179.0,146.1 179.3,146.9 179.3,145.9 179.6,146.8 180.0,147.0 180.0,147.6 180.3,147.4 180.6,148.6 180.6,147.1 180.9,149.1 181.2,148.6 181.2,150.3 181.5,150.0 181.7,149.6 181.7,148.8 182.0,149.4 182.3,148.9 182.3,149.8 182.6,150.6 182.9,150.4 182.9,150.1 183.3,150.9 183.3,151.3 183.5,152.1 183.8,151.5 183.8,150.0 184.2,150.5 184.2,151.9 184.5,152.1 184.7,153.2 184.7,152.0 185.1,151.4 185.1,152.6 185.4,154.1 185.6,155.5 185.6,153.9 186.0,153.7 186.0,153.9 186.2,154.8 186.5,154.9 186.5,154.1 186.8,155.1 186.8,155.7 187.2,155.7 187.2,154.7 187.5,156.5 187.5,156.7 187.8,154.9 188.0,156.7 188.0,156.2 188.3,155.5 188.3,156.2 188.7,156.6 188.7,156.6 189.0,158.0 189.0,159.2 189.3,158.1 189.3,157.4 189.6,158.4 189.6,159.1 189.8,159.0 190.1,159.3 190.1,158.7 190.4,159.4 190.4,160.3 190.7,160.6 190.7,159.9 191.0,159.2 191.0,159.4 191.3,161.6 191.3,159.4 191.6,160.3 191.6,160.4 191.9,161.8 191.9,160.3 192.2,160.5 192.2,162.4 192.5,161.6 192.5,161.2 192.8,161.9 192.8,162.5 193.1,162.1 193.1,161.1 193.5,162.3 193.5,162.9 193.8,162.6 193.8,162.4 194.1,161.5 194.1,163.6 194.3,163.3 194.3,163.3 194.6,163.3 194.6,164.9 194.9,163.5 194.9,163.1 195.2,162.5 195.2,164.9 195.6,164.5 195.6,164.4 195.8,164.7 195.8,164.8 196.1,165.3 196.1,165.1 196.4,165.4 196.4,166.2 196.8,165.3 196.8,164.3 197.0,166.4 197.0,166.4 197.4,167.1 197.4,165.8 197.7,166.4 197.7,167.4 197.9,167.7 197.9,164.2 198.2,166.5 198.2,167.3 198.6,168.2 198.6,167.2 198.9,168.2 198.9,168.5 199.2,168.1 199.2,167.9 199.5,168.1 199.5,169.6 199.8,170.0 199.8,167.6 200.1,167.9 200.1,170.8 200.4,170.2 200.4,169.8 200.7,169.5 200.7,170.7 201.0,170.7 201.0,170.1 201.3,169.9 201.3,171.5 201.5,171.1 201.5,169.7 201.8,169.6 201.8,173.2 202.2,172.2 202.2,170.3 202.4,170.9 202.4,172.6 202.7,172.8 202.7,171.9 203.1,172.8 203.1,174.5 203.4,173.1 203.4,172.3 203.7,171.9 203.7,172.3 203.9,173.6 203.9,172.7 204.3,173.2 204.3,173.6 204.6,173.9 204.6,173.2 204.9,173.0 204.9,174.2 205.1,174.6 205.1,173.6 205.4,174.5 205.4,175.5 205.7,175.2 205.7,173.9 206.0,174.2 206.0,176.3 206.3,176.2 206.3,174.6 206.6,174.6 206.6,176.1 206.9,176.5 206.9,175.6 207.2,175.3 207.2,177.6 207.5,176.2 207.5,176.1 207.8,176.7 207.8,177.3 208.1,179.4 208.1,176.0 208.4,177.2 208.4,178.8 208.8,180.9 208.8,177.1 209.1,177.9 209.1,179.8 209.3,179.9 209.3,178.5 209.6,178.2 209.6,179.1 209.9,180.0 209.9,179.1 210.3,179.1 210.3,180.0 210.5,180.9 210.5,178.7 210.9,179.1 210.9,181.3 211.2,181.5 211.2,180.6 211.4,179.4 211.4,180.8 211.7,180.7 211.7,179.1 212.0,180.9 212.0,182.4 212.3,182.3 212.3,180.7 212.6,180.2 212.6,182.2 212.9,182.8 212.9,181.7 213.2,181.7 213.2,183.5 213.5,182.5 213.5,181.7 213.9,182.7 213.9,183.6 214.2,183.6 214.2,182.8 214.4,183.6 214.4,184.4 214.8,185.0 214.8,183.5 215.0,184.3 215.0,184.5 215.3,184.8 215.3,183.9 215.6,184.3 215.6,184.7 216.0,185.6 216.0,184.6 216.3,184.5 216.3,187.2 216.6,186.1 216.6,184.9 216.9,186.0 216.9,186.6 217.2,186.4 217.2,186.1 217.4,185.9 217.4,187.1 217.7,187.9 217.7,186.7 218.0,186.1 218.0,187.6 218.4,187.7 218.4,186.6 218.7,186.9 218.7,187.6 219.0,189.2 219.0,187.8 219.3,188.2 219.3,189.5 219.5,189.7 219.5,187.5 219.9,187.4 219.9,189.3 220.2,188.8 220.2,187.3 220.5,188.6 220.5,189.3 220.7,189.7 220.7,189.0 221.0,188.9 221.0,190.9 221.3,190.0 221.3,189.4 221.6,189.6 221.6,192.2 221.9,191.1 221.9,190.2 222.2,189.2 222.2,191.6 222.5,192.6 222.5,190.9 222.8,190.6 222.8,192.5 223.2,192.8 223.2,191.0 223.5,190.8 223.5,193.8 223.7,193.8 223.7,192.0 224.1,192.2 224.1,193.1 224.4,193.4 224.4,191.8 224.7,192.3 224.7,194.0 224.9,194.8 224.9,192.8 225.2,192.9 225.2,196.3 225.5,194.8 225.5,193.8 225.8,193.2 225.8,195.3 226.1,196.1 226.1,193.8 226.4,193.3 226.4,195.2 226.7,195.8 226.7,194.7 227.0,194.8 227.0,195.9 227.3,195.6 227.3,194.0 227.7,194.2 227.7,196.8 228.0,196.4 228.0,195.5 228.2,196.3 228.2,196.8 228.5,197.7 228.5,195.2 228.9,195.9 228.9,197.8 229.2,198.7 229.2,196.5 229.5,196.1 229.5,198.3 229.8,199.8 229.8,196.9 230.1,197.1 230.1,198.3 230.3,199.4 230.3,196.8 230.6,197.3 230.6,199.7 230.9,200.5 230.9,198.2 231.2,197.9 231.2,200.0 231.6,200.6 231.6,198.1 231.9,198.7 231.9,200.5 232.1,201.7 232.1,199.4 232.4,199.5 232.4,200.7 232.7,201.9 232.7,198.8 233.0,199.5 233.0,201.4 233.3,201.6 233.3,198.7 233.7,199.9 233.7,201.2 234.0,203.3 234.0,199.8 234.3,200.7 234.3,203.5 234.5,202.8 234.5,201.3 234.8,201.0 234.8,203.1 235.2,202.7 235.2,201.1 235.5,201.8 235.5,203.4 235.8,203.3 235.8,201.3 236.1,202.2 236.1,203.3 236.4,204.7 236.4,202.5 236.7,202.7 236.7,205.5 236.9,204.6 236.9,203.0 237.2,203.9 237.2,205.6 237.5,205.8 237.5,202.6 237.9,204.3 237.9,205.8 238.2,206.7 238.2,204.8 238.5,204.2 238.5,205.6 238.8,206.4 238.8,204.6 239.1,204.6 239.1,207.2 239.4,206.8 239.4,205.1 239.6,205.3 239.6,207.3 239.9,207.0 239.9,205.4 240.2,205.4 240.2,207.8 240.6,207.9 240.6,205.6 240.9,206.8 240.9,208.5 241.2,208.5 241.2,206.0 241.5,207.8 241.5,209.8 241.8,208.9 241.8,205.9 242.0,207.0 242.0,209.5 242.4,209.5 242.4,206.8 242.6,207.9 242.6,209.4 242.9,209.7 242.9,207.0 243.2,207.6 243.2,210.9 243.5,210.7 243.5,208.3 243.8,208.4 243.8,210.3 244.1,211.5 244.1,208.2 244.5,209.4 244.5,211.8 244.8,211.2 244.8,209.6 245.1,209.4 245.1,213.8 245.3,212.3 245.3,209.4 245.6,210.5 245.6,212.5 245.9,212.5 245.9,209.9 246.2,210.7 246.2,213.2 246.6,213.2 246.6,210.9 246.9,211.4 246.9,212.7 247.1,213.5 247.1,211.1 247.4,211.2 247.4,213.5 247.8,214.0 247.8,212.0 248.1,212.0 248.1,215.4 248.4,214.2 248.4,212.0 248.6,211.6 248.6,214.7 248.9,214.7 248.9,212.4 249.3,212.2 249.3,215.0 249.6,215.5 249.6,213.5 249.8,213.7 249.8,215.3 250.1,215.9 250.1,213.1 250.4,212.9 250.4,215.9 250.7,216.3 250.7,213.9 251.0,213.4 251.0,217.0 251.4,217.7 251.4,214.5 251.7,214.1 251.7,217.2 252.0,216.4 252.0,214.6 252.3,215.1 252.3,217.2 252.6,218.1 252.6,215.3 252.9,215.2 252.9,218.1 253.1,218.6 253.1,215.5 253.4,216.1 253.4,218.2 253.8,219.8 253.8,216.1 254.1,216.8 254.1,218.8 254.3,218.9 254.3,216.6 254.6,216.3 254.6,219.8 255.0,219.4 255.0,217.5 255.3,217.2 255.3,220.5 255.6,220.9 255.6,218.0 255.9,216.9 255.9,221.0 256.2,221.7 256.2,218.0 256.4,218.2 256.4,220.9 256.8,221.5 256.8,218.9 257.1,218.2 257.1,222.1 257.4,222.1 257.4,218.5 257.7,218.8 257.7,221.9 258.0,221.9 258.0,219.7 258.3,219.6 258.3,221.6 258.6,222.5 258.6,219.1 258.9,219.5 258.9,221.4 259.2,222.9 259.2,220.2 259.5,220.1 259.5,223.0 259.8,223.0 259.8,219.6 260.0,221.1 260.0,222.8 260.3,223.8 260.3,220.1 260.6,221.2 260.6,223.7 260.9,224.5 260.9,221.3 261.2,219.3 261.2,224.2 261.6,224.0 261.6,221.3 261.9,221.4 261.9,224.6 262.2,224.1 262.2,222.2 262.5,221.9 262.5,224.5 262.7,225.3 262.7,223.0 263.0,222.5 263.0,226.3 263.3,225.8 263.3,222.7 263.6,223.3 263.6,225.5 264.0,225.3 264.0,223.4 264.3,223.6 264.3,226.5 264.6,226.3 264.6,223.4 264.9,224.2 264.9,225.9 265.2,225.8 265.2,224.0 265.5,224.5 265.5,227.0 265.7,227.6 265.7,224.7 266.0,224.6 266.0,227.1 266.4,227.6 266.4,224.5 266.7,225.8 266.7,228.5 266.9,227.8 266.9,224.6 267.2,225.2 267.2,228.5 267.5,228.3 267.5,225.3 267.8,224.8 267.8,228.5 268.1,228.6 268.1,226.0 268.4,226.2 268.4,229.2 268.7,229.0 268.7,226.7 269.1,226.6 269.1,229.4 269.3,229.8 269.3,226.8 269.6,226.8 269.6,229.5 270.0,229.1 270.0,227.1 270.3,227.7 270.3,230.0 270.6,230.2 270.6,227.7 270.9,227.2 270.9,230.2 271.2,230.0 271.2,227.0 271.4,227.8 271.4,230.3 271.8,230.3 271.8,228.2 272.1,228.0 272.1,230.8 272.3,231.0 272.3,228.5 272.6,228.1 272.6,231.4 272.9,230.9 272.9,229.3 273.2,229.1 273.2,232.2 273.5,232.5 273.5,229.0 273.8,229.0 273.8,231.7 274.1,231.9 274.1,229.0 274.4,229.6 274.4,231.5 274.7,232.6 274.7,229.8 275.0,229.4 275.0,232.4 275.4,232.1 275.4,230.1 275.7,230.5 275.7,233.1 275.9,233.0 275.9,230.5 276.2,230.6 276.2,233.1 276.5,232.6 276.5,229.9 276.8,230.6 276.8,233.6 277.2,234.3 277.2,229.6 277.4,231.1 277.4,233.9 277.8,233.9 277.8,231.0 278.1,230.8 278.1,234.4 278.4,235.0 278.4,231.7 278.7,232.0 278.7,235.2 279.0,235.2 279.0,231.2 279.3,231.4 279.3,235.7 279.5,235.4 279.5,232.2 279.9,233.1 279.9,234.9 280.2,235.0 280.2,232.5 280.4,232.7 280.4,235.6 280.7,235.3 280.7,232.1 281.0,233.2 281.0,236.7 281.3,236.5 281.3,233.2 281.6,233.5 281.6,236.1 281.9,237.1 281.9,233.1 282.3,233.5 282.3,236.0 282.6,236.6 282.6,234.1 282.8,234.1 282.8,237.4 283.2,236.6 283.2,234.3 283.5,233.3 283.5,237.5 283.8,236.9 283.8,234.2 284.0,234.2 284.0,237.1 284.3,237.4 284.3,234.5 284.7,234.5 284.7,237.7 285.0,237.3 285.0,234.7 285.3,235.3 285.3,238.3 285.5,238.7 285.5,234.8 285.8,235.9 285.8,238.3 286.2,238.7 286.2,235.5 286.5,235.9 286.5,238.2 286.8,238.9 286.8,234.9 287.0,236.1 287.0,238.7 287.3,239.2 287.3,235.9 287.7,235.7 287.7,239.2 288.0,239.1 288.0,236.4 288.3,237.2 288.3,239.3 288.5,240.0 288.5,236.7 288.8,236.6 288.8,239.5 289.2,239.7 289.2,237.0 289.5,236.8 289.5,239.9 289.8,241.2 289.8,237.1 290.1,237.2 290.1,240.4 290.4,239.9 290.4,237.2 290.6,237.5 290.6,240.8 290.9,240.6 290.9,236.9 291.3,236.6 291.3,240.9 291.6,241.4 291.6,238.1 291.8,237.9 291.8,240.7 292.1,241.3 292.1,238.2 292.4,238.6 292.4,241.6 292.7,241.6 292.7,238.3 293.1,237.8 293.1,241.0 293.4,241.5 293.4,238.7 293.7,238.3 293.7,241.3 293.9,241.7 293.9,238.8 294.2,238.3 294.2,242.2 294.5,242.0 294.5,238.8 294.8,238.4 294.8,242.0 295.1,242.2 295.1,239.5 295.5,239.2 295.5,242.6 295.8,242.3 295.8,239.7 296.1,238.7 296.1,242.8 296.4,242.6 296.4,239.5 296.6,239.4 296.6,243.3 297.0,243.6 297.0,240.3 297.2,239.6 297.2,242.7 297.5,244.1 297.5,240.1 297.9,239.9 297.9,243.6 298.2,243.8 298.2,240.7 298.5,240.5 298.5,244.3 298.8,243.1 298.8,240.9 299.1,240.8 299.1,243.6 299.4,243.4 299.4,241.1 299.6,239.6 299.6,244.3 299.9,244.0 299.9,241.1 300.2,241.3 300.2,243.6 300.5,244.3 300.5,241.1 300.8,241.6 300.8,244.7 301.2,244.6 301.2,241.4 301.4,241.1 301.4,245.0 301.8,244.7 301.8,241.2 302.0,241.5 302.0,246.1 302.4,245.0 302.4,241.3 302.7,240.9 302.7,244.9 303.0,245.5 303.0,241.8 303.3,241.0 303.3,245.1 303.6,245.7 303.6,241.5 303.9,241.5 303.9,245.5 304.2,245.4 304.2,242.6 304.5,241.9 304.5,245.2 304.8,245.8 304.8,242.4 305.1,241.9 305.1,245.3 305.4,245.4 305.4,242.9 305.6,243.3 305.6,246.1 305.9,246.2 305.9,242.2 306.2,242.3 306.2,246.1 306.6,247.5 306.6,243.0 306.8,242.8 306.8,246.9 307.2,246.9 307.2,243.1 307.5,243.8 307.5,247.2 307.7,247.2 307.7,242.8 308.1,243.1 308.1,247.7 308.4,248.0 308.4,243.9 308.6,243.1 308.6,246.7 309.0,247.1 309.0,243.6 309.2,243.5 309.2,248.5 309.5,247.9 309.5,243.8 309.9,243.9 309.9,247.7 310.1,247.5 310.1,243.9 310.4,244.2 310.4,247.8 310.7,247.7 310.7,243.7 311.1,244.3 311.1,247.2 311.3,247.6 311.3,244.7 311.6,244.5 311.6,248.4 311.9,247.7 311.9,244.0 312.2,244.5 312.2,248.0 312.6,248.1 312.6,245.2 312.8,244.5 312.8,247.8 313.1,248.8 313.1,245.1 313.4,244.9 313.4,248.3 313.7,249.2 313.7,244.6 314.1,245.0 314.1,248.6 314.3,249.2 314.3,245.0 314.6,245.4 314.6,248.2 314.9,248.5 314.9,244.8 315.2,244.8 315.2,248.7 315.5,248.5 315.5,245.2 315.8,244.8 315.8,248.7 316.2,249.1 316.2,245.3 316.4,245.1 316.4,249.1 316.7,249.0 316.7,246.0 317.1,245.3 317.1,249.5 317.4,249.5 317.4,246.1 317.7,246.1 317.7,249.3 318.0,249.2 318.0,245.6 318.2,246.2 318.2,248.8 318.5,249.4 318.5,246.1 318.8,245.8 318.8,249.4 319.2,249.7 319.2,245.2 319.5,245.9 319.5,250.0 319.7,250.2 319.7,246.3 320.0,246.3 320.0,249.4 320.3,249.9 320.3,246.1 320.7,246.4 320.7,250.1 320.9,249.9 320.9,246.1 321.2,246.2 321.2,249.8 321.6,250.7 321.6,246.7 321.9,246.6 321.9,250.4 322.1,250.3 322.1,246.2 322.4,246.9 322.4,250.1 322.7,251.5 322.7,246.9 323.1,246.8 323.1,250.1 323.4,250.6 323.4,246.5 323.7,246.5 323.7,251.1 323.9,250.4 323.9,246.9 324.3,246.7 324.3,250.9 324.6,250.5 324.6,247.0 324.9,247.2 324.9,250.0 325.2,250.4 325.2,246.4 325.5,246.6 325.5,250.3 325.8,250.6 325.8,247.5 326.1,246.9 326.1,250.9 326.4,250.8 326.4,247.5 326.7,247.5 326.7,251.6 326.9,251.9 326.9,247.8 327.3,247.5 327.3,251.4 327.6,251.4 327.6,247.7 327.8,247.7 327.8,251.2 328.2,251.2 328.2,248.1 328.5,247.7 328.5,251.5 328.8,251.3 328.8,247.9 329.0,248.1 329.0,251.6 329.4,251.5 329.4,247.3 329.7,247.6 329.7,252.0 330.0,252.1 330.0,248.3 330.3,247.9 330.3,251.7 330.5,251.6 330.5,247.3 330.8,247.8 330.8,251.8 331.2,251.5 331.2,248.1 331.5,248.6 331.5,252.6 331.8,252.1 331.8,248.7 332.1,248.1 332.1,251.7 332.4,251.8 332.4,248.3 332.6,248.1 332.6,251.4 332.9,251.7 332.9,248.0 333.2,248.4 333.2,251.5 333.5,252.4 333.5,248.8 333.8,248.7 333.8,251.9 334.1,252.0 334.1,248.3 334.5,248.8 334.5,252.2 334.8,252.5 334.8,248.2 335.1,249.0 335.1,251.9 335.3,252.2 335.3,248.8 335.6,248.4 335.6,251.8 336.0,252.3 336.0,247.8 336.3,248.4 336.3,252.1 336.5,252.6 336.5,248.8 336.9,248.5 336.9,252.3 337.2,252.5 337.2,248.5 337.5,248.8 337.5,252.5 337.7,252.0 337.7,248.0 338.0,248.8 338.0,252.4 338.4,252.9 338.4,249.1 338.6,248.8 338.6,253.1 338.9,252.6 338.9,248.6 339.3,248.7 339.3,252.5 339.6,252.8 339.6,248.9 339.8,249.1 339.8,253.3 340.2,252.7 340.2,248.9 340.5,249.2 340.5,253.3 340.7,252.9 340.7,248.8 341.0,248.7 341.0,252.8 341.3,253.0 341.3,248.6 341.7,248.8 341.7,252.9 342.0,253.4 342.0,248.2 342.3,249.3 342.3,253.2 342.6,252.4 342.6,248.7 342.9,249.0 342.9,252.7 343.2,252.8 343.2,249.7 343.5,249.1 343.5,253.2 343.7,253.2 343.7,248.6 344.0,248.5 344.0,252.9 344.4,252.7 344.4,249.1 344.7,248.8 344.7,254.0 344.9,253.2 344.9,248.9 345.3,249.0 345.3,253.1 345.6,253.2 345.6,249.3 345.8,249.8 345.8,252.4" fill="none" stroke="#008000" stroke-width="1.0" stroke-linejoin="round"/>
<path d="M51.1,32.2 56.9,34.3 61.9,37.3 66.4,39.7 70.3,41.0 73.9,45.1 77.2,47.5 80.2,48.8 83.0,50.9 85.6,51.6 88.0,54.7 90.3,56.1 92.4,56.5 94.5,57.6 96.4,60.7 98.2,61.7 100.0,64.0 101.6,64.2 103.2,68.0 104.8,67.8 106.3,68.0 107.7,69.7 109.0,72.3 110.4,72.8 111.6,74.7 112.9,74.8 114.1,75.0 115.2,77.5 116.3,78.8 117.4,78.3 118.5,80.3 119.5,80.7 120.5,82.3 121.5,83.0 122.5,83.3 123.4,85.0 124.3,85.3 125.2,86.5 126.0,87.6 126.9,89.0 127.7,89.3 128.5,90.8 129.3,90.5 130.1,91.6 130.8,92.6 131.6,93.8 132.3,96.0 133.0,95.4 133.7,96.1 134.4,97.1 135.1,98.0 135.8,97.8 136.4,97.6 137.1,99.0 137.7,99.7 138.3,99.5 138.9,100.8 139.5,101.2 140.1,102.7 140.7,103.4 141.3,103.8 141.9,104.4 142.4,104.2 143.0,105.6 143.5,105.4 144.0,106.6 144.6,107.5 145.1,109.0 145.6,107.9 146.1,107.8 146.6,109.2 147.1,108.9 147.6,109.5 148.1,110.5 148.5,111.5 149.0,111.7 149.5,111.7 149.9,113.3 150.4,113.0 150.8,113.5 151.2,113.8 151.7,116.0 152.1,115.2 152.5,115.8 153.0,115.8 153.4,118.4 153.8,117.6 154.2,117.6 154.6,117.8 155.0,118.2 155.4,118.3 155.8,120.1 156.2,119.7 156.5,119.8 156.9,120.0 157.3,122.1 157.7,121.5 158.0,122.0 158.4,121.7 158.8,123.9 159.1,123.8 159.5,123.8 159.8,123.3 160.2,124.2 160.5,124.4 160.8,124.8 161.2,124.6 161.5,125.3 161.8,126.2 162.2,127.1 162.5,127.2 162.8,127.3 163.1,126.4 163.5,128.1 163.8,128.8 164.1,129.1 164.4,130.1 164.7,129.5 165.0,129.5 165.3,130.5 165.6,130.2 165.9,131.1 166.2,130.9 166.5,130.5 166.8,131.7 167.1,131.8 167.4,131.9 167.6,132.2 167.9,132.2 168.2,133.0 168.5,133.3 168.8,134.7 169.0,133.5 169.4,134.1 169.4,135.6 169.8,133.8 170.1,136.2 170.4,135.6 170.6,136.3 170.9,135.2 171.2,136.9 171.5,137.6 171.5,136.9 171.9,136.3 172.2,138.1 172.4,139.2 172.7,138.3 173.0,138.3 173.0,139.0 173.4,140.0 173.6,139.1 173.9,140.7 174.2,140.1 174.2,140.0 174.6,140.1 174.8,139.9 175.2,141.3 175.2,141.6 175.5,141.5 175.8,140.6 176.0,142.7 176.3,143.4 176.3,143.2 176.7,142.7 177.0,142.4 177.0,144.2 177.3,144.0 177.5,143.8 177.9,145.3 177.9,144.1 178.2,144.0 178.4,145.0 178.7,145.2 178.7,146.8 179.0,145.4 179.3,145.6 179.3,144.8 179.6,145.8 180.0,145.6 180.0,147.6 180.3,148.1 180.6,147.3 180.6,147.1 180.9,147.6 181.2,147.0 181.2,148.1 181.5,149.2 181.7,148.1 181.7,147.2 182.0,147.8 182.3,149.4 182.3,149.7 182.6,151.2 182.9,150.9 182.9,148.7 183.3,150.0 183.3,150.3 183.5,150.6 183.8,151.2 183.8,150.6 184.2,151.9 184.2,152.0 184.5,150.1 184.7,152.3 184.7,151.4 185.1,151.4 185.1,151.4 185.4,152.0 185.6,153.2 185.6,153.1 186.0,152.6 186.0,153.9 186.2,152.2 186.5,155.4 186.5,153.8 186.8,154.0 186.8,155.3 187.2,155.1 187.2,154.5 187.5,154.1 187.5,155.2 187.8,155.0 188.0,155.4 188.0,155.1 188.3,155.3 188.3,155.5 188.7,156.8 188.7,156.1 189.0,156.9 189.0,156.9 189.3,158.0 189.3,156.2 189.6,157.2 189.6,158.8 189.8,157.5 190.1,158.1 190.1,157.3 190.4,158.2 190.4,158.2 190.7,158.7 190.7,158.2 191.0,158.5 191.0,159.5 191.3,158.5 191.3,158.4 191.6,159.6 191.6,160.5 191.9,161.0 191.9,160.0 192.2,159.2 192.2,160.3 192.5,161.6 192.5,160.5 192.8,162.1 192.8,162.5 193.1,161.6 193.1,160.9 193.5,161.3 193.5,162.6 193.8,162.0 193.8,161.7 194.1,161.1 194.1,161.2 194.3,163.6 194.3,162.1 194.6,162.0 194.6,162.6 194.9,162.2 194.9,162.1 195.2,162.9 195.2,165.1 195.6,164.7 195.6,164.4 195.8,163.8 195.8,165.1 196.1,163.7 196.1,163.5 196.4,163.9 196.4,165.7 196.8,165.9 196.8,164.7 197.0,163.7 197.0,165.8 197.4,166.1 197.4,164.5 197.7,164.9 197.7,165.9 197.9,167.2 197.9,166.3 198.2,166.3 198.2,167.5 198.6,166.8 198.6,166.7 198.9,165.8 198.9,168.3 199.2,167.3 199.2,166.7 199.5,167.6 199.5,169.7 199.8,168.5 199.8,168.2 200.1,167.2 200.1,168.9 200.4,169.1 200.4,168.4 200.7,168.5 200.7,169.2 201.0,169.6 201.0,168.8 201.3,169.0 201.3,170.0 201.5,170.6 201.5,170.0 201.8,170.1 201.8,171.1 202.2,171.7 202.2,170.8 202.4,170.4 202.4,170.7 202.7,172.5 202.7,171.0 203.1,171.8 203.1,172.8 203.4,172.9 203.4,172.0 203.7,171.3 203.7,172.6 203.9,172.8 203.9,172.2 204.3,172.7 204.3,173.5 204.6,174.7 204.6,172.2 204.9,173.3 204.9,174.0 205.1,174.9 205.1,173.4 205.4,172.7 205.4,175.8 205.7,174.5 205.7,173.4 206.0,174.7 206.0,175.8 206.3,175.2 206.3,174.2 206.6,175.4 206.6,175.8 206.9,176.1 206.9,174.4 207.2,175.1 207.2,176.5 207.5,176.3 207.5,174.9 207.8,176.2 207.8,177.7 208.1,177.2 208.1,176.4 208.4,177.2 208.4,178.5 208.8,178.8 208.8,176.8 209.1,176.4 209.1,177.4 209.3,178.5 209.3,177.0 209.6,177.6 209.6,179.4 209.9,179.5 209.9,178.3 210.3,178.6 210.3,179.8 210.5,180.7 210.5,178.8 210.9,178.3 210.9,180.1 211.2,181.9 211.2,180.2 211.4,179.2 211.4,181.0 211.7,181.5 211.7,179.6 212.0,179.2 212.0,181.1 212.3,181.5 212.3,180.7 212.6,181.0 212.6,181.4 212.9,182.5 212.9,180.8 213.2,181.4 213.2,182.3 213.5,182.7 213.5,181.2 213.9,181.5 213.9,184.4 214.2,183.9 214.2,181.8 214.4,182.4 214.4,183.8 214.8,184.5 214.8,181.7 215.0,182.6 215.0,184.1 215.3,185.4 215.3,183.1 215.6,183.9 215.6,185.2 216.0,185.9 216.0,184.3 216.3,183.5 216.3,185.7 216.6,186.6 216.6,185.7 216.9,185.0 216.9,186.6 217.2,187.7 217.2,185.2 217.4,184.2 217.4,186.9 217.7,187.6 217.7,186.1 218.0,186.0 218.0,187.6 218.4,188.0 218.4,186.1 218.7,186.0 218.7,187.7 219.0,188.0 219.0,187.3 219.3,186.7 219.3,188.5 219.5,189.5 219.5,187.7 219.9,186.6 219.9,188.7 220.2,189.2 220.2,187.9 220.5,187.7 220.5,189.8 220.7,190.1 220.7,188.7 221.0,187.7 221.0,188.7 221.3,189.9 221.3,188.3 221.6,189.7 221.6,190.9 221.9,191.2 221.9,189.0 222.2,189.9 222.2,191.2 222.5,191.4 222.5,190.1 222.8,190.3 222.8,192.5 223.2,192.2 223.2,190.7 223.5,191.6 223.5,191.8 223.7,192.3 223.7,190.0 224.1,192.1 224.1,192.9 224.4,193.6 224.4,191.9 224.7,191.9 224.7,192.9 224.9,193.6 224.9,192.3 225.2,192.8 225.2,194.2 225.5,193.9 225.5,192.1 225.8,193.4 225.8,195.0 226.1,194.8 226.1,193.7 226.4,193.2 226.4,196.1 226.7,195.8 226.7,193.3 227.0,193.3 227.0,195.8 227.3,196.8 227.3,194.3 227.7,194.3 227.7,196.6 228.0,196.0 228.0,194.4 228.2,194.7 228.2,196.5 228.5,197.0 228.5,195.8 228.9,195.2 228.9,196.9 229.2,197.8 229.2,194.9 229.5,195.6 229.5,196.8 229.8,198.2 229.8,196.3 230.1,197.2 230.1,197.8 230.3,198.8 230.3,196.5 230.6,197.5 230.6,199.3 230.9,198.8 230.9,197.2 231.2,197.4 231.2,200.6 231.6,200.1 231.6,198.4 231.9,198.2 231.9,199.5 232.1,201.0 232.1,198.9 232.4,198.7 232.4,200.7 232.7,200.7 232.7,199.5 233.0,199.2 233.0,201.3 233.3,202.0 233.3,199.1 233.7,200.4 233.7,200.7 234.0,201.9 234.0,200.5 234.3,200.4 234.3,202.3 234.5,202.7 234.5,200.5 234.8,201.1 234.8,203.1 235.2,203.0 235.2,201.6 235.5,201.7 235.5,203.4 235.8,203.6 235.8,201.8 236.1,201.4 236.1,203.0 236.4,203.7 236.4,202.3 236.7,202.1 236.7,203.9 236.9,204.4 236.9,202.5 237.2,203.2 237.2,206.2 237.5,204.5 237.5,203.6 237.9,203.1 237.9,205.8 238.2,205.8 238.2,203.3 238.5,204.2 238.5,206.7 238.8,206.3 238.8,203.6 239.1,204.6 239.1,207.7 239.4,205.8 239.4,204.7 239.6,205.2 239.6,206.6 239.9,208.0 239.9,205.4 240.2,205.5 240.2,207.9 240.6,208.4 240.6,205.8 240.9,206.2 240.9,207.9 241.2,208.3 241.2,206.7 241.5,206.3 241.5,208.7 241.8,208.8 241.8,206.7 242.0,207.5 242.0,209.3 242.4,209.4 242.4,207.1 242.6,208.4 242.6,210.2 242.9,208.6 242.9,208.0 243.2,207.7 243.2,210.5 243.5,211.0 243.5,208.0 243.8,208.2 243.8,210.8 244.1,210.0 244.1,208.5 244.5,208.9 244.5,210.4 244.8,211.3 244.8,208.9 245.1,208.7 245.1,211.3 245.3,211.7 245.3,209.1 245.6,209.4 245.6,211.5 245.9,212.8 245.9,210.5 246.2,210.6 246.2,211.7 246.6,212.9 246.6,210.9 246.9,210.7 246.9,214.1 247.1,213.7 247.1,211.1 247.4,211.1 247.4,213.2 247.8,213.2 247.8,211.2 248.1,211.9 248.1,213.4 248.4,214.6 248.4,211.3 248.6,212.0 248.6,214.6 248.9,214.3 248.9,211.9 249.3,212.2 249.3,214.9 249.6,215.7 249.6,212.0 249.8,212.0 249.8,215.1 250.1,215.8 250.1,213.0 250.4,213.1 250.4,215.0 250.7,215.4 250.7,212.9 251.0,212.6 251.0,216.2 251.4,216.9 251.4,213.9 251.7,214.7 251.7,217.7 252.0,216.1 252.0,214.6 252.3,214.6 252.3,216.8 252.6,217.6 252.6,215.0 252.9,215.1 252.9,216.9 253.1,216.9 253.1,215.5 253.4,215.4 253.4,217.2 253.8,219.5 253.8,216.0 254.1,216.3 254.1,218.7 254.3,218.6 254.3,216.7 254.6,215.9 254.6,219.9 255.0,218.6 255.0,217.1 255.3,216.8 255.3,219.6 255.6,218.9 255.6,217.0 255.9,217.6 255.9,219.9 256.2,220.6 256.2,217.1 256.4,218.2 256.4,219.9 256.8,220.1 256.8,218.0 257.1,218.3 257.1,220.3 257.4,221.5 257.4,218.6 257.7,219.2 257.7,221.4 258.0,220.8 258.0,218.3 258.3,218.6 258.3,221.4 258.6,221.5 258.6,219.0 258.9,218.8 258.9,222.4 259.2,222.7 259.2,220.5 259.5,220.2 259.5,222.6 259.8,222.9 259.8,219.9 260.0,220.5 260.0,223.0 260.3,222.9 260.3,220.9 260.6,220.6 260.6,223.4 260.9,223.3 260.9,220.6 261.2,220.7 261.2,223.1 261.6,223.7 261.6,221.6 261.9,221.8 261.9,223.5 262.2,223.7 262.2,221.4 262.5,221.5 262.5,223.9 262.7,224.5 262.7,221.4 263.0,222.1 263.0,226.0 263.3,224.6 263.3,221.8 263.6,222.7 263.6,225.7 264.0,225.1 264.0,223.0 264.3,223.3 264.3,225.1 264.6,225.7 264.6,223.4 264.9,223.5 264.9,226.3 265.2,226.6 265.2,223.4 265.5,223.5 265.5,226.1 265.7,226.3 265.7,224.3 266.0,224.0 266.0,227.5 266.4,227.7 266.4,223.5 266.7,225.1 266.7,227.1 266.9,227.4 266.9,224.5 267.2,224.7 267.2,227.5 267.5,227.3 267.5,224.5 267.8,225.0 267.8,228.2 268.1,228.7 268.1,225.9 268.4,225.3 268.4,228.3 268.7,228.1 268.7,225.2 269.1,225.8 269.1,228.5 269.3,228.5 269.3,225.5 269.6,226.3 269.6,229.3 270.0,229.0 270.0,227.0 270.3,226.4 270.3,229.6 270.6,230.4 270.6,227.1 270.9,226.6 270.9,229.7 271.2,229.9 271.2,227.5 271.4,227.2 271.4,230.1 271.8,230.1 271.8,227.7 272.1,228.2 272.1,230.4 272.3,231.3 272.3,227.0 272.6,227.7 272.6,230.5 272.9,231.0 272.9,228.6 273.2,228.8 273.2,231.4 273.5,231.6 273.5,228.9 273.8,229.7 273.8,231.4 274.1,231.9 274.1,229.6 274.4,229.7 274.4,232.3 274.7,232.0 274.7,228.9 275.0,229.9 275.0,232.8 275.4,232.2 275.4,229.5 275.7,229.6 275.7,232.4 275.9,232.4 275.9,229.7 276.2,230.7 276.2,233.2 276.5,233.2 276.5,230.0 276.8,230.3 276.8,233.4 277.2,233.7 277.2,231.4 277.4,230.6 277.4,233.3 277.8,233.4 277.8,231.4 278.1,231.3 278.1,234.3 278.4,234.4 278.4,231.3 278.7,231.2 278.7,234.0 279.0,234.8 279.0,231.1 279.3,231.2 279.3,234.3 279.5,233.9 279.5,231.7 279.9,231.8 279.9,234.5 280.2,234.8 280.2,232.0 280.4,232.9 280.4,234.7 280.7,235.9 280.7,233.0 281.0,232.1 281.0,235.6 281.3,235.9 281.3,232.7 281.6,233.1 281.6,235.8 281.9,235.8 281.9,233.0 282.3,232.7 282.3,236.6 282.6,236.0 282.6,233.6 282.8,233.9 282.8,236.6 283.2,236.4 283.2,233.9 283.5,234.2 283.5,236.8 283.8,237.4 283.8,234.1 284.0,234.1 284.0,237.0 284.3,237.8 284.3,234.8 284.7,234.4 284.7,237.4 285.0,237.8 285.0,235.0 285.3,234.2 285.3,238.2 285.5,238.0 285.5,235.0 285.8,234.6 285.8,237.7 286.2,240.0 286.2,234.3 286.5,235.0 286.5,238.5 286.8,238.5 286.8,235.1 287.0,234.6 287.0,238.1 287.3,238.5 287.3,235.9 287.7,234.8 287.7,238.8 288.0,238.6 288.0,234.9 288.3,236.6 288.3,239.2 288.5,238.8 288.5,236.5 288.8,236.0 288.8,240.4 289.2,239.6 289.2,236.5 289.5,236.5 289.5,239.9 289.8,239.8 289.8,236.9 290.1,236.3 290.1,239.7 290.4,239.6 290.4,236.9 290.6,237.1 290.6,240.5 290.9,240.0 290.9,236.9 291.3,236.2 291.3,240.5 291.6,241.1 291.6,237.8 291.8,237.3 291.8,241.2 292.1,240.6 292.1,237.6 292.4,238.1 292.4,240.7 292.7,241.1 292.7,238.1 293.1,238.3 293.1,241.0 293.4,241.5 293.4,238.0 293.7,237.7 293.7,241.7 293.9,242.4 293.9,238.2 294.2,238.3 294.2,241.7 294.5,242.0 294.5,238.6 294.8,237.6 294.8,241.9 295.1,241.9 295.1,239.5 295.5,239.3 295.5,241.5 295.8,242.0 295.8,239.0 296.1,239.7 296.1,242.7 296.4,242.2 296.4,238.5 296.6,240.1 296.6,242.6 297.0,242.4 297.0,239.1 297.2,239.5 297.2,243.0 297.5,242.7 297.5,239.9 297.9,239.8 297.9,243.9 298.2,243.1 298.2,240.3 298.5,240.3 298.5,243.5 298.8,243.9 298.8,240.4 299.1,240.5 299.1,243.9 299.4,243.9 299.4,240.9 299.6,241.2 299.6,244.1 299.9,243.5 299.9,239.7 300.2,240.3 300.2,245.0 300.5,243.9 300.5,240.9 300.8,241.4 300.8,243.7 301.2,243.8 301.2,240.1 301.4,241.7 301.4,244.3 301.8,244.6 301.8,240.4 302.0,241.2 302.0,244.8 302.4,245.1 302.4,241.4 302.7,241.0 302.7,244.7 303.0,245.3 303.0,241.3 303.3,241.0 303.3,244.8 303.6,245.4 303.6,242.2 303.9,242.0 303.9,245.3 304.2,245.2 304.2,242.5 304.5,242.6 304.5,245.1 304.8,246.0 304.8,242.3 305.1,242.0 305.1,245.4 305.4,245.2 305.4,242.5 305.6,242.8 305.6,246.5 305.9,245.5 305.9,242.5 306.2,242.9 306.2,246.4 306.6,246.4 306.6,243.3 306.8,243.1 306.8,246.8 307.2,246.3 307.2,243.2 307.5,242.9 307.5,246.9 307.7,247.2 307.7,243.2 308.1,243.5 308.1,246.4 308.4,246.2 308.4,241.9 308.6,243.7 308.6,247.1 309.0,247.8 309.0,243.6 309.2,243.1 309.2,246.7 309.5,246.9 309.5,243.5 309.9,242.7 309.9,246.9 310.1,247.5 310.1,244.2 310.4,243.1 310.4,246.8 310.7,247.0 310.7,243.9 311.1,243.6 311.1,247.2 311.3,247.7 311.3,244.1 311.6,244.2 311.6,247.6 311.9,247.6 311.9,244.1 312.2,244.0 312.2,247.3 312.6,247.7 312.6,244.6 312.8,244.6 312.8,247.7 313.1,247.5 313.1,244.0 313.4,244.7 313.4,248.8 313.7,248.5 313.7,245.0 314.1,245.1 314.1,248.3 314.3,248.2 314.3,244.9 314.6,244.1 314.6,247.7 314.9,248.5 314.9,245.6 315.2,245.2 315.2,248.7 315.5,248.2 315.5,245.3 315.8,245.1 315.8,249.5 316.2,248.8 316.2,245.0 316.4,245.1 316.4,248.4 316.7,249.4 316.7,245.3 317.1,245.8 317.1,248.5 317.4,248.9 317.4,245.7 317.7,245.5 317.7,248.7 318.0,249.8 318.0,244.6 318.2,245.9 318.2,249.0 318.5,249.2 318.5,245.9 318.8,245.8 318.8,249.8 319.2,249.1 319.2,246.1 319.5,246.0 319.5,249.6 319.7,250.0 319.7,245.8 320.0,246.0 320.0,249.1 320.3,249.4 320.3,246.0 320.7,246.3 320.7,250.0 320.9,249.8 320.9,246.9 321.2,246.6 321.2,249.9 321.6,250.7 321.6,246.2 321.9,246.5 321.9,249.7 322.1,250.6 322.1,247.0 322.4,246.4 322.4,250.3 322.7,250.7 322.7,246.8 323.1,246.0 323.1,250.6 323.4,249.8 323.4,246.9 323.7,247.0 323.7,250.1 323.9,251.0 323.9,247.1 324.3,245.4 324.3,250.2 324.6,250.6 324.6,247.3 324.9,247.4 324.9,251.1 325.2,251.2 325.2,246.9 325.5,246.7 325.5,250.3 325.8,250.8 325.8,246.9 326.1,246.9 326.1,250.7 326.4,250.7 326.4,246.9 326.7,246.5 326.7,250.7 326.9,251.2 326.9,247.6 327.3,246.9 327.3,251.2 327.6,251.5 327.6,247.6 327.8,247.2 327.8,251.1 328.2,251.3 328.2,247.4 328.5,247.4 328.5,252.1 328.8,251.4 328.8,247.8 329.0,247.6 329.0,251.1 329.4,252.5 329.4,247.8 329.7,248.1 329.7,251.8 330.0,251.2 330.0,247.4 330.3,248.0 330.3,251.8 330.5,252.2 330.5,247.6 330.8,247.8 330.8,252.1 331.2,251.4 331.2,247.4 331.5,248.1 331.5,251.5 331.8,251.7 331.8,248.0 332.1,247.9 332.1,252.1 332.4,251.6 332.4,248.1 332.6,248.1 332.6,252.1 332.9,252.3 332.9,247.7 333.2,248.4 333.2,251.6 333.5,252.7 333.5,248.7 333.8,247.9 333.8,252.2 334.1,252.0 334.1,248.8 334.5,248.8 334.5,252.6 334.8,252.9 334.8,248.1 335.1,248.2 335.1,252.0 335.3,253.0 335.3,248.6 335.6,248.6 335.6,252.7 336.0,252.2 336.0,248.6 336.3,248.8 336.3,252.4 336.5,252.3 336.5,248.2 336.9,248.8 336.9,252.9 337.2,252.4 337.2,247.8 337.5,248.7 337.5,252.0 337.7,252.9 337.7,248.7 338.0,249.2 338.0,252.4 338.4,252.5 338.4,248.7 338.6,248.9 338.6,252.0 338.9,252.8 338.9,249.0 339.3,248.8 339.3,252.7 339.6,253.5 339.6,248.9 339.8,248.7 339.8,252.8 340.2,253.0 340.2,248.8 340.5,249.3 340.5,253.4 340.7,253.3 340.7,248.8 341.0,249.3 341.0,252.9 341.3,253.1 341.3,248.9 341.7,248.9 341.7,252.7 342.0,253.3 342.0,248.3 342.3,248.4 342.3,252.7 342.6,253.5 342.6,248.8 342.9,248.5 342.9,252.7 343.2,252.9 343.2,248.9 343.5,248.8 343.5,252.9 343.7,253.1 343.7,249.0 344.0,249.1 344.0,253.5 344.4,253.2 344.4,249.5 344.7,249.2 344.7,253.4 344.9,253.2 344.9,248.6 345.3,249.3 345.3,253.0 345.6,252.8 345.6,248.9 345.8,248.9 345.8,253.1" fill="none" stroke="#60283c" stroke-width="1.0" stroke-linejoin="round"/>
<path d="M51.1,31.1 56.9,33.2 61.9,35.9 66.4,37.2 70.3,39.5 73.9,43.3 77.2,45.3 80.2,46.6 83.0,49.4 85.6,50.6 88.0,52.7 90.3,54.4 92.4,54.9 94.5,56.7 96.4,60.1 98.2,60.4 100.0,62.0 101.6,62.7 103.2,65.8 104.8,65.9 106.3,66.1 107.7,68.6 109.0,70.6 110.4,71.9 111.6,72.9 112.9,73.2 114.1,73.4 115.2,75.6 116.3,77.1 117.4,77.1 118.5,78.5 119.5,79.0 120.5,80.6 121.5,81.5 122.5,82.2 123.4,82.8 124.3,83.4 125.2,84.6 126.0,85.8 126.9,87.4 127.7,87.1 128.5,89.5 129.3,88.8 130.1,89.9 130.8,90.9 131.6,91.9 132.3,93.1 133.0,93.4 133.7,95.2 134.4,95.1 135.1,95.5 135.8,95.4 136.4,97.2 137.1,97.8 137.7,98.7 138.3,98.0 138.9,100.4 139.5,99.7 140.1,99.7 140.7,101.6 141.3,102.2 141.9,103.8 142.4,104.0 143.0,104.2 143.5,104.7 144.0,105.7 144.6,105.1 145.1,106.3 145.6,106.2 146.1,106.6 146.6,107.4 147.1,108.2 147.6,108.2 148.1,109.6 148.5,109.1 149.0,109.3 149.5,112.7 149.9,112.1 150.4,112.2 150.8,112.5 151.2,112.3 151.7,113.4 152.1,114.4 152.5,113.1 153.0,115.2 153.4,115.5 153.8,116.8 154.2,116.9 154.6,116.6 155.0,117.4 155.4,117.6 155.8,117.7 156.2,117.6 156.5,118.6 156.9,119.9 157.3,119.9 157.7,120.4 158.0,122.0 158.4,120.9 158.8,121.8 159.1,121.1 159.5,123.6 159.8,122.4 160.2,123.1 160.5,122.7 160.8,124.3 161.2,124.3 161.5,124.8 161.8,125.0 162.2,124.8 162.5,126.0 162.8,126.4 163.1,125.4 163.5,126.4 163.8,127.2 164.1,127.2 164.4,129.1 164.7,129.9 165.0,128.6 165.3,128.4 165.6,130.0 165.9,130.0 166.2,129.9 166.5,130.3 166.8,131.2 167.1,131.1 167.4,131.3 167.6,131.9 167.9,130.5 168.2,132.5 168.5,132.8 168.8,133.1 169.0,132.3 169.4,132.0 169.4,132.4 169.8,133.8 170.1,133.6 170.4,135.4 170.6,135.9 170.9,134.8 171.2,135.9 171.5,136.7 171.5,136.0 171.9,137.0 172.2,136.7 172.4,137.4 172.7,138.3 173.0,137.7 173.0,138.2 173.4,138.3 173.6,138.3 173.9,139.0 174.2,139.6 174.2,139.4 174.6,138.9 174.8,139.6 175.2,139.5 175.2,140.7 175.5,141.5 175.8,140.1 176.0,141.3 176.3,142.6 176.3,141.7 176.7,141.8 177.0,141.8 177.0,142.4 177.3,142.2 177.5,143.7 177.9,144.4 177.9,143.7 178.2,143.2 178.4,143.8 178.7,143.0 178.7,145.0 179.0,144.3 179.3,146.4 179.3,145.2 179.6,144.1 180.0,144.1 180.0,145.0 180.3,145.3 180.6,145.9 180.6,145.9 180.9,145.9 181.2,146.5 181.2,147.2 181.5,147.1 181.7,147.5 181.7,147.1 182.0,146.2 182.3,148.0 182.3,149.8 182.6,149.7 182.9,148.8 182.9,148.4 183.3,149.2 183.3,150.6 183.5,149.7 183.8,151.0 183.8,149.7 184.2,151.0 184.2,151.3 184.5,151.3 184.7,152.3 184.7,150.3 185.1,151.2 185.1,151.8 185.4,150.4 185.6,152.4 185.6,151.9 186.0,152.1 186.0,152.6 186.2,151.5 186.5,153.6 186.5,152.7 186.8,152.9 186.8,153.1 187.2,154.7 187.2,153.4 187.5,153.2 187.5,153.8 187.8,155.4 188.0,155.0 188.0,154.2 188.3,153.6 188.3,154.5 188.7,156.1 188.7,155.7 189.0,156.4 189.0,157.0 189.3,156.0 189.3,155.8 189.6,155.3 189.6,157.8 189.8,157.1 190.1,158.9 190.1,158.8 190.4,157.1 190.4,158.2 190.7,158.7 190.7,158.0 191.0,157.0 191.0,158.0 191.3,159.2 191.3,157.9 191.6,158.1 191.6,158.7 191.9,158.9 191.9,158.3 192.2,158.3 192.2,158.5 192.5,160.5 192.5,159.1 192.8,160.0 192.8,160.1 193.1,159.5 193.1,159.0 193.5,160.6 193.5,160.9 193.8,163.1 193.8,160.5 194.1,161.0 194.1,162.5 194.3,162.7 194.3,161.5 194.6,161.0 194.6,162.2 194.9,162.9 194.9,160.3 195.2,161.4 195.2,163.7 195.6,164.1 195.6,162.6 195.8,162.8 195.8,163.7 196.1,163.9 196.1,163.1 196.4,163.4 196.4,163.4 196.8,164.6 196.8,163.2 197.0,162.9 197.0,164.8 197.4,165.1 197.4,163.6 197.7,164.4 197.7,164.7 197.9,166.5 197.9,164.2 198.2,165.3 198.2,167.1 198.6,167.3 198.6,165.2 198.9,165.6 198.9,167.3 199.2,166.3 199.2,165.2 199.5,166.1 199.5,167.8 199.8,167.4 199.8,166.7 200.1,165.4 200.1,167.9 200.4,166.9 200.4,166.8 200.7,168.1 200.7,169.5 201.0,168.7 201.0,167.3 201.3,169.3 201.3,170.0 201.5,168.8 201.5,168.5 201.8,169.3 201.8,169.8 202.2,171.3 202.2,169.1 202.4,168.3 202.4,170.7 202.7,170.9 202.7,169.3 203.1,169.9 203.1,170.5 203.4,173.0 203.4,170.3 203.7,169.8 203.7,171.7 203.9,172.5 203.9,171.3 204.3,171.3 204.3,173.0 204.6,172.7 204.6,170.2 204.9,172.1 204.9,172.7 205.1,174.0 205.1,172.4 205.4,172.9 205.4,173.3 205.7,173.7 205.7,172.7 206.0,173.5 206.0,174.5 206.3,175.0 206.3,174.2 206.6,173.2 206.6,173.4 206.9,174.8 206.9,174.4 207.2,174.1 207.2,175.0 207.5,175.5 207.5,174.6 207.8,174.8 207.8,177.5 208.1,175.7 208.1,175.1 208.4,176.7 208.4,177.2 208.8,176.7 208.8,176.5 209.1,176.9 209.1,178.7 209.3,178.6 209.3,176.3 209.6,177.0 209.6,178.7 209.9,179.2 209.9,177.8 210.3,177.6 210.3,178.2 210.5,178.8 210.5,177.7 210.9,178.0 210.9,180.2 211.2,180.8 211.2,178.6 211.4,178.1 211.4,179.4 211.7,180.3 211.7,178.9 212.0,179.0 212.0,180.3 212.3,181.0 212.3,178.3 212.6,180.8 212.6,181.7 212.9,181.5 212.9,179.1 213.2,179.8 213.2,181.3 213.5,181.0 213.5,180.0 213.9,180.9 213.9,183.9 214.2,182.8 214.2,180.6 214.4,180.7 214.4,181.6 214.8,183.6 214.8,181.2 215.0,182.9 215.0,183.4 215.3,183.6 215.3,181.5 215.6,183.5 215.6,184.3 216.0,185.0 216.0,183.0 216.3,182.8 216.3,184.0 216.6,184.5 216.6,183.3 216.9,184.2 216.9,185.1 217.2,185.8 217.2,184.4 217.4,184.0 217.4,185.2 217.7,187.3 217.7,184.7 218.0,184.2 218.0,187.3 218.4,186.9 218.4,185.2 218.7,185.0 218.7,186.7 219.0,187.7 219.0,185.6 219.3,186.5 219.3,187.3 219.5,187.6 219.5,186.6 219.9,185.5 219.9,187.6 220.2,188.0 220.2,187.0 220.5,187.3 220.5,188.9 220.7,189.4 220.7,187.8 221.0,187.9 221.0,188.6 221.3,190.1 221.3,188.5 221.6,188.1 221.6,189.5 221.9,189.9 221.9,189.1 222.2,188.6 222.2,190.3 222.5,190.0 222.5,187.8 222.8,190.2 222.8,192.1 223.2,191.4 223.2,190.6 223.5,190.7 223.5,191.6 223.7,191.7 223.7,190.8 224.1,189.6 224.1,191.3 224.4,192.4 224.4,190.7 224.7,190.9 224.7,191.8 224.9,192.8 224.9,191.2 225.2,191.2 225.2,192.6 225.5,194.3 225.5,191.2 225.8,192.3 225.8,193.9 226.1,193.8 226.1,192.3 226.4,192.5 226.4,193.8 226.7,195.0 226.7,193.6 227.0,193.5 227.0,195.3 227.3,196.0 227.3,193.4 227.7,193.6 227.7,196.6 228.0,196.8 228.0,194.8 228.2,194.6 228.2,196.1 228.5,196.7 228.5,194.0 228.9,194.9 228.9,196.7 229.2,197.3 229.2,195.8 229.5,195.4 229.5,197.4 229.8,197.9 229.8,194.9 230.1,196.4 230.1,198.4 230.3,197.6 230.3,195.5 230.6,196.5 230.6,197.5 230.9,199.0 230.9,196.2 231.2,197.1 231.2,198.2 231.6,198.4 231.6,197.1 231.9,197.7 231.9,199.7 232.1,200.6 232.1,197.2 232.4,197.5 232.4,200.4 232.7,200.3 232.7,197.3 233.0,198.4 233.0,200.5 233.3,200.3 233.3,199.4 233.7,199.1 233.7,201.5 234.0,200.6 234.0,199.6 234.3,199.6 234.3,201.0 234.5,201.9 234.5,199.9 234.8,200.9 234.8,202.2 235.2,202.0 235.2,200.0 235.5,201.1 235.5,202.6 235.8,203.0 235.8,200.9 236.1,200.5 236.1,203.2 236.4,203.0 236.4,201.3 236.7,202.0 236.7,203.5 236.9,203.8 236.9,202.5 237.2,201.7 237.2,204.8 237.5,204.4 237.5,201.5 237.9,202.6 237.9,204.5 238.2,205.3 238.2,202.4 238.5,203.7 238.5,205.6 238.8,205.7 238.8,202.3 239.1,203.8 239.1,206.9 239.4,206.5 239.4,204.2 239.6,203.8 239.6,206.3 239.9,205.3 239.9,204.3 240.2,204.1 240.2,207.5 240.6,207.4 240.6,204.7 240.9,205.4 240.9,207.9 241.2,208.1 241.2,205.1 241.5,205.4 241.5,207.5 241.8,208.6 241.8,205.7 242.0,206.1 242.0,208.0 242.4,208.3 242.4,206.5 242.6,207.3 242.6,209.1 242.9,208.6 242.9,206.0 243.2,207.1 243.2,208.9 243.5,209.6 243.5,207.7 243.8,207.4 243.8,210.0 244.1,209.9 244.1,207.7 244.5,208.0 244.5,210.0 244.8,211.1 244.8,209.2 245.1,209.3 245.1,210.2 245.3,211.1 245.3,208.4 245.6,209.0 245.6,211.8 245.9,212.4 245.9,210.1 246.2,209.5 246.2,211.2 246.6,211.7 246.6,209.2 246.9,209.1 246.9,212.4 247.1,212.6 247.1,210.0 247.4,210.3 247.4,212.2 247.8,213.0 247.8,209.8 248.1,211.0 248.1,213.3 248.4,213.0 248.4,211.0 248.6,211.7 248.6,213.3 248.9,213.8 248.9,212.2 249.3,211.4 249.3,214.1 249.6,214.1 249.6,211.8 249.8,212.3 249.8,214.6 250.1,215.5 250.1,211.5 250.4,212.5 250.4,215.2 250.7,215.1 250.7,212.7 251.0,212.5 251.0,215.0 251.4,216.2 251.4,213.7 251.7,213.6 251.7,216.4 252.0,216.4 252.0,214.0 252.3,214.5 252.3,216.5 252.6,217.0 252.6,213.9 252.9,214.8 252.9,216.6 253.1,216.8 253.1,214.6 253.4,214.2 253.4,217.2 253.8,217.1 253.8,214.8 254.1,216.0 254.1,217.5 254.3,218.2 254.3,215.8 254.6,216.6 254.6,218.7 255.0,218.5 255.0,216.6 255.3,215.9 255.3,219.4 255.6,219.4 255.6,217.1 255.9,217.4 255.9,219.4 256.2,219.3 256.2,217.6 256.4,217.7 256.4,219.8 256.8,219.9 256.8,217.2 257.1,217.6 257.1,219.5 257.4,219.6 257.4,218.0 257.7,217.7 257.7,220.3 258.0,220.4 258.0,218.3 258.3,218.2 258.3,221.8 258.6,221.0 258.6,218.0 258.9,219.2 258.9,221.6 259.2,221.2 259.2,218.7 259.5,219.5 259.5,222.1 259.8,221.5 259.8,218.8 260.0,219.6 260.0,222.0 260.3,222.3 260.3,220.3 260.6,219.8 260.6,222.6 260.9,222.2 260.9,220.8 261.2,220.4 261.2,222.5 261.6,223.1 261.6,220.3 261.9,220.0 261.9,223.3 262.2,223.7 262.2,221.1 262.5,220.6 262.5,223.6 262.7,224.9 262.7,221.3 263.0,221.8 263.0,225.2 263.3,224.2 263.3,221.8 263.6,222.5 263.6,224.4 264.0,225.2 264.0,222.1 264.3,221.7 264.3,225.5 264.6,225.6 264.6,222.3 264.9,222.8 264.9,226.1 265.2,225.9 265.2,222.8 265.5,223.1 265.5,225.3 265.7,226.2 265.7,222.6 266.0,222.8 266.0,226.8 266.4,226.8 266.4,223.9 266.7,223.7 266.7,227.8 266.9,227.7 266.9,224.8 267.2,224.8 267.2,227.4 267.5,226.6 267.5,223.6 267.8,225.2 267.8,228.1 268.1,227.6 268.1,224.8 268.4,225.0 268.4,227.2 268.7,227.7 268.7,224.9 269.1,225.2 269.1,228.1 269.3,228.9 269.3,226.3 269.6,226.0 269.6,228.3 270.0,228.7 270.0,226.5 270.3,226.9 270.3,228.7 270.6,229.0 270.6,226.9 270.9,226.3 270.9,229.8 271.2,229.7 271.2,226.1 271.4,226.8 271.4,229.8 271.8,229.4 271.8,227.6 272.1,227.1 272.1,229.1 272.3,230.7 272.3,227.4 272.6,227.7 272.6,231.1 272.9,231.1 272.9,228.0 273.2,228.4 273.2,230.8 273.5,230.4 273.5,228.4 273.8,227.6 273.8,231.9 274.1,231.9 274.1,228.6 274.4,227.8 274.4,230.6 274.7,232.0 274.7,229.1 275.0,228.5 275.0,232.1 275.4,231.7 275.4,228.7 275.7,229.1 275.7,232.6 275.9,232.4 275.9,229.9 276.2,229.5 276.2,232.2 276.5,232.8 276.5,229.7 276.8,229.6 276.8,234.1 277.2,233.7 277.2,230.0 277.4,230.4 277.4,232.6 277.8,233.6 277.8,230.8 278.1,230.4 278.1,233.5 278.4,233.9 278.4,230.7 278.7,231.2 278.7,233.6 279.0,234.5 279.0,231.0 279.3,231.9 279.3,234.2 279.5,234.7 279.5,231.4 279.9,232.0 279.9,234.4 280.2,235.4 280.2,231.2 280.4,232.0 280.4,234.5 280.7,234.8 280.7,232.2 281.0,232.5 281.0,235.5 281.3,235.5 281.3,232.2 281.6,232.1 281.6,236.1 281.9,236.2 281.9,232.9 282.3,232.2 282.3,235.6 282.6,235.4 282.6,232.6 282.8,233.0 282.8,238.0 283.2,236.4 283.2,233.2 283.5,232.7 283.5,236.3 283.8,236.3 283.8,233.4 284.0,234.1 284.0,236.6 284.3,236.8 284.3,234.1 284.7,232.6 284.7,236.9 285.0,237.4 285.0,234.1 285.3,233.8 285.3,237.4 285.5,237.3 285.5,234.9 285.8,234.6 285.8,237.4 286.2,237.3 286.2,234.9 286.5,234.6 286.5,238.4 286.8,238.0 286.8,234.5 287.0,235.2 287.0,238.4 287.3,237.9 287.3,235.7 287.7,235.2 287.7,238.0 288.0,238.4 288.0,234.7 288.3,235.1 288.3,239.4 288.5,238.8 288.5,236.0 288.8,235.5 288.8,238.5 289.2,238.4 289.2,236.1 289.5,235.5 289.5,239.0 289.8,239.7 289.8,235.8 290.1,236.4 290.1,239.6 290.4,239.0 290.4,237.0 290.6,237.1 290.6,239.9 290.9,240.2 290.9,236.7 291.3,237.0 291.3,239.8 291.6,240.4 291.6,236.5 291.8,237.1 291.8,240.6 292.1,240.9 292.1,237.5 292.4,237.4 292.4,240.8 292.7,240.1 292.7,237.2 293.1,236.7 293.1,240.6 293.4,241.6 293.4,237.5 293.7,237.6 293.7,241.6 293.9,241.3 293.9,237.8 294.2,238.4 294.2,241.3 294.5,241.5 294.5,237.9 294.8,238.5 294.8,241.6 295.1,241.1 295.1,238.6 295.5,239.4 295.5,241.3 295.8,241.7 295.8,239.0 296.1,238.3 296.1,242.4 296.4,242.2 296.4,238.8 296.6,237.9 296.6,241.7 297.0,242.2 297.0,239.5 297.2,239.5 297.2,242.4 297.5,243.5 297.5,239.6 297.9,239.4 297.9,242.7 298.2,243.2 298.2,239.8 298.5,240.0 298.5,243.0 298.8,242.6 298.8,240.1 299.1,240.4 299.1,243.0 299.4,243.8 299.4,240.4 299.6,239.9 299.6,243.2 299.9,243.0 299.9,240.8 300.2,240.3 300.2,243.9 300.5,243.7 300.5,241.2 300.8,241.0 300.8,243.4 301.2,243.5 301.2,240.9 301.4,241.1 301.4,244.2 301.8,245.6 301.8,240.5 302.0,240.4 302.0,244.2 302.4,244.8 302.4,241.3 302.7,241.4 302.7,244.2 303.0,244.7 303.0,241.3 303.3,241.3 303.3,244.5 303.6,245.5 303.6,241.9 303.9,241.4 303.9,244.7 304.2,245.7 304.2,242.1 304.5,241.8 304.5,245.3 304.8,245.4 304.8,242.0 305.1,241.7 305.1,245.5 305.4,245.1 305.4,242.6 305.6,242.4 305.6,245.2 305.9,245.9 305.9,242.9 306.2,242.8 306.2,245.6 306.6,246.2 306.6,242.0 306.8,242.6 306.8,245.6 307.2,245.5 307.2,242.3 307.5,242.8 307.5,246.0 307.7,246.7 307.7,243.4 308.1,243.2 308.1,246.4 308.4,246.4 308.4,242.8 308.6,242.9 308.6,247.2 309.0,247.1 309.0,243.1 309.2,243.1 309.2,247.1 309.5,247.8 309.5,243.4 309.9,243.6 309.9,247.0 310.1,247.0 310.1,243.1 310.4,243.0 310.4,247.6 310.7,247.7 310.7,243.9 311.1,243.2 311.1,247.4 311.3,246.9 311.3,243.5 311.6,244.0 311.6,247.5 311.9,247.4 311.9,244.0 312.2,244.6 312.2,247.3 312.6,247.7 312.6,244.3 312.8,244.4 312.8,248.1 313.1,247.4 313.1,243.6 313.4,245.0 313.4,248.6 313.7,247.6 313.7,244.7 314.1,245.2 314.1,248.4 314.3,248.5 314.3,244.3 314.6,243.8 314.6,248.4 314.9,248.6 314.9,244.4 315.2,244.2 315.2,248.0 315.5,248.4 315.5,244.5 315.8,245.4 315.8,248.3 316.2,248.6 316.2,244.9 316.4,244.7 316.4,248.7 316.7,249.5 316.7,244.5 317.1,245.2 317.1,248.6 317.4,249.0 317.4,245.5 317.7,245.3 317.7,248.5 318.0,249.1 318.0,244.8 318.2,244.9 318.2,248.6 318.5,249.7 318.5,245.2 318.8,245.8 318.8,249.4 319.2,249.3 319.2,245.7 319.5,246.3 319.5,250.3 319.7,249.5 319.7,246.3 320.0,246.0 320.0,249.9 320.3,249.7 320.3,246.1 320.7,245.7 320.7,249.4 320.9,249.6 320.9,245.6 321.2,246.6 321.2,250.2 321.6,249.9 321.6,246.5 321.9,246.3 321.9,250.1 322.1,249.8 322.1,246.5 322.4,246.8 322.4,249.9 322.7,250.0 322.7,246.2 323.1,246.1 323.1,250.3 323.4,250.4 323.4,246.5 323.7,246.5 323.7,250.3 323.9,250.5 323.9,246.9 324.3,247.2 324.3,250.5 324.6,250.5 324.6,246.4 324.9,246.5 324.9,250.3 325.2,250.3 325.2,246.9 325.5,246.8 325.5,250.6 325.8,251.1 325.8,247.2 326.1,246.9 326.1,250.2 326.4,251.2 326.4,247.3 326.7,247.5 326.7,250.9 326.9,250.7 326.9,247.3 327.3,246.8 327.3,250.8 327.6,250.9 327.6,247.3 327.8,247.4 327.8,251.6 328.2,251.2 328.2,247.1 328.5,247.4 328.5,251.7 328.8,251.3 328.8,247.2 329.0,247.6 329.0,251.1 329.4,251.1 329.4,247.5 329.7,247.1 329.7,251.6 330.0,251.3 330.0,248.0 330.3,247.7 330.3,251.9 330.5,251.7 330.5,247.9 330.8,247.9 330.8,251.0 331.2,251.5 331.2,248.5 331.5,247.8 331.5,251.4 331.8,252.2 331.8,248.2 332.1,248.0 332.1,251.9 332.4,252.1 332.4,248.2 332.6,248.0 332.6,252.0 332.9,251.2 332.9,248.3 333.2,248.0 333.2,251.8 333.5,251.8 333.5,248.3 333.8,247.9 333.8,252.0 334.1,252.0 334.1,247.9 334.5,248.1 334.5,252.2 334.8,251.6 334.8,248.4 335.1,248.8 335.1,251.9 335.3,251.9 335.3,247.9 335.6,247.9 335.6,252.0 336.0,251.8 336.0,248.6 336.3,248.0 336.3,251.9 336.5,252.4 336.5,247.3 336.9,249.0 336.9,252.0 337.2,252.7 337.2,248.6 337.5,248.9 337.5,252.0 337.7,253.0 337.7,248.8 338.0,249.0 338.0,252.3 338.4,253.1 338.4,248.6 338.6,248.3 338.6,252.2 338.9,253.2 338.9,249.2 339.3,248.6 339.3,252.8 339.6,252.5 339.6,248.3 339.8,247.8 339.8,252.4 340.2,252.7 340.2,248.5 340.5,248.3 340.5,252.5 340.7,253.1 340.7,248.9 341.0,249.0 341.0,252.3 341.3,253.2 341.3,248.8 341.7,249.0 341.7,252.6 342.0,252.8 342.0,249.3 342.3,248.8 342.3,252.8 342.6,252.8 342.6,249.3 342.9,248.9 342.9,252.5 343.2,252.7 343.2,248.6 343.5,249.2 343.5,252.9 343.7,252.8 343.7,248.6 344.0,249.2 344.0,253.1 344.4,253.3 344.4,249.2 344.7,249.1 344.7,253.0 344.9,252.7 344.9,248.6 345.3,249.1 345.3,253.7 345.6,253.2 345.6,249.4 345.8,249.2 345.8,252.7" fill="none" stroke="#ffd8c4" stroke-width="1.0" stroke-linejoin="round"/>
<path d="M51.1,30.7 56.9,32.1 61.9,34.0 66.4,35.6 70.3,37.9 73.9,41.5 77.2,44.1 80.2,45.1 83.0,47.8 85.6,48.7 88.0,51.4 90.3,52.7 92.4,53.8 94.5,55.0 96.4,58.0 98.2,58.7 100.0,61.2 101.6,61.7 103.2,64.8 104.8,65.0 106.3,65.2 107.7,66.7 109.0,69.1 110.4,70.2 111.6,71.4 112.9,71.7 114.1,72.1 115.2,74.4 116.3,75.3 117.4,75.8 118.5,77.2 119.5,77.9 120.5,79.1 121.5,79.8 122.5,81.0 123.4,81.8 124.3,81.5 125.2,83.3 126.0,84.6 126.9,85.4 127.7,86.0 128.5,87.9 129.3,87.5 130.1,88.5 130.8,90.5 131.6,90.9 132.3,91.7 133.0,92.3 133.7,93.2 134.4,93.8 135.1,94.9 135.8,95.5 136.4,95.7 137.1,96.5 137.7,97.2 138.3,97.0 138.9,98.0 139.5,98.3 140.1,99.0 140.7,100.4 141.3,101.0 141.9,102.2 142.4,101.7 143.0,102.6 143.5,102.0 144.0,103.2 144.6,104.5 145.1,105.7 145.6,104.4 146.1,105.6 146.6,106.7 147.1,107.5 147.6,107.7 148.1,108.2 148.5,109.0 149.0,108.2 149.5,110.4 149.9,110.2 150.4,110.9 150.8,110.3 151.2,112.0 151.7,112.5 152.1,113.2 152.5,112.3 153.0,114.1 153.4,115.5 153.8,114.7 154.2,115.7 154.6,115.2 155.0,116.7 155.4,115.5 155.8,118.3 156.2,116.7 156.5,116.9 156.9,117.5 157.3,119.5 157.7,119.0 158.0,119.4 158.4,119.3 158.8,120.1 159.1,121.1 159.5,121.9 159.8,121.5 160.2,121.4 160.5,122.5 160.8,122.3 161.2,123.2 161.5,123.0 161.8,124.3 162.2,125.0 162.5,124.7 162.8,125.3 163.1,124.8 163.5,125.3 163.8,126.4 164.1,126.0 164.4,127.3 164.7,128.0 165.0,128.6 165.3,127.4 165.6,129.0 165.9,129.7 166.2,129.0 166.5,129.6 166.8,130.1 167.1,130.4 167.4,130.1 167.6,130.9 167.9,129.6 168.2,130.8 168.5,131.7 168.8,132.9 169.0,131.1 169.4,131.4 169.4,132.3 169.8,133.5 170.1,133.1 170.4,134.0 170.6,135.7 170.9,134.3 171.2,135.2 171.5,136.2 171.5,136.1 171.9,134.9 172.2,135.2 172.4,136.9 172.7,138.1 173.0,136.2 173.0,137.4 173.4,137.1 173.6,137.3 173.9,136.6 174.2,138.0 174.2,137.8 174.6,139.5 174.8,138.8 175.2,139.7 175.2,140.8 175.5,139.1 175.8,140.5 176.0,140.3 176.3,140.9 176.3,140.8 176.7,139.6 177.0,140.2 177.0,141.4 177.3,140.4 177.5,141.8 177.9,142.8 177.9,141.8 178.2,142.2 178.4,143.3 178.7,142.6 178.7,143.6 179.0,142.6 179.3,145.0 179.3,144.1 179.6,143.5 180.0,144.3 180.0,145.6 180.3,143.8 180.6,145.9 180.6,144.4 180.9,145.8 181.2,145.6 181.2,146.3 181.5,146.1 181.7,146.9 181.7,146.7 182.0,146.8 182.3,147.3 182.3,147.4 182.6,147.9 182.9,148.1 182.9,147.8 183.3,147.4 183.3,148.2 183.5,150.2 183.8,149.5 183.8,149.4 184.2,148.5 184.2,149.0 184.5,148.9 184.7,150.3 184.7,148.9 185.1,149.0 185.1,150.3 185.4,150.0 185.6,151.0 185.6,150.6 186.0,150.1 186.0,151.6 186.2,151.3 186.5,152.9 186.5,152.0 186.8,151.8 186.8,152.0 187.2,152.9 187.2,152.3 187.5,152.2 187.5,152.8 187.8,152.8 188.0,153.3 188.0,152.4 188.3,153.5 188.3,154.2 188.7,154.3 188.7,153.6 189.0,154.4 189.0,154.7 189.3,154.8 189.3,154.4 189.6,155.3 189.6,155.4 189.8,155.8 190.1,157.1 190.1,156.7 190.4,156.1 190.4,157.7 190.7,156.4 190.7,155.8 191.0,156.8 191.0,156.9 191.3,157.0 191.3,156.2 191.6,157.3 191.6,158.6 191.9,157.4 191.9,156.9 192.2,158.0 192.2,158.5 192.5,159.4 192.5,157.7 192.8,159.8 192.8,160.0 193.1,159.2 193.1,158.8 193.5,159.6 193.5,159.7 193.8,160.4 193.8,158.4 194.1,160.3 194.1,160.9 194.3,162.1 194.3,161.4 194.6,161.1 194.6,161.8 194.9,161.2 194.9,161.1 195.2,160.3 195.2,161.2 195.6,162.9 195.6,160.5 195.8,162.7 195.8,162.7 196.1,162.4 196.1,160.5 196.4,162.8 196.4,164.2 196.8,163.4 196.8,162.3 197.0,161.6 197.0,163.3 197.4,164.9 197.4,163.0 197.7,164.9 197.7,165.7 197.9,164.6 197.9,164.4 198.2,163.5 198.2,165.6 198.6,166.5 198.6,164.8 198.9,163.5 198.9,166.3 199.2,166.8 199.2,165.2 199.5,165.0 199.5,165.7 199.8,167.2 199.8,166.9 200.1,165.4 200.1,168.9 200.4,166.4 200.4,166.2 200.7,166.7 200.7,168.0 201.0,167.9 201.0,167.7 201.3,166.5 201.3,168.2 201.5,168.5 201.5,167.6 201.8,165.4 201.8,169.4 202.2,169.0 202.2,167.3 202.4,167.6 202.4,169.5 202.7,170.1 202.7,169.1 203.1,169.3 203.1,170.6 203.4,171.1 203.4,170.2 203.7,169.2 203.7,170.5 203.9,171.4 203.9,170.5 204.3,170.3 204.3,172.5 204.6,171.7 204.6,169.7 204.9,171.0 204.9,171.9 205.1,172.4 205.1,172.0 205.4,171.9 205.4,174.0 205.7,172.5 205.7,171.9 206.0,171.8 206.0,173.6 206.3,174.2 206.3,172.8 206.6,171.8 206.6,174.0 206.9,174.4 206.9,173.6 207.2,173.8 207.2,174.4 207.5,174.5 207.5,173.3 207.8,173.3 207.8,175.2 208.1,176.1 208.1,174.5 208.4,174.5 208.4,175.8 208.8,176.3 208.8,175.5 209.1,175.2 209.1,176.3 209.3,177.7 209.3,176.7 209.6,176.1 209.6,176.2 209.9,177.7 209.9,176.5 210.3,177.3 210.3,177.9 210.5,177.9 210.5,177.2 210.9,176.7 210.9,178.9 211.2,179.3 211.2,176.1 211.4,178.3 211.4,179.8 211.7,179.4 211.7,177.5 212.0,178.6 212.0,181.1 212.3,179.9 212.3,178.1 212.6,179.2 212.6,179.8 212.9,180.3 212.9,179.4 213.2,179.1 213.2,180.2 213.5,181.4 213.5,179.4 213.9,179.4 213.9,181.4 214.2,181.3 214.2,180.2 214.4,180.6 214.4,182.3 214.8,183.0 214.8,181.5 215.0,181.2 215.0,182.8 215.3,183.7 215.3,182.2 215.6,182.3 215.6,183.1 216.0,183.6 216.0,181.7 216.3,182.8 216.3,184.0 216.6,184.4 216.6,183.8 216.9,182.1 216.9,184.0 217.2,184.6 217.2,183.7 217.4,184.2 217.4,185.3 217.7,187.2 217.7,182.6 218.0,183.9 218.0,186.6 218.4,187.7 218.4,185.6 218.7,183.9 218.7,185.1 219.0,187.2 219.0,185.4 219.3,183.6 219.3,186.8 219.5,187.2 219.5,186.7 219.9,186.2 219.9,186.8 220.2,187.4 220.2,185.8 220.5,186.8 220.5,189.7 220.7,188.3 220.7,187.2 221.0,186.5 221.0,189.4 221.3,188.6 221.3,187.9 221.6,188.4 221.6,189.6 221.9,189.6 221.9,188.4 222.2,188.8 222.2,190.1 222.5,190.4 222.5,188.6 222.8,189.6 222.8,190.1 223.2,191.1 223.2,189.4 223.5,190.0 223.5,190.8 223.7,191.4 223.7,189.2 224.1,190.0 224.1,191.9 224.4,192.6 224.4,190.4 224.7,190.6 224.7,192.1 224.9,193.1 224.9,190.7 225.2,191.6 225.2,193.4 225.5,193.2 225.5,190.5 225.8,190.8 225.8,192.9 226.1,193.4 226.1,190.9 226.4,192.3 226.4,193.3 226.7,193.9 226.7,192.2 227.0,192.5 227.0,194.0 227.3,194.8 227.3,193.4 227.7,193.3 227.7,195.7 228.0,195.5 228.0,194.4 228.2,193.1 228.2,194.8 228.5,196.5 228.5,193.0 228.9,194.5 228.9,195.6 229.2,196.7 229.2,194.3 229.5,194.0 229.5,196.3 229.8,197.4 229.8,195.7 230.1,195.9 230.1,197.8 230.3,197.5 230.3,196.6 230.6,195.0 230.6,197.7 230.9,197.8 230.9,195.6 231.2,196.9 231.2,198.4 231.6,198.3 231.6,196.2 231.9,197.0 231.9,199.0 232.1,199.2 232.1,197.3 232.4,197.9 232.4,199.0 232.7,199.4 232.7,197.5 233.0,198.2 233.0,200.2 233.3,199.8 233.3,198.3 233.7,197.5 233.7,200.1 234.0,201.6 234.0,198.9 234.3,198.9 234.3,201.5 234.5,202.0 234.5,199.1 234.8,198.9 234.8,202.6 235.2,202.1 235.2,199.9 235.5,200.8 235.5,202.7 235.8,202.8 235.8,200.3 236.1,200.1 236.1,202.3 236.4,202.7 236.4,200.5 236.7,201.4 236.7,203.8 236.9,203.2 236.9,201.8 237.2,202.0 237.2,203.5 237.5,204.3 237.5,201.3 237.9,202.1 237.9,204.1 238.2,205.0 238.2,202.8 238.5,202.9 238.5,205.0 238.8,205.4 238.8,203.1 239.1,202.9 239.1,205.6 239.4,205.3 239.4,203.8 239.6,204.2 239.6,205.4 239.9,205.8 239.9,204.2 240.2,204.6 240.2,205.9 240.6,206.6 240.6,204.6 240.9,204.4 240.9,206.8 241.2,207.2 241.2,205.2 241.5,205.3 241.5,206.9 241.8,207.9 241.8,206.2 242.0,205.5 242.0,207.8 242.4,208.6 242.4,206.6 242.6,206.3 242.6,208.3 242.9,211.1 242.9,205.7 243.2,206.6 243.2,208.5 243.5,209.6 243.5,207.3 243.8,207.2 243.8,209.4 244.1,209.4 244.1,207.9 244.5,207.4 244.5,209.6 244.8,210.8 244.8,208.2 245.1,208.4 245.1,210.4 245.3,210.5 245.3,207.1 245.6,208.1 245.6,210.6 245.9,210.7 245.9,209.0 246.2,208.7 246.2,211.2 246.6,210.8 246.6,209.3 246.9,210.1 246.9,211.8 247.1,211.9 247.1,209.7 247.4,209.9 247.4,211.6 247.8,212.3 247.8,210.2 248.1,210.8 248.1,213.0 248.4,212.4 248.4,209.5 248.6,211.0 248.6,212.8 248.9,213.9 248.9,211.7 249.3,211.2 249.3,213.7 249.6,214.3 249.6,212.5 249.8,211.9 249.8,214.7 250.1,214.5 250.1,212.1 250.4,212.0 250.4,214.1 250.7,214.3 250.7,212.3 251.0,212.7 251.0,215.1 251.4,215.7 251.4,212.5 251.7,213.9 251.7,215.7 252.0,215.8 252.0,213.1 252.3,213.5 252.3,216.1 252.6,216.1 252.6,213.3 252.9,213.7 252.9,215.8 253.1,216.2 253.1,214.4 253.4,214.4 253.4,216.6 253.8,217.3 253.8,214.7 254.1,214.9 254.1,217.3 254.3,217.3 254.3,214.6 254.6,214.5 254.6,217.3 255.0,217.7 255.0,216.1 255.3,215.6 255.3,218.2 255.6,218.4 255.6,215.7 255.9,215.6 255.9,219.3 256.2,218.7 256.2,216.6 256.4,217.0 256.4,219.4 256.8,219.1 256.8,216.1 257.1,216.8 257.1,219.3 257.4,219.4 257.4,217.2 257.7,217.3 257.7,219.7 258.0,220.3 258.0,217.9 258.3,217.8 258.3,220.1 258.6,220.3 258.6,218.2 258.9,218.1 258.9,221.3 259.2,220.7 259.2,218.1 259.5,219.4 259.5,220.6 259.8,222.3 259.8,219.2 260.0,219.9 260.0,222.0 260.3,222.6 260.3,219.8 260.6,219.2 260.6,221.9 260.9,222.0 260.9,219.8 261.2,220.2 261.2,222.1 261.6,222.6 261.6,220.0 261.9,220.6 261.9,223.2 262.2,223.5 262.2,220.4 262.5,220.9 262.5,223.4 262.7,223.9 262.7,220.6 263.0,220.8 263.0,223.4 263.3,223.8 263.3,221.9 263.6,221.4 263.6,224.6 264.0,224.4 264.0,222.0 264.3,221.7 264.3,224.5 264.6,224.8 264.6,221.3 264.9,222.8 264.9,225.0 265.2,225.4 265.2,222.7 265.5,222.2 265.5,225.1 265.7,225.4 265.7,222.5 266.0,222.8 266.0,226.0 266.4,226.4 266.4,223.5 266.7,223.4 266.7,226.6 266.9,226.9 266.9,223.8 267.2,224.7 267.2,227.5 267.5,226.0 267.5,223.9 267.8,224.6 267.8,226.8 268.1,227.1 268.1,224.7 268.4,224.4 268.4,226.8 268.7,227.8 268.7,224.9 269.1,224.6 269.1,227.6 269.3,228.0 269.3,224.9 269.6,225.9 269.6,227.8 270.0,228.2 270.0,225.8 270.3,225.7 270.3,229.2 270.6,229.0 270.6,225.8 270.9,226.4 270.9,228.8 271.2,228.5 271.2,226.3 271.4,226.3 271.4,229.1 271.8,229.9 271.8,226.3 272.1,226.9 272.1,229.8 272.3,229.6 272.3,226.8 272.6,227.1 272.6,229.5 272.9,229.8 272.9,227.1 273.2,226.9 273.2,230.2 273.5,230.4 273.5,227.1 273.8,227.8 273.8,229.9 274.1,230.5 274.1,229.0 274.4,228.5 274.4,230.5 274.7,230.5 274.7,228.4 275.0,229.0 275.0,230.8 275.4,231.5 275.4,229.0 275.7,228.6 275.7,231.5 275.9,231.8 275.9,229.5 276.2,228.7 276.2,231.8 276.5,232.7 276.5,229.1 276.8,229.6 276.8,232.0 277.2,232.0 277.2,229.7 277.4,229.7 277.4,232.6 277.8,233.3 277.8,230.2 278.1,230.8 278.1,233.2 278.4,232.8 278.4,230.4 278.7,230.9 278.7,233.4 279.0,233.4 279.0,230.0 279.3,230.9 279.3,233.9 279.5,234.3 279.5,231.2 279.9,230.9 279.9,233.4 280.2,234.0 280.2,231.4 280.4,231.1 280.4,234.3 280.7,234.1 280.7,232.4 281.0,231.5 281.0,235.0 281.3,234.4 281.3,232.0 281.6,231.7 281.6,234.6 281.9,235.0 281.9,232.0 282.3,232.6 282.3,235.6 282.6,235.2 282.6,231.8 282.8,231.2 282.8,235.9 283.2,235.8 283.2,232.9 283.5,233.5 283.5,236.1 283.8,235.5 283.8,233.0 284.0,233.5 284.0,237.2 284.3,236.4 284.3,233.4 284.7,233.8 284.7,237.1 285.0,236.7 285.0,234.2 285.3,233.7 285.3,237.4 285.5,237.1 285.5,233.6 285.8,234.3 285.8,237.3 286.2,237.2 286.2,233.4 286.5,234.5 286.5,237.9 286.8,237.0 286.8,234.3 287.0,234.5 287.0,237.7 287.3,237.6 287.3,234.7 287.7,234.1 287.7,237.7 288.0,237.4 288.0,235.6 288.3,235.2 288.3,238.8 288.5,238.7 288.5,235.5 288.8,235.4 288.8,238.2 289.2,239.4 289.2,236.0 289.5,236.0 289.5,240.2 289.8,239.2 289.8,236.0 290.1,235.0 290.1,239.3 290.4,239.3 290.4,236.1 290.6,236.8 290.6,238.6 290.9,240.2 290.9,235.7 291.3,237.0 291.3,239.8 291.6,239.8 291.6,237.2 291.8,236.6 291.8,239.6 292.1,240.1 292.1,237.0 292.4,237.3 292.4,240.3 292.7,240.2 292.7,236.7 293.1,237.1 293.1,240.6 293.4,240.6 293.4,237.8 293.7,236.9 293.7,239.9 293.9,240.4 293.9,237.8 294.2,237.7 294.2,241.1 294.5,241.0 294.5,237.9 294.8,237.6 294.8,240.5 295.1,241.5 295.1,238.3 295.5,238.2 295.5,241.6 295.8,241.4 295.8,238.3 296.1,238.3 296.1,242.2 296.4,242.5 296.4,238.2 296.6,239.4 296.6,242.5 297.0,241.6 297.0,239.1 297.2,239.5 297.2,242.7 297.5,242.0 297.5,239.1 297.9,238.9 297.9,242.2 298.2,242.5 298.2,239.6 298.5,239.8 298.5,242.5 298.8,242.5 298.8,240.0 299.1,239.4 299.1,242.8 299.4,243.1 299.4,239.7 299.6,239.6 299.6,243.6 299.9,242.9 299.9,239.0 300.2,239.9 300.2,244.0 300.5,243.0 300.5,240.1 300.8,240.8 300.8,243.4 301.2,243.2 301.2,240.0 301.4,241.5 301.4,244.1 301.8,243.5 301.8,240.6 302.0,241.1 302.0,244.2 302.4,244.2 302.4,240.8 302.7,240.9 302.7,244.4 303.0,244.3 303.0,240.7 303.3,241.0 303.3,244.5 303.6,245.4 303.6,241.8 303.9,241.0 303.9,244.2 304.2,244.7 304.2,242.0 304.5,241.5 304.5,245.0 304.8,245.5 304.8,242.0 305.1,241.3 305.1,244.8 305.4,245.1 305.4,241.5 305.6,241.9 305.6,245.7 305.9,245.3 305.9,241.0 306.2,242.3 306.2,246.1 306.6,245.9 306.6,241.8 306.8,242.7 306.8,245.4 307.2,245.6 307.2,242.3 307.5,242.7 307.5,246.0 307.7,246.5 307.7,242.8 308.1,242.4 308.1,246.2 308.4,245.7 308.4,242.8 308.6,243.0 308.6,246.5 309.0,246.8 309.0,243.0 309.2,243.0 309.2,245.9 309.5,246.6 309.5,243.0 309.9,243.5 309.9,246.4 310.1,247.0 310.1,243.2 310.4,243.9 310.4,246.6 310.7,246.9 310.7,242.7 311.1,243.5 311.1,247.0 311.3,246.8 311.3,243.9 311.6,243.7 311.6,248.0 311.9,247.3 311.9,243.7 312.2,244.7 312.2,247.7 312.6,248.1 312.6,243.4 312.8,243.7 312.8,247.6 313.1,247.5 313.1,243.8 313.4,244.2 313.4,247.3 313.7,247.8 313.7,244.4 314.1,244.8 314.1,247.8 314.3,248.9 314.3,244.6 314.6,244.9 314.6,247.8 314.9,248.4 314.9,244.6 315.2,244.6 315.2,248.0 315.5,247.7 315.5,245.0 315.8,244.5 315.8,248.8 316.2,248.5 316.2,244.9 316.4,244.4 316.4,248.4 316.7,248.9 316.7,245.3 317.1,245.6 317.1,248.5 317.4,249.1 317.4,245.0 317.7,245.2 317.7,249.0 318.0,249.4 318.0,245.2 318.2,245.5 318.2,249.0 318.5,248.8 318.5,245.9 318.8,245.9 318.8,249.4 319.2,249.6 319.2,245.1 319.5,245.7 319.5,249.1 319.7,249.2 319.7,246.1 320.0,246.0 320.0,249.5 320.3,249.1 320.3,245.5 320.7,246.1 320.7,249.9 320.9,249.6 320.9,246.4 321.2,246.3 321.2,249.9 321.6,249.8 321.6,246.4 321.9,246.1 321.9,249.8 322.1,249.6 322.1,246.3 322.4,245.1 322.4,250.1 322.7,250.5 322.7,246.5 323.1,246.5 323.1,250.1 323.4,250.6 323.4,246.7 323.7,246.7 323.7,250.2 323.9,250.0 323.9,246.5 324.3,246.5 324.3,251.0 324.6,250.5 324.6,246.4 324.9,246.6 324.9,250.4 325.2,250.5 325.2,246.7 325.5,247.1 325.5,252.1 325.8,251.5 325.8,247.0 326.1,246.9 326.1,250.4 326.4,250.9 326.4,246.5 326.7,246.7 326.7,251.0 326.9,250.8 326.9,247.2 327.3,246.9 327.3,250.8 327.6,251.0 327.6,247.1 327.8,247.5 327.8,251.4 328.2,250.9 328.2,246.6 328.5,247.3 328.5,251.1 328.8,251.9 328.8,247.4 329.0,247.1 329.0,251.0 329.4,251.2 329.4,247.7 329.7,247.7 329.7,251.4 330.0,251.3 330.0,247.4 330.3,247.6 330.3,252.3 330.5,252.1 330.5,248.3 330.8,247.8 330.8,251.4 331.2,250.9 331.2,247.5 331.5,248.1 331.5,251.3 331.8,251.9 331.8,248.3 332.1,247.8 332.1,251.4 332.4,251.6 332.4,247.0 332.6,248.1 332.6,251.6 332.9,252.6 332.9,248.2 333.2,248.3 333.2,251.6 333.5,251.6 333.5,247.8 333.8,247.6 333.8,251.9 334.1,252.3 334.1,248.1 334.5,248.2 334.5,252.3 334.8,251.7 334.8,248.2 335.1,248.5 335.1,252.3 335.3,252.2 335.3,248.6 335.6,248.2 335.6,252.0 336.0,252.2 336.0,248.4 336.3,248.7 336.3,251.9 336.5,251.5 336.5,248.3 336.9,248.7 336.9,252.4 337.2,252.5 337.2,248.3 337.5,248.7 337.5,252.7 337.7,253.0 337.7,248.7 338.0,248.6 338.0,252.3 338.4,252.8 338.4,248.6 338.6,248.2 338.6,252.3 338.9,252.5 338.9,248.3 339.3,248.8 339.3,252.8 339.6,252.1 339.6,247.7 339.8,248.8 339.8,252.4 340.2,252.9 340.2,249.2 340.5,248.8 340.5,252.9 340.7,252.7 340.7,248.6 341.0,248.6 341.0,252.6 341.3,252.6 341.3,248.3 341.7,248.3 341.7,253.2 342.0,252.7 342.0,247.6 342.3,248.9 342.3,252.5 342.6,252.6 342.6,249.1 342.9,249.0 342.9,252.7 343.2,253.2 343.2,249.1 343.5,249.4 343.5,253.0 343.7,252.8 343.7,249.1 344.0,249.3 344.0,252.4 344.4,252.6 344.4,248.9 344.7,249.3 344.7,252.4 344.9,252.8 344.9,248.5 345.3,249.0 345.3,253.5 345.6,252.6 345.6,249.5 345.8,248.7 345.8,253.1" fill="none" stroke="#0000ff" stroke-width="1.4" stroke-linejoin="round"/>
</g>
<path d="M51.1,30.7 H356.2 V254.1 H51.1 Z" fill="none" stroke="#111" stroke-width="1"/>
<text x="46.2" y="257.3" text-anchor="end" font-size="12">0.0</text>
<text x="46.2" y="212.6" text-anchor="end" font-size="12">0.2</text>
<text x="46.2" y="167.9" text-anchor="end" font-size="12">0.4</text>
<text x="46.2" y="123.3" text-anchor="end" font-size="12">0.6</text>
<text x="46.2" y="78.6" text-anchor="end" font-size="12">0.8</text>
<text x="46.2" y="33.9" text-anchor="end" font-size="12">1.0</text>
<text x="70.6" y="268.8" text-anchor="middle" font-size="12">1E-3</text>
<text x="156.3" y="268.8" text-anchor="middle" font-size="12">0.01</text>
<text x="242.9" y="268.8" text-anchor="middle" font-size="12">0.1</text>
<text x="329.5" y="268.8" text-anchor="middle" font-size="12">1</text>
<text x="204.0" y="291.1" text-anchor="middle" font-size="14.2">Time [s]</text>
<text transform="translate(11.9,142.2) rotate(-90)" text-anchor="middle" font-size="14.4">Relaxation signal [normalized]</text>
<rect x="238.6" y="33.5" width="114.1" height="152.7" fill="#fff" stroke="#333" stroke-width="0.85"/>
<path d="M239.8,41.1 H265.2" stroke="#000" stroke-width="1.3" stroke-dasharray="2.7 2.55" fill="none"/>
<text x="268.2" y="45.1" font-size="11.3">Reference</text>
<path d="M239.8,54.9 H265.2" stroke="#ee3030" stroke-width="1.45" fill="none"/>
<text x="268.2" y="58.9" font-size="11.3">15 s after mixing</text>
<path d="M239.8,68.8 H265.2" stroke="#40dc40" stroke-width="1.45" fill="none"/>
<text x="268.2" y="72.8" font-size="11.3">30 s</text>
<path d="M239.8,82.6 H265.2" stroke="#1818d0" stroke-width="1.45" fill="none"/>
<text x="268.2" y="86.6" font-size="11.3">45 s</text>
<path d="M239.8,96.4 H265.2" stroke="#d838d8" stroke-width="1.45" fill="none"/>
<text x="268.2" y="100.4" font-size="11.3">60 s</text>
<path d="M239.8,110.2 H265.2" stroke="#181878" stroke-width="1.45" fill="none"/>
<text x="268.2" y="114.2" font-size="11.3">75 s</text>
<path d="M239.8,124.1 H265.2" stroke="#a87068" stroke-width="1.45" fill="none"/>
<text x="268.2" y="128.1" font-size="11.3">90 s</text>
<path d="M239.8,137.9 H265.2" stroke="#208820" stroke-width="1.45" fill="none"/>
<text x="268.2" y="141.9" font-size="11.3">105 s</text>
<path d="M239.8,151.7 H265.2" stroke="#683848" stroke-width="1.45" fill="none"/>
<text x="268.2" y="155.7" font-size="11.3">120 s</text>
<path d="M239.8,165.6 H265.2" stroke="#ffdccc" stroke-width="1.45" fill="none"/>
<text x="268.2" y="169.6" font-size="11.3">125 s</text>
<path d="M239.8,179.4 H265.2" stroke="#1010e8" stroke-width="1.7" fill="none"/>
<text x="268.2" y="183.4" font-size="11.3">285 s</text>
<!-- panel B -->
<path d="M51.1,567.50 h4.6 M51.1,545.22 h2.4 M51.1,522.94 h4.6 M51.1,500.66 h2.4 M51.1,478.38 h4.6 M51.1,456.10 h2.4 M51.1,433.82 h4.6 M51.1,411.54 h2.4 M51.1,389.26 h4.6 M51.1,366.98 h2.4 M51.1,344.70 h4.6 M57.57,567.5 v-2.4 M63.25,567.5 v-2.4 M68.17,567.5 v-2.4 M72.52,567.5 v-2.4 M76.40,567.5 v-4.6 M101.96,567.5 v-2.4 M116.91,567.5 v-2.4 M127.52,567.5 v-2.4 M135.75,567.5 v-2.4 M142.47,567.5 v-2.4 M148.15,567.5 v-2.4 M153.08,567.5 v-2.4 M157.42,567.5 v-2.4 M161.30,567.5 v-4.6 M186.86,567.5 v-2.4 M201.81,567.5 v-2.4 M212.42,567.5 v-2.4 M220.65,567.5 v-2.4 M227.37,567.5 v-2.4 M233.06,567.5 v-2.4 M237.98,567.5 v-2.4 M242.32,567.5 v-2.4 M246.21,567.5 v-4.6 M271.77,567.5 v-2.4 M286.72,567.5 v-2.4 M297.33,567.5 v-2.4 M305.55,567.5 v-2.4 M312.28,567.5 v-2.4 M317.96,567.5 v-2.4 M322.88,567.5 v-2.4 M327.23,567.5 v-2.4 M331.11,567.5 v-4.6" fill="none" stroke="#111" stroke-width="1"/>
<g>
<path d="M51.1,344.7 57.8,346.9 63.4,349.2 68.3,351.7 72.7,354.1 76.5,356.0 80.0,357.9 83.2,359.5 86.2,361.5 88.9,363.3 91.4,365.7 93.8,366.0 96.0,368.7 98.1,369.8 100.1,371.7 102.0,371.9 103.8,374.1 105.5,375.9 107.2,376.9 108.7,378.6 110.2,379.5 111.7,380.6 113.1,380.8 114.4,382.4 115.7,383.3 117.0,384.7 118.2,387.8 119.3,386.6 120.5,388.3 121.6,389.1 122.6,390.3 123.7,391.1 124.7,390.0 125.7,392.4 126.6,392.1 127.6,393.0 128.5,395.6 129.3,395.6 130.2,395.6 131.1,396.3 131.9,398.1 132.7,397.4 133.5,400.5 134.3,400.7 135.0,401.6 135.8,402.4 136.5,402.9 137.2,403.8 137.9,403.3 138.6,404.3 139.3,404.3 139.9,406.8 140.6,406.2 141.2,407.1 141.9,406.7 142.5,407.6 143.1,408.2 143.7,408.4 144.3,408.8 144.9,410.8 145.4,410.3 146.0,411.4 146.6,411.7 147.1,411.9 147.6,412.5 148.2,413.8 148.7,413.8 149.2,413.5 149.7,414.2 150.2,414.8 150.7,415.0 151.2,417.1 151.7,416.7 152.2,418.3 152.6,417.0 153.1,417.7 153.6,420.1 154.0,418.0 154.4,418.9 154.9,419.2 155.3,420.1 155.8,420.9 156.2,421.8 156.6,422.3 157.0,421.6 157.4,422.4 157.8,421.8 158.2,423.5 158.6,422.4 159.0,425.0 159.4,422.9 159.8,425.2 160.2,425.2 160.6,424.8 160.9,427.3 161.3,425.8 161.7,428.1 162.0,426.8 162.4,427.4 162.8,426.1 163.1,427.5 163.5,428.4 163.8,428.1 164.2,428.5 164.5,428.5 164.8,429.5 165.2,429.5 165.5,432.2 165.8,430.1 166.1,431.0 166.5,431.6 166.8,431.6 167.1,432.2 167.4,431.4 167.7,431.9 168.0,432.1 168.3,432.0 168.6,434.0 168.9,433.7 169.2,432.2 169.5,434.2 169.8,435.5 170.1,434.7 170.4,435.5 170.7,435.8 171.0,436.0 171.3,435.4 171.6,435.9 171.8,436.3 172.1,437.6 172.4,437.0 172.7,436.2 173.1,437.7 173.1,438.3 173.5,438.0 173.7,438.2 174.0,439.6 174.2,438.9 174.5,439.1 174.8,440.1 175.1,439.8 175.1,439.2 175.5,438.5 175.8,440.7 176.0,441.9 176.3,439.7 176.6,440.1 176.6,440.8 177.0,442.0 177.2,442.1 177.5,441.2 177.8,443.6 177.8,442.3 178.2,442.3 178.4,444.0 178.8,442.8 178.8,443.3 179.1,444.4 179.3,444.2 179.7,445.4 179.7,443.1 180.0,445.2 180.2,446.1 180.6,444.5 180.6,446.5 180.9,445.9 181.1,447.6 181.4,446.0 181.4,445.5 181.7,446.5 182.1,446.1 182.1,447.7 182.4,447.7 182.7,447.4 182.7,446.0 183.0,448.4 183.3,447.7 183.3,448.4 183.6,448.7 183.9,448.8 183.9,448.7 184.2,449.3 184.5,448.7 184.5,450.2 184.8,449.4 185.1,450.8 185.1,448.3 185.4,450.1 185.7,450.6 185.7,450.9 185.9,450.3 186.2,451.7 186.2,451.2 186.6,451.3 186.6,452.3 186.9,452.5 187.1,452.2 187.1,452.0 187.5,452.3 187.5,453.1 187.8,453.0 188.0,453.4 188.0,452.2 188.4,452.2 188.4,453.4 188.7,453.7 188.9,454.0 188.9,453.8 189.3,453.7 189.3,455.7 189.5,453.6 189.8,455.5 189.8,454.6 190.1,454.6 190.1,455.0 190.5,456.1 190.5,455.8 190.8,455.4 190.8,455.4 191.0,455.8 191.3,458.0 191.3,455.9 191.6,456.4 191.6,457.7 191.9,456.7 191.9,456.2 192.3,457.0 192.3,457.6 192.6,459.1 192.6,457.1 192.9,458.1 192.9,458.5 193.2,459.7 193.2,458.1 193.5,457.5 193.5,457.5 193.8,458.7 193.8,458.3 194.0,459.1 194.3,459.1 194.3,459.4 194.6,459.4 194.6,458.8 194.9,459.1 194.9,460.0 195.3,461.8 195.3,460.5 195.6,460.5 195.6,461.2 195.9,461.3 195.9,460.5 196.2,461.5 196.2,462.2 196.5,462.3 196.5,460.1 196.8,461.7 196.8,461.9 197.0,461.8 197.0,461.1 197.3,462.2 197.3,463.0 197.7,463.7 197.7,462.0 198.0,462.5 198.0,463.5 198.3,463.1 198.3,461.6 198.5,462.7 198.5,463.3 198.8,464.2 198.8,463.6 199.1,463.1 199.1,463.9 199.5,463.3 199.5,463.1 199.7,464.6 199.7,466.2 200.1,465.8 200.1,465.5 200.4,463.8 200.4,465.9 200.6,466.8 200.6,466.7 200.9,465.5 200.9,466.8 201.3,467.4 201.3,465.7 201.6,465.0 201.6,466.4 201.9,467.2 201.9,467.0 202.1,466.7 202.1,467.3 202.4,469.0 202.4,466.6 202.7,468.1 202.7,468.5 203.0,468.3 203.0,466.5 203.3,467.8 203.3,468.7 203.6,468.9 203.6,468.2 204.0,468.6 204.0,469.2 204.3,470.0 204.3,467.9 204.5,469.1 204.5,470.8 204.9,470.5 204.9,469.7 205.2,470.4 205.2,470.9 205.4,471.4 205.4,469.1 205.8,470.5 205.8,472.1 206.1,472.0 206.1,470.6 206.3,470.9 206.3,471.5 206.6,472.8 206.6,470.6 207.0,470.8 207.0,472.9 207.3,473.3 207.3,470.9 207.6,471.2 207.6,472.8 207.8,473.5 207.8,471.7 208.1,472.2 208.1,473.0 208.4,474.2 208.4,472.8 208.7,473.5 208.7,474.4 209.0,475.6 209.0,474.0 209.4,473.5 209.4,474.3 209.7,475.7 209.7,474.5 209.9,474.3 209.9,475.4 210.2,475.7 210.2,474.8 210.5,474.5 210.5,476.1 210.8,476.4 210.8,476.0 211.1,474.9 211.1,476.9 211.4,477.2 211.4,476.1 211.8,475.7 211.8,477.5 212.1,477.1 212.1,476.0 212.3,476.1 212.3,477.2 212.7,477.5 212.7,476.4 213.0,476.2 213.0,478.1 213.2,478.8 213.2,477.8 213.6,477.1 213.6,479.5 213.9,479.2 213.9,477.6 214.1,477.5 214.1,478.5 214.4,480.5 214.4,478.8 214.7,477.3 214.7,480.7 215.0,480.0 215.0,478.3 215.3,479.2 215.3,480.8 215.6,481.2 215.6,479.9 215.9,479.2 215.9,481.5 216.2,483.4 216.2,480.7 216.6,480.5 216.6,482.1 216.8,483.5 216.8,481.2 217.1,480.8 217.1,482.2 217.5,483.2 217.5,481.3 217.8,481.6 217.8,483.8 218.1,483.9 218.1,483.2 218.3,481.3 218.3,483.2 218.6,484.2 218.6,482.0 219.0,483.0 219.0,484.3 219.3,483.9 219.3,482.6 219.6,483.8 219.6,484.9 219.9,484.4 219.9,483.4 220.2,483.4 220.2,485.8 220.5,486.3 220.5,483.3 220.8,484.0 220.8,485.2 221.1,486.1 221.1,484.0 221.3,484.6 221.3,486.6 221.6,487.0 221.6,486.0 222.0,484.8 222.0,487.8 222.3,488.0 222.3,484.1 222.6,486.7 222.6,487.8 222.8,487.4 222.8,486.2 223.1,485.7 223.1,487.6 223.5,488.8 223.5,486.5 223.8,486.9 223.8,489.5 224.1,488.7 224.1,488.0 224.3,487.3 224.3,489.7 224.6,489.3 224.6,486.7 225.0,488.0 225.0,490.2 225.3,490.3 225.3,487.9 225.5,488.4 225.5,490.4 225.9,490.5 225.9,488.3 226.2,490.4 226.2,491.6 226.4,491.6 226.4,490.2 226.8,490.4 226.8,492.5 227.1,491.3 227.1,489.3 227.4,489.6 227.4,491.7 227.7,491.7 227.7,491.0 227.9,491.3 227.9,492.7 228.2,493.1 228.2,489.9 228.5,491.2 228.5,493.0 228.9,494.4 228.9,491.0 229.2,491.4 229.2,493.1 229.5,494.2 229.5,492.6 229.8,492.4 229.8,494.9 230.0,494.8 230.0,492.3 230.4,492.6 230.4,494.9 230.7,494.9 230.7,493.1 230.9,492.8 230.9,495.0 231.3,495.8 231.3,493.7 231.6,494.2 231.6,495.7 231.9,497.5 231.9,493.6 232.2,495.2 232.2,497.6 232.4,496.1 232.4,494.7 232.7,494.7 232.7,496.5 233.0,497.6 233.0,495.1 233.3,495.0 233.3,497.6 233.7,498.6 233.7,495.4 234.0,496.0 234.0,497.6 234.3,497.8 234.3,496.0 234.5,495.9 234.5,498.2 234.8,498.2 234.8,496.8 235.1,495.4 235.1,499.2 235.4,499.7 235.4,497.1 235.7,497.2 235.7,499.9 236.1,499.4 236.1,498.2 236.4,498.5 236.4,499.9 236.6,500.7 236.6,498.8 237.0,498.5 237.0,500.3 237.3,500.8 237.3,499.1 237.5,498.7 237.5,501.5 237.8,501.7 237.8,500.2 238.1,500.1 238.1,501.0 238.4,501.8 238.4,500.2 238.8,499.5 238.8,503.3 239.0,502.3 239.0,500.3 239.3,500.9 239.3,502.5 239.6,503.3 239.6,500.5 240.0,500.6 240.0,504.0 240.3,502.9 240.3,501.5 240.6,502.6 240.6,504.0 240.9,504.9 240.9,502.1 241.2,501.5 241.2,503.6 241.5,504.5 241.5,503.0 241.7,501.4 241.7,506.0 242.0,505.9 242.0,503.5 242.3,503.1 242.3,505.2 242.7,506.3 242.7,503.5 243.0,503.7 243.0,506.3 243.3,505.9 243.3,503.6 243.6,504.0 243.6,506.3 243.8,507.3 243.8,503.2 244.1,503.7 244.1,506.9 244.5,506.5 244.5,505.4 244.8,505.2 244.8,506.9 245.0,507.1 245.0,505.3 245.3,505.9 245.3,507.4 245.6,507.7 245.6,505.4 246.0,504.5 246.0,508.4 246.3,508.3 246.3,505.8 246.6,506.3 246.6,507.6 246.8,508.6 246.8,506.8 247.2,506.8 247.2,509.6 247.5,509.2 247.5,506.5 247.7,507.1 247.7,509.1 248.0,510.9 248.0,508.4 248.4,507.9 248.4,510.8 248.7,510.2 248.7,508.5 248.9,507.8 248.9,511.4 249.3,510.6 249.3,508.6 249.6,509.1 249.6,510.7 249.9,511.4 249.9,509.1 250.2,508.9 250.2,510.9 250.5,513.1 250.5,509.1 250.7,509.9 250.7,511.6 251.0,512.4 251.0,508.0 251.3,509.8 251.3,512.5 251.7,512.8 251.7,509.6 252.0,511.1 252.0,512.5 252.2,513.5 252.2,511.7 252.5,511.4 252.5,513.4 252.9,514.1 252.9,511.6 253.2,511.0 253.2,514.0 253.5,514.5 253.5,512.3 253.7,512.1 253.7,514.3 254.0,514.4 254.0,512.2 254.3,511.5 254.3,515.0 254.7,514.9 254.7,512.7 255.0,512.2 255.0,515.3 255.3,516.2 255.3,512.8 255.6,513.3 255.6,515.5 255.9,516.2 255.9,513.6 256.2,513.5 256.2,516.2 256.4,516.8 256.4,513.7 256.8,513.6 256.8,517.4 257.1,516.8 257.1,515.3 257.4,514.4 257.4,517.3 257.7,517.9 257.7,514.8 258.0,514.0 258.0,517.7 258.2,518.5 258.2,515.3 258.6,516.3 258.6,517.7 258.9,518.0 258.9,515.8 259.2,516.4 259.2,519.0 259.4,518.5 259.4,515.8 259.7,515.6 259.7,518.9 260.0,519.0 260.0,516.5 260.4,517.0 260.4,520.0 260.7,520.2 260.7,516.9 261.0,517.6 261.0,519.5 261.2,519.4 261.2,517.5 261.6,517.8 261.6,520.1 261.9,521.1 261.9,517.3 262.2,518.5 262.2,520.8 262.5,521.0 262.5,518.2 262.7,517.9 262.7,521.3 263.1,521.1 263.1,518.7 263.4,519.2 263.4,521.7 263.7,521.9 263.7,519.0 264.0,519.2 264.0,522.0 264.2,521.9 264.2,519.3 264.6,519.5 264.6,522.2 264.9,523.2 264.9,519.7 265.2,519.4 265.2,522.9 265.4,522.7 265.4,520.7 265.7,519.7 265.7,522.8 266.0,523.5 266.0,521.1 266.3,521.1 266.3,522.9 266.6,523.7 266.6,521.7 266.9,521.8 266.9,523.5 267.3,524.2 267.3,521.9 267.6,521.2 267.6,524.9 267.9,524.5 267.9,521.4 268.1,521.3 268.1,524.3 268.5,525.1 268.5,522.7 268.8,522.6 268.8,524.2 269.1,526.0 269.1,522.8 269.3,522.2 269.3,525.5 269.7,526.5 269.7,522.3 270.0,522.7 270.0,526.4 270.3,526.3 270.3,523.5 270.5,523.6 270.5,525.8 270.8,526.4 270.8,523.3 271.1,522.7 271.1,527.5 271.4,526.5 271.4,524.1 271.7,524.7 271.7,527.3 272.1,527.5 272.1,523.1 272.4,524.4 272.4,528.3 272.7,527.4 272.7,523.6 272.9,524.5 272.9,528.5 273.2,528.0 273.2,524.4 273.5,525.3 273.5,528.3 273.8,528.6 273.8,525.4 274.2,525.5 274.2,529.2 274.5,528.5 274.5,525.8 274.8,526.2 274.8,529.2 275.1,529.1 275.1,525.3 275.4,526.2 275.4,529.3 275.7,530.3 275.7,526.9 276.0,527.1 276.0,529.5 276.2,530.2 276.2,527.2 276.6,526.1 276.6,531.2 276.8,530.7 276.8,526.9 277.1,527.1 277.1,529.8 277.4,530.9 277.4,527.3 277.7,528.3 277.7,530.7 278.0,530.6 278.0,528.1 278.4,527.3 278.4,530.7 278.7,532.4 278.7,527.6 279.0,528.9 279.0,531.6 279.3,532.2 279.3,528.1 279.6,528.2 279.6,531.8 279.9,532.0 279.9,529.0 280.1,529.0 280.1,531.8 280.4,532.1 280.4,529.5 280.8,530.0 280.8,532.8 281.1,532.2 281.1,530.0 281.4,529.8 281.4,533.2 281.7,534.5 281.7,529.8 281.9,529.7 281.9,533.3 282.2,534.0 282.2,529.8 282.6,529.6 282.6,533.7 282.9,533.5 282.9,531.2 283.2,530.2 283.2,534.2 283.4,534.0 283.4,530.8 283.8,530.8 283.8,533.5 284.0,534.8 284.0,530.9 284.3,531.9 284.3,536.3 284.6,534.5 284.6,532.2 284.9,531.6 284.9,534.3 285.3,535.3 285.3,532.6 285.6,532.4 285.6,535.3 285.9,536.2 285.9,532.9 286.2,531.8 286.2,535.3 286.5,536.7 286.5,532.4 286.7,532.6 286.7,536.3 287.0,536.2 287.0,533.3 287.4,533.1 287.4,536.4 287.7,537.2 287.7,533.3 288.0,533.0 288.0,536.8 288.3,536.8 288.3,533.2 288.6,533.2 288.6,536.1 288.8,536.7 288.8,534.0 289.1,532.9 289.1,537.0 289.4,536.9 289.4,533.7 289.7,534.4 289.7,537.5 290.1,538.3 290.1,534.6 290.4,534.5 290.4,537.5 290.7,537.8 290.7,534.5 291.0,535.4 291.0,538.2 291.3,538.5 291.3,535.1 291.5,534.4 291.5,539.1 291.9,538.6 291.9,534.3 292.2,535.3 292.2,538.2 292.4,539.3 292.4,535.1 292.7,536.2 292.7,538.7 293.0,539.3 293.0,536.2 293.3,536.1 293.3,539.7 293.7,539.9 293.7,536.0 293.9,535.8 293.9,539.6 294.2,539.1 294.2,536.8 294.6,536.1 294.6,540.0 294.9,540.6 294.9,537.0 295.2,536.9 295.2,539.7 295.5,540.0 295.5,536.6 295.8,537.2 295.8,540.9 296.1,540.4 296.1,537.2 296.3,536.5 296.3,542.0 296.7,541.6 296.7,537.5 297.0,538.3 297.0,540.7 297.3,541.6 297.3,537.7 297.6,537.9 297.6,541.4 297.8,541.4 297.8,538.3 298.2,538.1 298.2,541.4 298.5,543.2 298.5,537.9 298.7,538.6 298.7,541.4 299.1,542.4 299.1,538.7 299.3,537.6 299.3,542.7 299.6,542.2 299.6,539.1 299.9,539.1 299.9,542.0 300.2,542.1 300.2,537.9 300.5,538.9 300.5,543.1 300.9,543.0 300.9,538.6 301.2,539.0 301.2,542.9 301.5,543.0 301.5,539.5 301.8,539.3 301.8,542.9 302.1,543.1 302.1,540.2 302.4,539.8 302.4,543.3 302.7,544.3 302.7,539.8 303.0,540.2 303.0,543.8 303.3,544.0 303.3,540.0 303.5,540.2 303.5,543.6 303.8,543.9 303.8,540.3 304.1,540.5 304.1,544.6 304.4,544.7 304.4,540.7 304.8,540.9 304.8,544.5 305.1,544.0 305.1,540.7 305.4,540.7 305.4,545.0 305.6,544.9 305.6,540.9 305.9,540.9 305.9,545.2 306.3,544.8 306.3,541.7 306.6,540.9 306.6,545.8 306.9,545.5 306.9,541.3 307.2,541.8 307.2,545.6 307.5,545.6 307.5,541.1 307.8,541.8 307.8,545.8 308.1,546.3 308.1,541.7 308.4,541.4 308.4,546.2 308.7,545.7 308.7,542.1 309.0,542.9 309.0,545.8 309.2,546.7 309.2,542.6 309.6,542.6 309.6,545.9 309.9,546.6 309.9,542.7 310.1,542.0 310.1,546.2 310.4,546.5 310.4,542.0 310.8,542.6 310.8,546.9 311.1,546.2 311.1,542.6 311.3,543.1 311.3,547.2 311.6,546.6 311.6,543.3 311.9,543.4 311.9,546.2 312.3,547.5 312.3,543.2 312.6,543.0 312.6,547.6 312.8,547.1 312.8,543.6 313.1,543.4 313.1,547.8 313.4,547.1 313.4,543.2 313.8,544.4 313.8,547.3 314.1,547.7 314.1,543.7 314.3,543.8 314.3,547.3 314.6,547.7 314.6,544.5 314.9,543.9 314.9,548.3 315.3,547.5 315.3,544.1 315.5,544.1 315.5,548.4 315.8,548.9 315.8,543.8 316.1,543.9 316.1,548.3 316.4,548.5 316.4,544.8 316.8,544.8 316.8,549.2 317.1,548.3 317.1,544.7 317.4,544.8 317.4,548.8 317.7,548.3 317.7,544.8 317.9,545.2 317.9,548.6 318.2,549.8 318.2,545.1 318.5,545.3 318.5,548.9 318.9,549.3 318.9,545.6 319.1,545.3 319.1,549.2 319.4,549.7 319.4,544.8 319.8,545.7 319.8,549.5 320.1,549.7 320.1,545.0 320.4,545.7 320.4,549.4 320.7,550.2 320.7,545.8 321.0,546.0 321.0,549.7 321.3,550.5 321.3,545.7 321.6,545.3 321.6,550.4 321.9,549.6 321.9,545.4 322.2,545.6 322.2,549.9 322.5,550.6 322.5,545.4 322.8,545.6 322.8,550.5 323.0,550.2 323.0,546.0 323.3,545.7 323.3,550.5 323.7,550.3 323.7,546.8 324.0,546.8 324.0,550.7 324.3,550.7 324.3,547.1 324.5,546.7 324.5,550.9 324.8,551.2 324.8,546.1 325.1,546.4 325.1,550.6 325.4,551.5 325.4,546.8 325.7,547.0 325.7,551.3 326.0,551.9 326.0,547.3 326.4,547.1 326.4,551.8 326.7,550.8 326.7,547.2 326.9,546.4 326.9,550.5 327.2,551.2 327.2,546.8 327.6,547.5 327.6,551.2 327.9,551.4 327.9,547.2 328.1,547.4 328.1,551.9 328.5,551.6 328.5,546.8 328.8,547.0 328.8,551.8 329.0,551.8 329.0,547.6 329.4,548.2 329.4,551.8 329.7,551.8 329.7,547.9 330.0,547.8 330.0,552.0 330.3,552.0 330.3,548.0 330.5,548.2 330.5,552.7 330.8,552.1 330.8,547.6 331.2,547.3 331.2,552.2 331.5,551.8 331.5,548.3 331.7,548.1 331.7,552.4 332.0,552.4 332.0,548.2 332.4,548.0 332.4,552.4 332.7,552.1 332.7,548.1 332.9,548.4 332.9,552.2 333.3,552.5 333.3,548.1 333.6,548.6 333.6,552.4 333.9,552.2 333.9,548.8 334.2,548.0 334.2,552.9 334.5,552.3 334.5,548.0 334.8,548.8 334.8,552.5 335.0,553.1 335.0,548.6 335.4,548.8 335.4,552.9 335.6,553.5 335.6,548.1 335.9,548.5 335.9,553.2 336.2,552.6 336.2,548.9 336.5,548.8 336.5,552.8 336.9,553.1 336.9,548.7 337.2,549.1 337.2,552.9 337.5,552.7 337.5,548.2 337.8,548.4 337.8,553.5 338.1,553.0 338.1,548.8 338.4,548.4 338.4,553.9 338.7,553.0 338.7,549.2 339.0,549.2 339.0,553.1 339.2,553.0 339.2,549.1 339.6,548.7 339.6,553.2 339.8,553.2 339.8,548.8 340.1,549.0 340.1,553.7 340.5,554.0 340.5,549.1 340.8,548.8 340.8,553.4 341.1,553.3 341.1,548.6 341.4,549.2 341.4,553.7 341.7,553.2 341.7,549.4 342.0,549.4 342.0,554.0 342.3,553.2 342.3,549.3 342.6,549.3 342.6,553.1 342.9,553.7 342.9,549.2 343.2,549.4 343.2,552.9 343.5,553.6 343.5,549.4 343.7,549.8 343.7,553.4 344.0,553.9 344.0,549.8 344.3,548.0 344.3,553.8 344.6,554.0 344.6,549.7 344.9,549.1 344.9,553.5 345.3,554.0 345.3,549.5 345.6,549.8 345.6,553.6 345.9,553.6 345.9,549.8 346.1,548.8 346.1,554.6 346.4,553.7 346.4,549.7" fill="none" stroke="#000000" stroke-width="1.3" stroke-linejoin="round"/>
<path d="M51.1,344.7 57.8,346.8 63.4,348.9 68.3,351.4 72.7,354.1 76.5,355.9 80.0,357.7 83.2,359.7 86.2,361.5 88.9,363.4 91.4,364.7 93.8,366.7 96.0,367.4 98.1,369.0 100.1,370.1 102.0,371.7 103.8,374.0 105.5,373.3 107.2,374.5 108.7,376.0 110.2,378.1 111.7,378.7 113.1,379.0 114.4,380.6 115.7,380.6 117.0,381.7 118.2,382.8 119.3,384.6 120.5,384.9 121.6,386.0 122.6,387.6 123.7,387.2 124.7,389.2 125.7,388.4 126.6,391.3 127.6,389.5 128.5,389.8 129.3,392.1 130.2,392.5 131.1,393.8 131.9,394.5 132.7,393.6 133.5,395.2 134.3,397.6 135.0,396.2 135.8,398.3 136.5,397.7 137.2,398.0 137.9,398.1 138.6,399.0 139.3,398.9 139.9,401.6 140.6,401.0 141.2,401.1 141.9,402.7 142.5,401.9 143.1,403.5 143.7,404.2 144.3,404.9 144.9,404.9 145.4,406.1 146.0,405.5 146.6,406.5 147.1,407.5 147.6,407.3 148.2,408.2 148.7,406.2 149.2,408.8 149.7,409.2 150.2,409.1 150.7,410.4 151.2,411.5 151.7,411.0 152.2,411.5 152.6,411.1 153.1,411.3 153.6,412.1 154.0,411.7 154.4,412.9 154.9,413.9 155.3,413.6 155.8,413.8 156.2,413.9 156.6,415.6 157.0,415.2 157.4,415.6 157.8,416.2 158.2,417.0 158.6,416.0 159.0,416.7 159.4,418.1 159.8,417.3 160.2,418.3 160.6,420.1 160.9,417.8 161.3,419.2 161.7,419.8 162.0,420.8 162.4,420.0 162.8,419.4 163.1,419.9 163.5,420.8 163.8,420.1 164.2,422.9 164.5,421.2 164.8,423.0 165.2,422.8 165.5,422.8 165.8,423.3 166.1,422.3 166.5,423.3 166.8,424.2 167.1,424.2 167.4,424.8 167.7,425.0 168.0,425.9 168.3,424.9 168.6,425.8 168.9,426.7 169.2,426.1 169.5,426.1 169.8,427.4 170.1,427.7 170.4,426.9 170.7,427.0 171.0,428.2 171.3,428.8 171.6,427.9 171.8,428.1 172.1,429.3 172.4,431.1 172.7,429.3 173.1,429.3 173.1,429.3 173.5,430.9 173.7,430.2 174.0,429.4 174.2,429.8 174.5,430.2 174.8,431.0 175.1,432.3 175.1,431.5 175.5,431.3 175.8,432.6 176.0,431.4 176.3,433.1 176.6,433.0 176.6,433.4 177.0,432.4 177.2,433.1 177.5,433.8 177.8,435.1 177.8,434.6 178.2,435.2 178.4,435.0 178.8,435.2 178.8,435.8 179.1,436.5 179.3,435.9 179.7,437.0 179.7,435.8 180.0,437.2 180.2,436.4 180.6,436.4 180.6,437.6 180.9,437.7 181.1,436.3 181.4,438.2 181.4,437.1 181.7,438.2 182.1,438.4 182.1,438.5 182.4,437.4 182.7,438.8 182.7,438.4 183.0,439.4 183.3,439.0 183.3,439.1 183.6,440.5 183.9,440.5 183.9,439.7 184.2,438.4 184.5,439.4 184.5,440.1 184.8,440.1 185.1,441.7 185.1,440.3 185.4,442.4 185.7,441.2 185.7,441.6 185.9,440.9 186.2,443.9 186.2,441.5 186.6,442.2 186.6,442.3 186.9,442.8 187.1,444.2 187.1,443.1 187.5,443.5 187.5,444.7 187.8,443.3 188.0,443.7 188.0,443.5 188.4,443.3 188.4,443.7 188.7,444.7 188.9,445.1 188.9,444.7 189.3,444.3 189.3,445.4 189.5,445.2 189.8,446.0 189.8,445.1 190.1,445.4 190.1,446.6 190.5,446.9 190.5,445.2 190.8,446.3 190.8,447.7 191.0,447.0 191.3,446.9 191.3,446.3 191.6,446.1 191.6,447.9 191.9,447.5 191.9,447.0 192.3,447.1 192.3,447.5 192.6,447.8 192.6,447.2 192.9,447.6 192.9,449.0 193.2,448.6 193.2,447.9 193.5,448.1 193.5,449.7 193.8,449.5 193.8,449.5 194.0,448.1 194.3,449.1 194.3,449.3 194.6,450.3 194.6,449.9 194.9,449.1 194.9,450.9 195.3,451.2 195.3,449.8 195.6,451.7 195.6,451.8 195.9,451.1 195.9,449.8 196.2,451.1 196.2,451.1 196.5,451.7 196.5,451.6 196.8,449.7 196.8,451.4 197.0,452.2 197.0,451.5 197.3,453.2 197.3,453.3 197.7,453.0 197.7,452.7 198.0,450.9 198.0,452.2 198.3,453.8 198.3,453.7 198.5,453.6 198.5,453.9 198.8,454.4 198.8,453.9 199.1,453.1 199.1,454.2 199.5,454.0 199.5,453.6 199.7,454.9 199.7,455.8 200.1,455.7 200.1,454.5 200.4,453.9 200.4,455.2 200.6,455.8 200.6,455.5 200.9,454.6 200.9,455.9 201.3,456.9 201.3,455.4 201.6,456.9 201.6,457.5 201.9,455.3 201.9,454.8 202.1,456.2 202.1,456.4 202.4,457.7 202.4,456.9 202.7,456.5 202.7,456.5 203.0,458.0 203.0,457.7 203.3,456.3 203.3,458.6 203.6,458.2 203.6,456.5 204.0,457.8 204.0,458.9 204.3,458.3 204.3,458.2 204.5,456.9 204.5,458.6 204.9,459.3 204.9,459.1 205.2,458.3 205.2,459.1 205.4,459.9 205.4,458.8 205.8,458.6 205.8,459.5 206.1,459.4 206.1,458.6 206.3,459.4 206.3,459.8 206.6,461.3 206.6,459.8 207.0,459.2 207.0,460.3 207.3,460.7 207.3,460.1 207.6,459.6 207.6,459.7 207.8,462.7 207.8,461.0 208.1,460.6 208.1,461.7 208.4,462.6 208.4,461.3 208.7,460.1 208.7,460.9 209.0,462.4 209.0,460.2 209.4,462.3 209.4,462.7 209.7,462.9 209.7,461.1 209.9,463.2 209.9,463.5 210.2,463.5 210.2,462.2 210.5,462.7 210.5,463.9 210.8,464.3 210.8,462.4 211.1,463.0 211.1,464.3 211.4,464.8 211.4,462.8 211.8,462.1 211.8,464.9 212.1,464.5 212.1,464.3 212.3,464.3 212.3,466.2 212.7,466.0 212.7,464.1 213.0,464.8 213.0,467.1 213.2,466.3 213.2,464.6 213.6,464.7 213.6,466.5 213.9,467.0 213.9,465.2 214.1,464.9 214.1,466.6 214.4,466.7 214.4,465.9 214.7,466.2 214.7,467.6 215.0,468.7 215.0,466.9 215.3,465.9 215.3,468.9 215.6,468.6 215.6,467.2 215.9,466.5 215.9,467.9 216.2,471.1 216.2,466.8 216.6,467.4 216.6,468.4 216.8,468.5 216.8,467.4 217.1,467.6 217.1,469.0 217.5,470.1 217.5,469.1 217.8,468.1 217.8,468.6 218.1,469.8 218.1,468.3 218.3,468.3 218.3,469.9 218.6,470.3 218.6,468.3 219.0,468.8 219.0,471.8 219.3,471.1 219.3,469.6 219.6,468.3 219.6,471.5 219.9,471.3 219.9,469.5 220.2,470.4 220.2,471.8 220.5,470.9 220.5,469.5 220.8,470.3 220.8,472.5 221.1,473.1 221.1,471.7 221.3,470.9 221.3,472.4 221.6,473.4 221.6,471.0 222.0,471.0 222.0,473.4 222.3,473.4 222.3,471.1 222.6,472.8 222.6,473.3 222.8,474.3 222.8,472.4 223.1,471.1 223.1,475.4 223.5,474.0 223.5,472.4 223.8,472.3 223.8,474.8 224.1,474.4 224.1,472.1 224.3,473.3 224.3,475.1 224.6,475.2 224.6,473.2 225.0,473.7 225.0,475.5 225.3,476.0 225.3,474.2 225.5,474.2 225.5,475.1 225.9,475.5 225.9,473.6 226.2,475.1 226.2,476.3 226.4,477.5 226.4,474.2 226.8,474.7 226.8,476.7 227.1,477.2 227.1,475.3 227.4,475.0 227.4,476.7 227.7,477.9 227.7,476.0 227.9,475.4 227.9,478.1 228.2,478.3 228.2,475.9 228.5,476.5 228.5,477.0 228.9,479.1 228.9,476.7 229.2,477.4 229.2,479.0 229.5,479.7 229.5,476.1 229.8,476.1 229.8,479.1 230.0,478.6 230.0,477.4 230.4,477.5 230.4,480.3 230.7,479.3 230.7,477.1 230.9,478.6 230.9,479.3 231.3,479.4 231.3,477.6 231.6,478.8 231.6,480.0 231.9,481.4 231.9,478.4 232.2,478.2 232.2,480.4 232.4,481.9 232.4,479.1 232.7,479.1 232.7,480.9 233.0,482.3 233.0,479.5 233.3,478.9 233.3,481.9 233.7,480.5 233.7,479.8 234.0,480.3 234.0,482.8 234.3,481.6 234.3,480.5 234.5,480.0 234.5,483.4 234.8,482.7 234.8,480.3 235.1,481.2 235.1,482.8 235.4,481.9 235.4,480.3 235.7,481.0 235.7,483.3 236.1,483.6 236.1,481.7 236.4,481.8 236.4,483.9 236.6,485.1 236.6,482.3 237.0,481.5 237.0,483.9 237.3,484.4 237.3,482.1 237.5,482.8 237.5,484.6 237.8,484.6 237.8,482.0 238.1,483.0 238.1,484.8 238.4,485.4 238.4,482.8 238.8,483.1 238.8,484.9 239.0,485.3 239.0,483.7 239.3,483.5 239.3,486.1 239.6,485.3 239.6,483.9 240.0,483.8 240.0,487.0 240.3,486.9 240.3,483.7 240.6,484.2 240.6,486.6 240.9,487.0 240.9,484.2 241.2,484.9 241.2,486.6 241.5,486.6 241.5,484.5 241.7,485.9 241.7,487.2 242.0,487.5 242.0,485.9 242.3,483.3 242.3,487.8 242.7,487.4 242.7,485.2 243.0,484.9 243.0,487.7 243.3,488.2 243.3,486.5 243.6,485.9 243.6,488.6 243.8,488.8 243.8,487.0 244.1,486.5 244.1,488.6 244.5,489.2 244.5,486.3 244.8,485.7 244.8,489.1 245.0,489.5 245.0,486.6 245.3,487.5 245.3,490.0 245.6,489.9 245.6,486.5 246.0,486.9 246.0,489.8 246.3,489.9 246.3,488.4 246.6,487.6 246.6,489.4 246.8,490.4 246.8,487.7 247.2,488.3 247.2,491.7 247.5,491.7 247.5,488.8 247.7,488.7 247.7,490.6 248.0,491.5 248.0,489.0 248.4,488.7 248.4,491.9 248.7,491.7 248.7,489.7 248.9,489.7 248.9,492.3 249.3,492.1 249.3,490.0 249.6,490.2 249.6,493.7 249.9,493.2 249.9,491.2 250.2,490.5 250.2,492.4 250.5,493.4 250.5,490.6 250.7,490.9 250.7,493.0 251.0,494.7 251.0,491.0 251.3,491.3 251.3,493.7 251.7,493.2 251.7,491.7 252.0,490.8 252.0,493.6 252.2,494.3 252.2,492.4 252.5,491.7 252.5,494.5 252.9,494.2 252.9,491.8 253.2,491.4 253.2,494.5 253.5,495.1 253.5,492.2 253.7,492.6 253.7,495.4 254.0,495.3 254.0,493.2 254.3,492.7 254.3,495.2 254.7,494.9 254.7,492.8 255.0,492.1 255.0,495.1 255.3,495.8 255.3,493.4 255.6,492.2 255.6,497.0 255.9,495.4 255.9,493.2 256.2,493.3 256.2,497.1 256.4,497.0 256.4,494.6 256.8,494.9 256.8,497.2 257.1,496.5 257.1,493.8 257.4,493.7 257.4,497.3 257.7,497.2 257.7,494.0 258.0,494.7 258.0,497.4 258.2,497.4 258.2,495.5 258.6,495.4 258.6,498.8 258.9,498.1 258.9,495.6 259.2,495.9 259.2,498.2 259.4,498.1 259.4,496.4 259.7,495.7 259.7,499.2 260.0,498.7 260.0,495.6 260.4,496.3 260.4,498.9 260.7,498.6 260.7,496.6 261.0,496.7 261.0,498.8 261.2,499.9 261.2,496.7 261.6,495.6 261.6,499.8 261.9,500.0 261.9,497.0 262.2,496.8 262.2,500.1 262.5,500.0 262.5,497.3 262.7,498.2 262.7,501.1 263.1,500.8 263.1,497.5 263.4,497.6 263.4,500.7 263.7,501.4 263.7,498.5 264.0,497.5 264.0,501.4 264.2,501.2 264.2,498.5 264.6,497.3 264.6,501.7 264.9,501.6 264.9,499.1 265.2,499.0 265.2,501.6 265.4,500.7 265.4,499.1 265.7,499.3 265.7,502.2 266.0,502.4 266.0,499.5 266.3,498.9 266.3,502.9 266.6,501.7 266.6,498.9 266.9,500.1 266.9,502.4 267.3,502.5 267.3,500.4 267.6,499.7 267.6,502.7 267.9,502.9 267.9,500.8 268.1,500.6 268.1,502.8 268.5,503.2 268.5,500.9 268.8,501.4 268.8,503.4 269.1,503.8 269.1,501.2 269.3,500.9 269.3,503.9 269.7,504.1 269.7,500.5 270.0,501.7 270.0,503.8 270.3,503.3 270.3,501.4 270.5,500.8 270.5,503.5 270.8,506.0 270.8,501.5 271.1,501.7 271.1,504.1 271.4,504.9 271.4,502.2 271.7,501.3 271.7,504.4 272.1,505.4 272.1,501.0 272.4,501.7 272.4,505.2 272.7,505.8 272.7,502.1 272.9,501.8 272.9,506.2 273.2,506.2 273.2,502.8 273.5,503.5 273.5,506.2 273.8,506.6 273.8,503.5 274.2,503.1 274.2,506.7 274.5,507.1 274.5,503.3 274.8,502.9 274.8,506.7 275.1,506.0 275.1,504.0 275.4,503.6 275.4,506.6 275.7,507.1 275.7,503.6 276.0,504.1 276.0,507.8 276.2,508.7 276.2,504.4 276.6,504.3 276.6,507.2 276.8,507.3 276.8,504.1 277.1,504.4 277.1,508.5 277.4,508.1 277.4,504.8 277.7,505.0 277.7,507.9 278.0,508.8 278.0,505.0 278.4,505.1 278.4,508.0 278.7,508.5 278.7,505.8 279.0,505.6 279.0,509.3 279.3,509.0 279.3,505.4 279.6,505.3 279.6,508.3 279.9,508.6 279.9,506.1 280.1,506.0 280.1,509.2 280.4,509.5 280.4,505.9 280.8,506.6 280.8,510.0 281.1,509.7 281.1,506.3 281.4,506.2 281.4,509.8 281.7,510.1 281.7,507.1 281.9,507.3 281.9,509.5 282.2,510.3 282.2,506.7 282.6,506.9 282.6,510.0 282.9,511.1 282.9,507.1 283.2,507.1 283.2,510.7 283.4,510.4 283.4,505.6 283.8,507.6 283.8,510.9 284.0,510.9 284.0,507.1 284.3,508.0 284.3,511.3 284.6,511.3 284.6,507.9 284.9,508.1 284.9,511.5 285.3,511.2 285.3,507.7 285.6,508.3 285.6,511.3 285.9,511.3 285.9,509.0 286.2,508.2 286.2,512.2 286.5,511.6 286.5,509.0 286.7,509.0 286.7,512.0 287.0,511.9 287.0,509.3 287.4,508.8 287.4,512.9 287.7,512.2 287.7,508.2 288.0,508.9 288.0,512.0 288.3,512.8 288.3,509.2 288.6,509.0 288.6,512.1 288.8,512.8 288.8,509.7 289.1,510.0 289.1,513.2 289.4,513.3 289.4,509.5 289.7,509.5 289.7,513.2 290.1,512.8 290.1,510.3 290.4,510.5 290.4,513.6 290.7,513.4 290.7,510.1 291.0,510.0 291.0,514.2 291.3,514.7 291.3,510.2 291.5,511.0 291.5,514.2 291.9,514.5 291.9,511.0 292.2,510.3 292.2,514.3 292.4,515.0 292.4,511.6 292.7,510.5 292.7,514.7 293.0,515.1 293.0,511.2 293.3,511.2 293.3,514.6 293.7,514.9 293.7,511.1 293.9,510.6 293.9,514.8 294.2,515.6 294.2,511.9 294.6,512.3 294.6,515.3 294.9,515.7 294.9,512.1 295.2,512.2 295.2,515.7 295.5,516.1 295.5,511.4 295.8,512.5 295.8,515.4 296.1,516.5 296.1,511.4 296.3,512.4 296.3,516.0 296.7,516.5 296.7,512.8 297.0,513.3 297.0,516.3 297.3,516.2 297.3,512.4 297.6,511.8 297.6,516.2 297.8,516.1 297.8,512.5 298.2,513.5 298.2,516.8 298.5,517.0 298.5,513.3 298.7,513.0 298.7,517.2 299.1,516.4 299.1,513.5 299.3,512.9 299.3,516.8 299.6,516.6 299.6,513.4 299.9,513.7 299.9,517.5 300.2,517.3 300.2,514.0 300.5,514.1 300.5,517.0 300.9,517.4 300.9,514.1 301.2,515.0 301.2,517.2 301.5,518.0 301.5,514.6 301.8,514.4 301.8,517.7 302.1,518.0 302.1,513.9 302.4,514.8 302.4,518.5 302.7,517.7 302.7,514.6 303.0,514.2 303.0,518.4 303.3,517.9 303.3,515.3 303.5,514.9 303.5,518.5 303.8,518.6 303.8,515.2 304.1,514.7 304.1,518.2 304.4,518.7 304.4,514.6 304.8,515.0 304.8,518.6 305.1,519.1 305.1,515.4 305.4,514.4 305.4,519.3 305.6,519.1 305.6,515.0 305.9,514.5 305.9,519.2 306.3,519.3 306.3,515.8 306.6,515.0 306.6,519.0 306.9,519.3 306.9,515.2 307.2,516.6 307.2,519.8 307.5,519.8 307.5,516.6 307.8,515.6 307.8,520.3 308.1,519.8 308.1,515.2 308.4,516.4 308.4,519.9 308.7,520.4 308.7,516.3 309.0,516.5 309.0,520.8 309.2,520.3 309.2,516.9 309.6,517.5 309.6,520.4 309.9,520.9 309.9,516.9 310.1,516.9 310.1,521.0 310.4,521.0 310.4,516.7 310.8,517.2 310.8,520.6 311.1,521.8 311.1,516.6 311.3,516.8 311.3,520.6 311.6,521.0 311.6,517.3 311.9,517.3 311.9,521.4 312.3,520.9 312.3,517.7 312.6,517.2 312.6,521.3 312.8,521.2 312.8,517.8 313.1,517.6 313.1,522.2 313.4,520.9 313.4,517.2 313.8,518.0 313.8,521.6 314.1,521.7 314.1,518.0 314.3,518.4 314.3,521.4 314.6,521.6 314.6,518.5 314.9,518.5 314.9,522.6 315.3,522.3 315.3,518.4 315.5,518.6 315.5,522.0 315.8,522.1 315.8,518.5 316.1,518.3 316.1,522.9 316.4,522.0 316.4,517.8 316.8,518.3 316.8,521.9 317.1,522.2 317.1,518.5 317.4,519.5 317.4,521.9 317.7,523.4 317.7,519.2 317.9,518.7 317.9,522.9 318.2,523.0 318.2,519.1 318.5,519.3 318.5,522.7 318.9,522.9 318.9,518.3 319.1,519.3 319.1,523.4 319.4,522.9 319.4,517.7 319.8,518.7 319.8,523.3 320.1,523.0 320.1,519.1 320.4,519.3 320.4,524.1 320.7,522.9 320.7,519.7 321.0,519.1 321.0,523.2 321.3,524.1 321.3,518.8 321.6,519.9 321.6,523.7 321.9,524.4 321.9,519.4 322.2,519.3 322.2,523.4 322.5,524.7 322.5,519.1 322.8,520.1 322.8,523.2 323.0,523.9 323.0,520.2 323.3,519.8 323.3,524.0 323.7,524.5 323.7,518.8 324.0,520.9 324.0,524.2 324.3,524.6 324.3,520.2 324.5,519.6 324.5,524.2 324.8,524.5 324.8,519.8 325.1,520.4 325.1,523.9 325.4,524.4 325.4,519.9 325.7,519.7 325.7,524.6 326.0,524.9 326.0,520.2 326.4,520.2 326.4,524.9 326.7,524.9 326.7,520.9 326.9,520.7 326.9,524.3 327.2,525.4 327.2,520.6 327.6,521.3 327.6,525.7 327.9,524.6 327.9,520.9 328.1,521.0 328.1,525.2 328.5,525.0 328.5,520.1 328.8,520.3 328.8,525.1 329.0,524.9 329.0,521.0 329.4,521.6 329.4,525.1 329.7,524.7 329.7,520.9 330.0,521.4 330.0,524.5 330.3,524.9 330.3,520.7 330.5,521.4 330.5,526.2 330.8,526.0 330.8,521.0 331.2,521.2 331.2,525.2 331.5,525.5 331.5,521.3 331.7,521.4 331.7,525.9 332.0,525.2 332.0,520.5 332.4,521.6 332.4,526.4 332.7,526.2 332.7,521.3 332.9,521.5 332.9,525.3 333.3,525.7 333.3,521.5 333.6,521.4 333.6,526.0 333.9,525.6 333.9,522.0 334.2,522.2 334.2,526.5 334.5,526.0 334.5,522.1 334.8,522.3 334.8,526.1 335.0,525.8 335.0,522.5 335.4,521.9 335.4,526.4 335.6,526.5 335.6,521.2 335.9,522.6 335.9,526.7 336.2,526.2 336.2,522.6 336.5,521.5 336.5,526.5 336.9,526.7 336.9,522.5 337.2,521.8 337.2,526.0 337.5,525.8 337.5,522.1 337.8,521.7 337.8,526.6 338.1,526.7 338.1,522.6 338.4,522.5 338.4,526.8 338.7,526.6 338.7,522.4 339.0,522.8 339.0,527.0 339.2,527.3 339.2,522.6 339.6,522.1 339.6,526.6 339.8,526.8 339.8,522.2 340.1,522.6 340.1,526.5 340.5,527.5 340.5,522.2 340.8,522.1 340.8,527.5 341.1,526.8 341.1,522.8 341.4,522.8 341.4,527.4 341.7,526.9 341.7,521.6 342.0,522.1 342.0,527.0 342.3,527.4 342.3,522.7 342.6,523.2 342.6,527.1 342.9,527.5 342.9,523.0 343.2,522.8 343.2,526.6 343.5,527.2 343.5,523.0 343.7,523.3 343.7,527.0 344.0,527.3 344.0,523.2 344.3,522.7 344.3,527.2 344.6,527.0 344.6,522.5 344.9,523.2 344.9,527.2 345.3,527.3 345.3,522.0 345.6,522.9 345.6,527.5 345.9,527.7 345.9,522.6 346.1,523.0 346.1,527.6 346.4,527.6 346.4,523.1" fill="none" stroke="#0000ff" stroke-width="1.3" stroke-linejoin="round"/>
<path d="M51.1,344.8 57.8,346.9 63.4,349.1 68.3,351.4 72.7,353.3 76.5,355.8 80.0,357.5 83.2,359.2 86.2,361.1 88.9,362.0 91.4,363.2 93.8,365.2 96.0,366.6 98.1,367.4 100.1,369.3 102.0,370.9 103.8,371.1 105.5,372.6 107.2,373.8 108.7,374.9 110.2,376.3 111.7,377.0 113.1,378.5 114.4,378.1 115.7,379.2 117.0,380.9 118.2,380.9 119.3,381.7 120.5,382.8 121.6,383.9 122.6,384.1 123.7,385.6 124.7,386.9 125.7,385.4 126.6,385.8 127.6,388.5 128.5,388.2 129.3,390.3 130.2,392.0 131.1,390.5 131.9,391.0 132.7,391.9 133.5,392.6 134.3,393.0 135.0,393.0 135.8,394.4 136.5,393.3 137.2,395.5 137.9,395.9 138.6,397.2 139.3,396.9 139.9,397.6 140.6,397.2 141.2,398.4 141.9,399.3 142.5,399.9 143.1,399.8 143.7,401.2 144.3,401.5 144.9,400.6 145.4,399.8 146.0,401.2 146.6,402.4 147.1,402.9 147.6,403.0 148.2,403.3 148.7,404.4 149.2,404.0 149.7,403.3 150.2,404.9 150.7,406.2 151.2,405.3 151.7,406.7 152.2,407.0 152.6,407.0 153.1,407.6 153.6,407.0 154.0,408.1 154.4,409.4 154.9,408.6 155.3,408.3 155.8,410.3 156.2,408.7 156.6,411.1 157.0,410.4 157.4,411.0 157.8,411.2 158.2,411.2 158.6,412.3 159.0,411.8 159.4,411.6 159.8,412.5 160.2,411.5 160.6,412.9 160.9,412.1 161.3,413.6 161.7,414.3 162.0,414.5 162.4,414.3 162.8,412.8 163.1,414.6 163.5,416.0 163.8,415.0 164.2,416.1 164.5,415.5 164.8,417.3 165.2,415.0 165.5,416.4 165.8,416.7 166.1,417.5 166.5,417.4 166.8,417.8 167.1,416.3 167.4,419.5 167.7,418.5 168.0,418.2 168.3,419.8 168.6,418.3 168.9,419.5 169.2,420.2 169.5,420.2 169.8,420.1 170.1,420.1 170.4,419.7 170.7,420.8 171.0,419.9 171.3,421.7 171.6,421.8 171.8,421.4 172.1,420.3 172.4,422.2 172.7,422.4 173.1,421.5 173.1,422.1 173.5,422.7 173.7,423.3 174.0,422.7 174.2,422.6 174.5,423.0 174.8,422.9 175.1,425.2 175.1,424.9 175.5,422.7 175.8,424.0 176.0,425.5 176.3,425.6 176.6,425.8 176.6,426.2 177.0,425.5 177.2,425.5 177.5,426.5 177.8,426.0 177.8,424.7 178.2,426.1 178.4,424.9 178.8,426.7 178.8,426.9 179.1,426.6 179.3,427.0 179.7,426.8 179.7,425.8 180.0,426.9 180.2,427.5 180.6,427.5 180.6,427.9 180.9,428.1 181.1,427.1 181.4,429.2 181.4,427.4 181.7,427.9 182.1,428.6 182.1,429.4 182.4,428.7 182.7,430.7 182.7,428.6 183.0,429.0 183.3,428.1 183.3,430.3 183.6,429.6 183.9,430.5 183.9,430.4 184.2,432.0 184.5,430.2 184.5,430.8 184.8,430.3 185.1,431.4 185.1,429.6 185.4,430.7 185.7,430.1 185.7,430.7 185.9,432.3 186.2,431.4 186.2,431.0 186.6,430.9 186.6,432.5 186.9,432.2 187.1,432.5 187.1,431.4 187.5,432.2 187.5,433.4 187.8,432.7 188.0,434.1 188.0,433.2 188.4,433.1 188.4,434.2 188.7,433.9 188.9,434.2 188.9,433.1 189.3,433.9 189.3,434.0 189.5,434.5 189.8,435.0 189.8,434.9 190.1,434.1 190.1,434.8 190.5,435.0 190.5,434.2 190.8,434.0 190.8,434.7 191.0,434.9 191.3,435.7 191.3,435.5 191.6,434.5 191.6,435.9 191.9,435.2 191.9,434.2 192.3,435.7 192.3,436.5 192.6,437.9 192.6,436.3 192.9,436.1 192.9,436.2 193.2,436.8 193.2,434.9 193.5,436.9 193.5,437.7 193.8,439.1 193.8,436.9 194.0,437.2 194.3,437.3 194.3,437.3 194.6,438.0 194.6,436.6 194.9,438.4 194.9,438.5 195.3,437.6 195.3,437.3 195.6,437.2 195.6,440.1 195.9,438.3 195.9,437.2 196.2,437.3 196.2,437.6 196.5,437.8 196.5,437.5 196.8,438.6 196.8,439.4 197.0,439.6 197.0,439.1 197.3,437.3 197.3,438.9 197.7,439.7 197.7,438.1 198.0,439.2 198.0,440.0 198.3,440.3 198.3,439.7 198.5,439.5 198.5,440.9 198.8,440.8 198.8,439.9 199.1,438.4 199.1,441.0 199.5,440.8 199.5,439.7 199.7,438.8 199.7,439.9 200.1,441.5 200.1,440.7 200.4,440.1 200.4,441.1 200.6,441.8 200.6,440.5 200.9,441.7 200.9,443.1 201.3,441.8 201.3,441.3 201.6,441.1 201.6,442.1 201.9,442.3 201.9,441.1 202.1,442.6 202.1,443.8 202.4,442.5 202.4,440.4 202.7,441.4 202.7,442.1 203.0,443.2 203.0,443.2 203.3,442.0 203.3,442.9 203.6,444.9 203.6,443.2 204.0,443.3 204.0,444.2 204.3,443.5 204.3,443.5 204.5,442.5 204.5,445.1 204.9,443.8 204.9,443.1 205.2,444.0 205.2,444.1 205.4,445.7 205.4,443.2 205.8,444.4 205.8,445.4 206.1,445.1 206.1,444.1 206.3,444.1 206.3,446.6 206.6,446.3 206.6,445.2 207.0,445.5 207.0,447.0 207.3,446.1 207.3,445.4 207.6,445.2 207.6,446.8 207.8,446.5 207.8,445.2 208.1,446.4 208.1,447.2 208.4,447.0 208.4,445.1 208.7,445.6 208.7,447.2 209.0,446.2 209.0,445.7 209.4,445.6 209.4,445.8 209.7,448.0 209.7,447.3 209.9,446.4 209.9,448.4 210.2,447.3 210.2,446.6 210.5,446.6 210.5,447.7 210.8,448.1 210.8,447.2 211.1,447.4 211.1,447.8 211.4,448.7 211.4,447.9 211.8,448.1 211.8,449.8 212.1,449.1 212.1,447.5 212.3,448.1 212.3,448.8 212.7,449.6 212.7,448.2 213.0,448.1 213.0,450.8 213.2,450.5 213.2,450.4 213.6,448.6 213.6,450.2 213.9,450.3 213.9,448.9 214.1,448.9 214.1,450.0 214.4,450.5 214.4,448.8 214.7,449.2 214.7,451.3 215.0,451.5 215.0,450.0 215.3,450.4 215.3,451.7 215.6,451.6 215.6,450.1 215.9,449.2 215.9,449.8 216.2,451.7 216.2,450.3 216.6,451.1 216.6,451.9 216.8,452.7 216.8,450.6 217.1,450.9 217.1,451.8 217.5,452.6 217.5,449.7 217.8,450.3 217.8,451.9 218.1,452.6 218.1,452.2 218.3,452.5 218.3,453.0 218.6,452.9 218.6,451.7 219.0,450.7 219.0,453.2 219.3,453.5 219.3,451.8 219.6,452.3 219.6,453.9 219.9,454.2 219.9,453.5 220.2,452.8 220.2,453.9 220.5,454.5 220.5,452.7 220.8,453.2 220.8,454.5 221.1,454.9 221.1,453.0 221.3,452.0 221.3,455.8 221.6,455.5 221.6,454.5 222.0,453.5 222.0,456.1 222.3,455.2 222.3,453.0 222.6,453.8 222.6,456.2 222.8,456.1 222.8,454.1 223.1,453.7 223.1,456.8 223.5,456.3 223.5,453.7 223.8,455.0 223.8,456.1 224.1,456.0 224.1,455.3 224.3,455.2 224.3,456.9 224.6,456.6 224.6,454.6 225.0,455.4 225.0,456.9 225.3,457.9 225.3,455.6 225.5,455.7 225.5,457.0 225.9,456.6 225.9,455.6 226.2,456.4 226.2,457.4 226.4,457.6 226.4,455.0 226.8,456.7 226.8,457.4 227.1,457.0 227.1,455.8 227.4,456.5 227.4,457.8 227.7,457.9 227.7,456.3 227.9,456.2 227.9,458.5 228.2,460.4 228.2,457.0 228.5,457.7 228.5,458.7 228.9,458.4 228.9,457.4 229.2,458.0 229.2,459.8 229.5,459.2 229.5,457.1 229.8,457.4 229.8,460.4 230.0,460.0 230.0,457.4 230.4,457.3 230.4,459.5 230.7,460.6 230.7,458.8 230.9,458.8 230.9,459.4 231.3,460.4 231.3,458.2 231.6,459.2 231.6,460.6 231.9,462.1 231.9,458.8 232.2,459.7 232.2,461.2 232.4,461.3 232.4,459.8 232.7,458.9 232.7,460.9 233.0,461.7 233.0,459.2 233.3,459.5 233.3,462.6 233.7,461.4 233.7,460.1 234.0,459.8 234.0,462.5 234.3,462.7 234.3,460.9 234.5,461.1 234.5,462.1 234.8,462.7 234.8,460.3 235.1,461.0 235.1,463.4 235.4,462.2 235.4,461.0 235.7,460.8 235.7,462.9 236.1,463.2 236.1,460.5 236.4,461.2 236.4,464.0 236.6,463.8 236.6,460.7 237.0,461.0 237.0,462.7 237.3,464.2 237.3,462.5 237.5,462.1 237.5,463.5 237.8,463.8 237.8,462.3 238.1,461.8 238.1,465.0 238.4,464.2 238.4,461.8 238.8,462.5 238.8,463.9 239.0,465.3 239.0,462.1 239.3,460.9 239.3,465.5 239.6,465.5 239.6,462.3 240.0,462.8 240.0,464.4 240.3,465.5 240.3,462.6 240.6,463.2 240.6,466.4 240.9,465.4 240.9,461.9 241.2,464.4 241.2,466.3 241.5,466.3 241.5,464.0 241.7,464.7 241.7,466.4 242.0,466.6 242.0,464.3 242.3,465.0 242.3,466.4 242.7,467.3 242.7,464.1 243.0,464.0 243.0,466.2 243.3,467.0 243.3,464.6 243.6,464.5 243.6,467.0 243.8,467.1 243.8,465.1 244.1,464.6 244.1,467.5 244.5,468.9 244.5,464.8 244.8,465.3 244.8,467.2 245.0,466.5 245.0,464.3 245.3,465.1 245.3,468.3 245.6,468.1 245.6,465.6 246.0,466.2 246.0,467.6 246.3,467.9 246.3,466.4 246.6,466.1 246.6,467.8 246.8,469.2 246.8,466.4 247.2,466.7 247.2,468.7 247.5,468.0 247.5,466.4 247.7,466.8 247.7,469.3 248.0,468.3 248.0,466.1 248.4,466.8 248.4,470.9 248.7,469.4 248.7,466.5 248.9,467.1 248.9,469.1 249.3,469.8 249.3,467.8 249.6,467.6 249.6,469.8 249.9,469.3 249.9,466.9 250.2,467.2 250.2,469.5 250.5,470.4 250.5,467.1 250.7,467.3 250.7,470.1 251.0,471.1 251.0,468.3 251.3,467.3 251.3,470.1 251.7,470.2 251.7,468.8 252.0,468.1 252.0,471.0 252.2,471.6 252.2,468.3 252.5,468.2 252.5,471.3 252.9,471.7 252.9,467.8 253.2,469.1 253.2,471.2 253.5,471.7 253.5,469.5 253.7,469.3 253.7,471.7 254.0,472.9 254.0,469.1 254.3,469.5 254.3,471.4 254.7,472.5 254.7,469.7 255.0,468.9 255.0,471.8 255.3,472.2 255.3,469.8 255.6,469.0 255.6,473.5 255.9,472.5 255.9,469.2 256.2,470.2 256.2,473.1 256.4,472.2 256.4,469.7 256.8,470.6 256.8,472.2 257.1,473.1 257.1,469.3 257.4,469.9 257.4,473.2 257.7,473.4 257.7,471.0 258.0,470.6 258.0,473.4 258.2,473.4 258.2,470.6 258.6,471.1 258.6,473.7 258.9,473.8 258.9,470.9 259.2,471.6 259.2,474.1 259.4,474.5 259.4,472.0 259.7,470.8 259.7,473.5 260.0,473.9 260.0,471.3 260.4,470.9 260.4,474.9 260.7,475.4 260.7,472.0 261.0,471.9 261.0,474.8 261.2,474.4 261.2,472.0 261.6,472.1 261.6,474.3 261.9,474.3 261.9,471.7 262.2,472.4 262.2,475.8 262.5,475.4 262.5,471.8 262.7,472.8 262.7,475.5 263.1,475.1 263.1,473.2 263.4,473.2 263.4,475.6 263.7,475.8 263.7,472.0 264.0,472.9 264.0,475.0 264.2,475.7 264.2,473.3 264.6,473.3 264.6,477.8 264.9,476.7 264.9,473.4 265.2,474.1 265.2,476.5 265.4,477.9 265.4,473.7 265.7,473.9 265.7,476.6 266.0,476.5 266.0,474.1 266.3,473.5 266.3,476.8 266.6,476.4 266.6,473.6 266.9,474.3 266.9,477.4 267.3,477.7 267.3,474.3 267.6,474.7 267.6,477.2 267.9,477.5 267.9,474.4 268.1,474.1 268.1,477.4 268.5,477.7 268.5,474.4 268.8,474.9 268.8,478.2 269.1,478.3 269.1,474.8 269.3,475.6 269.3,478.4 269.7,478.3 269.7,475.3 270.0,476.0 270.0,478.2 270.3,478.2 270.3,475.6 270.5,475.9 270.5,478.5 270.8,479.3 270.8,474.7 271.1,475.1 271.1,478.2 271.4,479.5 271.4,475.7 271.7,475.8 271.7,479.1 272.1,478.3 272.1,475.7 272.4,475.6 272.4,478.5 272.7,479.1 272.7,475.9 272.9,476.5 272.9,479.2 273.2,479.2 273.2,475.6 273.5,476.1 273.5,478.7 273.8,479.5 273.8,476.6 274.2,476.9 274.2,479.7 274.5,479.9 274.5,477.2 274.8,476.6 274.8,479.4 275.1,480.0 275.1,477.1 275.4,476.7 275.4,479.9 275.7,480.2 275.7,476.4 276.0,477.2 276.0,481.0 276.2,480.9 276.2,476.6 276.6,476.9 276.6,480.7 276.8,481.2 276.8,477.5 277.1,477.7 277.1,480.3 277.4,481.2 277.4,477.3 277.7,477.7 277.7,481.3 278.0,481.0 278.0,477.6 278.4,478.4 278.4,481.3 278.7,480.9 278.7,477.5 279.0,477.7 279.0,481.1 279.3,481.7 279.3,478.6 279.6,478.3 279.6,481.0 279.9,481.0 279.9,478.8 280.1,477.9 280.1,482.6 280.4,481.7 280.4,478.6 280.8,478.5 280.8,481.4 281.1,482.4 281.1,478.4 281.4,478.1 281.4,481.4 281.7,481.9 281.7,478.9 281.9,479.5 281.9,482.4 282.2,482.3 282.2,479.3 282.6,479.0 282.6,482.4 282.9,482.3 282.9,478.0 283.2,479.1 283.2,482.9 283.4,482.3 283.4,480.0 283.8,478.5 283.8,483.3 284.0,483.5 284.0,479.9 284.3,479.8 284.3,483.0 284.6,482.3 284.6,480.0 284.9,479.9 284.9,483.1 285.3,483.1 285.3,479.9 285.6,479.6 285.6,484.3 285.9,483.5 285.9,479.8 286.2,480.2 286.2,483.2 286.5,483.9 286.5,479.7 286.7,480.8 286.7,483.7 287.0,483.8 287.0,480.3 287.4,480.4 287.4,484.4 287.7,485.5 287.7,479.8 288.0,480.7 288.0,483.5 288.3,484.3 288.3,480.9 288.6,480.8 288.6,484.7 288.8,485.0 288.8,481.2 289.1,481.2 289.1,483.8 289.4,484.1 289.4,480.7 289.7,481.4 289.7,484.7 290.1,484.5 290.1,481.3 290.4,481.3 290.4,484.0 290.7,484.9 290.7,481.4 291.0,480.6 291.0,485.4 291.3,484.9 291.3,481.8 291.5,481.9 291.5,485.3 291.9,486.0 291.9,481.1 292.2,482.0 292.2,485.0 292.4,485.1 292.4,481.7 292.7,482.0 292.7,485.3 293.0,485.5 293.0,482.4 293.3,481.8 293.3,485.7 293.7,485.5 293.7,482.7 293.9,482.7 293.9,486.5 294.2,485.9 294.2,482.5 294.6,481.7 294.6,486.1 294.9,485.6 294.9,482.6 295.2,482.8 295.2,486.3 295.5,486.8 295.5,483.2 295.8,483.1 295.8,486.4 296.1,486.3 296.1,483.2 296.3,483.2 296.3,486.8 296.7,486.6 296.7,482.6 297.0,483.1 297.0,486.3 297.3,486.5 297.3,483.9 297.6,483.6 297.6,486.3 297.8,487.3 297.8,483.7 298.2,483.4 298.2,486.8 298.5,487.3 298.5,483.2 298.7,483.2 298.7,487.3 299.1,487.0 299.1,483.9 299.3,483.1 299.3,488.0 299.6,487.2 299.6,483.9 299.9,483.5 299.9,488.2 300.2,487.3 300.2,483.8 300.5,484.8 300.5,487.4 300.9,487.4 300.9,483.4 301.2,484.1 301.2,488.5 301.5,488.7 301.5,484.1 301.8,484.1 301.8,487.6 302.1,487.9 302.1,484.1 302.4,483.8 302.4,488.1 302.7,488.2 302.7,484.8 303.0,485.0 303.0,488.1 303.3,488.2 303.3,484.7 303.5,484.5 303.5,488.6 303.8,488.8 303.8,485.0 304.1,484.4 304.1,488.2 304.4,488.2 304.4,485.0 304.8,484.5 304.8,488.4 305.1,488.7 305.1,485.1 305.4,485.5 305.4,488.8 305.6,488.3 305.6,485.1 305.9,485.2 305.9,489.6 306.3,489.4 306.3,485.1 306.6,484.8 306.6,489.6 306.9,489.3 306.9,485.8 307.2,485.9 307.2,489.3 307.5,489.0 307.5,485.4 307.8,485.2 307.8,489.2 308.1,489.6 308.1,485.5 308.4,485.8 308.4,489.5 308.7,489.4 308.7,485.5 309.0,486.0 309.0,490.4 309.2,489.3 309.2,485.6 309.6,485.1 309.6,490.3 309.9,490.6 309.9,486.0 310.1,486.1 310.1,489.6 310.4,491.1 310.4,485.6 310.8,486.0 310.8,490.2 311.1,490.3 311.1,485.8 311.3,486.4 311.3,490.3 311.6,490.7 311.6,486.2 311.9,486.2 311.9,490.3 312.3,489.9 312.3,486.2 312.6,486.8 312.6,490.6 312.8,491.0 312.8,486.7 313.1,486.9 313.1,490.3 313.4,490.8 313.4,487.5 313.8,487.5 313.8,490.9 314.1,490.5 314.1,486.9 314.3,487.0 314.3,491.3 314.6,491.0 314.6,487.6 314.9,486.6 314.9,491.0 315.3,490.8 315.3,487.0 315.5,488.0 315.5,491.0 315.8,491.6 315.8,486.4 316.1,487.6 316.1,491.2 316.4,491.8 316.4,487.9 316.8,488.0 316.8,491.7 317.1,492.1 317.1,487.6 317.4,488.0 317.4,491.4 317.7,492.4 317.7,487.8 317.9,487.8 317.9,491.9 318.2,492.0 318.2,488.3 318.5,488.0 318.5,493.1 318.9,492.7 318.9,488.2 319.1,486.8 319.1,492.5 319.4,492.3 319.4,488.2 319.8,488.4 319.8,492.4 320.1,492.5 320.1,487.5 320.4,488.3 320.4,491.9 320.7,492.4 320.7,488.9 321.0,488.5 321.0,492.5 321.3,493.0 321.3,488.4 321.6,489.4 321.6,492.8 321.9,492.2 321.9,488.3 322.2,489.0 322.2,492.7 322.5,492.6 322.5,488.7 322.8,489.0 322.8,493.1 323.0,493.7 323.0,489.1 323.3,489.6 323.3,492.9 323.7,493.5 323.7,489.5 324.0,488.8 324.0,493.2 324.3,493.6 324.3,489.7 324.5,489.6 324.5,493.5 324.8,494.1 324.8,488.8 325.1,489.1 325.1,493.3 325.4,493.2 325.4,489.7 325.7,489.5 325.7,493.9 326.0,494.0 326.0,489.5 326.4,490.1 326.4,493.6 326.7,493.5 326.7,490.0 326.9,490.4 326.9,494.2 327.2,494.0 327.2,490.0 327.6,488.9 327.6,493.9 327.9,493.9 327.9,489.4 328.1,489.8 328.1,493.9 328.5,493.7 328.5,489.4 328.8,489.6 328.8,493.9 329.0,494.0 329.0,490.1 329.4,490.3 329.4,495.4 329.7,494.8 329.7,490.3 330.0,490.2 330.0,495.2 330.3,494.1 330.3,490.7 330.5,490.7 330.5,495.0 330.8,495.0 330.8,490.9 331.2,490.9 331.2,494.4 331.5,494.6 331.5,490.9 331.7,491.0 331.7,495.0 332.0,495.8 332.0,490.7 332.4,490.1 332.4,495.2 332.7,495.5 332.7,490.8 332.9,490.7 332.9,495.1 333.3,495.2 333.3,491.1 333.6,491.4 333.6,495.3 333.9,495.7 333.9,491.2 334.2,491.1 334.2,495.7 334.5,495.5 334.5,491.3 334.8,491.8 334.8,495.9 335.0,495.8 335.0,491.3 335.4,492.0 335.4,495.5 335.6,496.0 335.6,491.9 335.9,491.8 335.9,496.0 336.2,496.0 336.2,492.0 336.5,490.7 336.5,495.7 336.9,496.3 336.9,491.4 337.2,491.9 337.2,495.8 337.5,496.7 337.5,492.2 337.8,491.5 337.8,496.1 338.1,496.2 338.1,492.3 338.4,492.3 338.4,496.6 338.7,496.2 338.7,492.3 339.0,492.3 339.0,496.3 339.2,496.6 339.2,492.4 339.6,492.4 339.6,496.7 339.8,497.4 339.8,492.5 340.1,492.2 340.1,496.5 340.5,497.2 340.5,491.9 340.8,492.6 340.8,497.5 341.1,497.0 341.1,492.5 341.4,492.6 341.4,497.1 341.7,497.2 341.7,491.5 342.0,492.6 342.0,497.1 342.3,497.6 342.3,492.5 342.6,493.1 342.6,497.2 342.9,497.1 342.9,492.2 343.2,492.9 343.2,498.1 343.5,497.4 343.5,493.2 343.7,493.2 343.7,497.7 344.0,498.3 344.0,493.5 344.3,493.4 344.3,497.7 344.6,498.0 344.6,493.3 344.9,493.2 344.9,498.2 345.3,497.8 345.3,493.5 345.6,493.7 345.6,498.6 345.9,497.6 345.9,493.7 346.1,493.6 346.1,498.2 346.4,497.9 346.4,494.2" fill="none" stroke="#ff0000" stroke-width="1.3" stroke-linejoin="round"/>
</g>
<path d="M51.1,344.7 H356.3 V567.5 H51.1 Z" fill="none" stroke="#111" stroke-width="1"/>
<text x="46.2" y="570.7" text-anchor="end" font-size="12">0.0</text>
<text x="46.2" y="526.1" text-anchor="end" font-size="12">0.2</text>
<text x="46.2" y="481.6" text-anchor="end" font-size="12">0.4</text>
<text x="46.2" y="437.0" text-anchor="end" font-size="12">0.6</text>
<text x="46.2" y="392.5" text-anchor="end" font-size="12">0.8</text>
<text x="46.2" y="347.9" text-anchor="end" font-size="12">1.0</text>
<text x="76.7" y="582.2" text-anchor="middle" font-size="12">1E-3</text>
<text x="160.7" y="582.2" text-anchor="middle" font-size="12">0.01</text>
<text x="245.6" y="582.2" text-anchor="middle" font-size="12">0.1</text>
<text x="330.5" y="582.2" text-anchor="middle" font-size="12">1</text>
<text x="204.0" y="604.5" text-anchor="middle" font-size="14.2">Time [s]</text>
<text transform="translate(11.9,455.9) rotate(-90)" text-anchor="middle" font-size="14.4">Relaxation signal [normalized]</text>
<rect x="236.5" y="351.4" width="113.6" height="40.8" fill="#fff" stroke="#333" stroke-width="0.85"/>
<path d="M237.7,358.1 H263.1" stroke="#111" stroke-width="1.6" fill="none"/>
<text x="266.1" y="362.1" font-size="11.3">10 s after mixing</text>
<path d="M237.7,372.2 H263.1" stroke="#3030cc" stroke-width="1.6" fill="none"/>
<text x="266.1" y="376.2" font-size="11.3">1 day</text>
<path d="M237.7,386.2 H263.1" stroke="#d03c44" stroke-width="1.6" fill="none"/>
<text x="266.1" y="390.2" font-size="11.3">4 days</text>
</svg>
</body></html>
